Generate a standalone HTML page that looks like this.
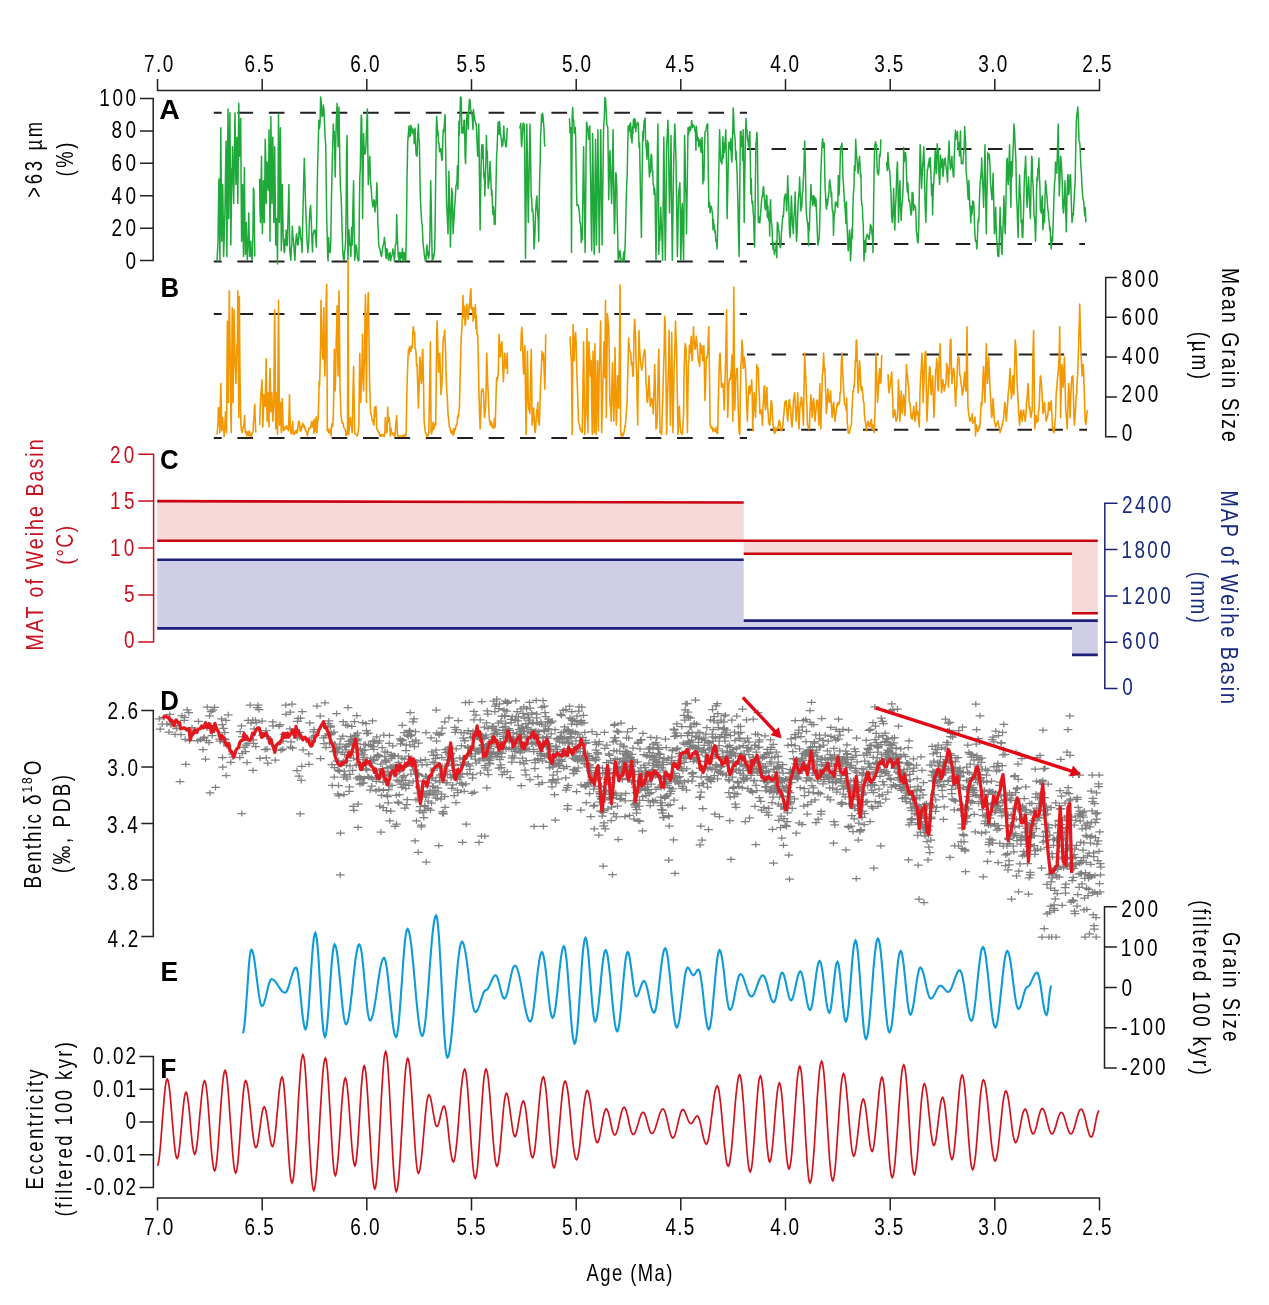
<!DOCTYPE html>
<html><head><meta charset="utf-8"><title>Figure</title>
<style>html,body{margin:0;padding:0;background:#fff;}svg{display:block;}</style>
</head><body>
<svg width="1269" height="1305" viewBox="0 0 1269 1305" style="font-family:'Liberation Sans',Arial,sans-serif"><g stroke="#231f20" stroke-width="1.5" fill="none">
<path d="M157.5 79.1V90.6H1099.5V79.1"/>
<path d="M262.2 79.1V90.6"/>
<path d="M366.8 79.1V90.6"/>
<path d="M471.5 79.1V90.6"/>
<path d="M576.2 79.1V90.6"/>
<path d="M680.8 79.1V90.6"/>
<path d="M785.5 79.1V90.6"/>
<path d="M890.2 79.1V90.6"/>
<path d="M994.8 79.1V90.6"/>
<path d="M157.5 1210.5V1198H1099.5V1210.5"/>
<path d="M262.2 1198V1210.5"/>
<path d="M366.8 1198V1210.5"/>
<path d="M471.5 1198V1210.5"/>
<path d="M576.2 1198V1210.5"/>
<path d="M680.8 1198V1210.5"/>
<path d="M785.5 1198V1210.5"/>
<path d="M890.2 1198V1210.5"/>
<path d="M994.8 1198V1210.5"/>
</g>
<text transform="translate(144 71.8) scale(0.8 1)" font-size="23.7" textLength="36.61" lengthAdjust="spacing">7.0</text>
<text transform="translate(144 1235) scale(0.8 1)" font-size="23.7" textLength="36.61" lengthAdjust="spacing">7.0</text>
<text transform="translate(244.4 71.8) scale(0.8 1)" font-size="23.7" textLength="36.66" lengthAdjust="spacing">6.5</text>
<text transform="translate(244.4 1235) scale(0.8 1)" font-size="23.7" textLength="36.66" lengthAdjust="spacing">6.5</text>
<text transform="translate(350.3 71.8) scale(0.8 1)" font-size="23.7" textLength="36.59" lengthAdjust="spacing">6.0</text>
<text transform="translate(350.3 1235) scale(0.8 1)" font-size="23.7" textLength="36.59" lengthAdjust="spacing">6.0</text>
<text transform="translate(456.4 71.8) scale(0.8 1)" font-size="23.7" textLength="36.42" lengthAdjust="spacing">5.5</text>
<text transform="translate(456.4 1235) scale(0.8 1)" font-size="23.7" textLength="36.42" lengthAdjust="spacing">5.5</text>
<text transform="translate(562 71.8) scale(0.8 1)" font-size="23.7" textLength="36.35" lengthAdjust="spacing">5.0</text>
<text transform="translate(562 1235) scale(0.8 1)" font-size="23.7" textLength="36.35" lengthAdjust="spacing">5.0</text>
<text transform="translate(665.6 71.8) scale(0.8 1)" font-size="23.7" textLength="36.00" lengthAdjust="spacing">4.5</text>
<text transform="translate(665.6 1235) scale(0.8 1)" font-size="23.7" textLength="36.00" lengthAdjust="spacing">4.5</text>
<text transform="translate(770.3 71.8) scale(0.8 1)" font-size="23.7" textLength="35.93" lengthAdjust="spacing">4.0</text>
<text transform="translate(770.3 1235) scale(0.8 1)" font-size="23.7" textLength="35.93" lengthAdjust="spacing">4.0</text>
<text transform="translate(874.3 71.8) scale(0.8 1)" font-size="23.7" textLength="36.38" lengthAdjust="spacing">3.5</text>
<text transform="translate(874.3 1235) scale(0.8 1)" font-size="23.7" textLength="36.38" lengthAdjust="spacing">3.5</text>
<text transform="translate(978.3 71.8) scale(0.8 1)" font-size="23.7" textLength="36.30" lengthAdjust="spacing">3.0</text>
<text transform="translate(978.3 1235) scale(0.8 1)" font-size="23.7" textLength="36.30" lengthAdjust="spacing">3.0</text>
<text transform="translate(1082.3 71.8) scale(0.8 1)" font-size="23.7" textLength="36.66" lengthAdjust="spacing">2.5</text>
<text transform="translate(1082.3 1235) scale(0.8 1)" font-size="23.7" textLength="36.66" lengthAdjust="spacing">2.5</text>
<text transform="translate(586.5 1281.1) scale(0.8 1)" font-size="23" textLength="107.23" lengthAdjust="spacing">Age (Ma)</text>
<path d="M153.2 98.5V260.6M140 98.5H153.9M140 130.9H153.9M140 163.3H153.9M140 195.8H153.9M140 228.2H153.9M140 260.6H153.9" stroke="#231f20" stroke-width="1.5" fill="none"/>
<text transform="translate(99.3 105.6) scale(0.8 1)" font-size="23.7" textLength="45.99" lengthAdjust="spacing">100</text>
<text transform="translate(111.6 138.2) scale(0.8 1)" font-size="23.7" textLength="30.64" lengthAdjust="spacing">80</text>
<text transform="translate(111.6 170.9) scale(0.8 1)" font-size="23.7" textLength="30.61" lengthAdjust="spacing">60</text>
<text transform="translate(111.5 203.5) scale(0.8 1)" font-size="23.7" textLength="30.72" lengthAdjust="spacing">40</text>
<text transform="translate(111.6 236.2) scale(0.8 1)" font-size="23.7" textLength="30.61" lengthAdjust="spacing">20</text>
<text transform="translate(125.6 268.8) scale(0.8 1)" font-size="23.7">0</text>
<path d="M1105.7 277.4V436.8M1105 277.4H1116.8M1105 317.2H1116.8M1105 357.1H1116.8M1105 396.9H1116.8M1105 436.8H1116.8" stroke="#231f20" stroke-width="1.5" fill="none"/>
<text transform="translate(1121.6 286.5) scale(0.8 1)" font-size="23.7" textLength="46.12" lengthAdjust="spacing">800</text>
<text transform="translate(1121.5 325) scale(0.8 1)" font-size="23.7" textLength="46.10" lengthAdjust="spacing">600</text>
<text transform="translate(1122 363.5) scale(0.8 1)" font-size="23.7" textLength="46.21" lengthAdjust="spacing">400</text>
<text transform="translate(1121.5 402) scale(0.8 1)" font-size="23.7" textLength="46.10" lengthAdjust="spacing">200</text>
<text transform="translate(1121.7 440.5) scale(0.8 1)" font-size="23.7">0</text>
<path d="M153.6 454.2V642M138.3 454.2H154.3M138.3 501.1H154.3M138.3 548.1H154.3M138.3 595H154.3M138.3 642H154.3" stroke="#c8101e" stroke-width="1.5" fill="none"/>
<text transform="translate(109.9 462.7) scale(0.8 1)" font-size="23.7" textLength="30.61" lengthAdjust="spacing" fill="#c8101e">20</text>
<text transform="translate(110.1 509.1) scale(0.8 1)" font-size="23.7" textLength="30.49" lengthAdjust="spacing" fill="#c8101e">15</text>
<text transform="translate(110 555.5) scale(0.8 1)" font-size="23.7" textLength="30.50" lengthAdjust="spacing" fill="#c8101e">10</text>
<text transform="translate(123.9 601.9) scale(0.8 1)" font-size="23.7" fill="#c8101e">5</text>
<text transform="translate(123.9 648.3) scale(0.8 1)" font-size="23.7" fill="#c8101e">0</text>
<path d="M1104.8 503.3V688.5M1104.1 503.3H1117.5M1104.1 549.6H1117.5M1104.1 595.9H1117.5M1104.1 642.2H1117.5M1104.1 688.5H1117.5" stroke="#1d1f78" stroke-width="1.5" fill="none"/>
<text transform="translate(1122.1 512.8) scale(0.8 1)" font-size="23.7" textLength="61.58" lengthAdjust="spacing" fill="#172a80">2400</text>
<text transform="translate(1121.6 558.2) scale(0.8 1)" font-size="23.7" textLength="61.47" lengthAdjust="spacing" fill="#172a80">1800</text>
<text transform="translate(1121.6 603.6) scale(0.8 1)" font-size="23.7" textLength="61.47" lengthAdjust="spacing" fill="#172a80">1200</text>
<text transform="translate(1122.1 649.1) scale(0.8 1)" font-size="23.7" textLength="46.10" lengthAdjust="spacing" fill="#172a80">600</text>
<text transform="translate(1122.3 694.5) scale(0.8 1)" font-size="23.7" fill="#172a80">0</text>
<path d="M153.3 710.5V936.5M141.3 710.5H154M141.3 767H154M141.3 823.5H154M141.3 880H154M141.3 936.5H154" stroke="#231f20" stroke-width="1.5" fill="none"/>
<text transform="translate(107.5 719) scale(0.8 1)" font-size="23.7" textLength="38.33" lengthAdjust="spacing">2.6</text>
<text transform="translate(107.3 776) scale(0.8 1)" font-size="23.7" textLength="38.40" lengthAdjust="spacing">3.0</text>
<text transform="translate(107.1 833) scale(0.8 1)" font-size="23.7" textLength="38.43" lengthAdjust="spacing">3.4</text>
<text transform="translate(107.4 890) scale(0.8 1)" font-size="23.7" textLength="38.38" lengthAdjust="spacing">3.8</text>
<text transform="translate(107.5 947) scale(0.8 1)" font-size="23.7" textLength="38.41" lengthAdjust="spacing">4.2</text>
<path d="M1104.5 906.7V1068.1M1103.8 906.7H1116.8M1103.8 947H1116.8M1103.8 987.4H1116.8M1103.8 1027.8H1116.8M1103.8 1068.1H1116.8" stroke="#231f20" stroke-width="1.5" fill="none"/>
<text transform="translate(1121.2 916.7) scale(0.8 1)" font-size="23.7" textLength="46.10" lengthAdjust="spacing">200</text>
<text transform="translate(1120.7 956.2) scale(0.8 1)" font-size="23.7" textLength="45.99" lengthAdjust="spacing">100</text>
<text transform="translate(1121.4 995.6) scale(0.8 1)" font-size="23.7">0</text>
<text transform="translate(1121.3 1035.1) scale(0.8 1)" font-size="23.7" textLength="55.39" lengthAdjust="spacing">-100</text>
<text transform="translate(1121.3 1074.6) scale(0.8 1)" font-size="23.7" textLength="55.39" lengthAdjust="spacing">-200</text>
<path d="M153.4 1056.4V1187.6M139.5 1056.4H154.1M139.5 1089.2H154.1M139.5 1122H154.1M139.5 1154.8H154.1M139.5 1187.6H154.1" stroke="#231f20" stroke-width="1.5" fill="none"/>
<text transform="translate(93.1 1063.8) scale(0.8 1)" font-size="23.7" textLength="53.83" lengthAdjust="spacing">0.02</text>
<text transform="translate(93 1096.5) scale(0.8 1)" font-size="23.7" textLength="53.84" lengthAdjust="spacing">0.01</text>
<text transform="translate(125.4 1129.3) scale(0.8 1)" font-size="23.7">0</text>
<text transform="translate(85.6 1162) scale(0.8 1)" font-size="23.7" textLength="63.09" lengthAdjust="spacing">-0.01</text>
<text transform="translate(85.7 1194.8) scale(0.8 1)" font-size="23.7" textLength="63.08" lengthAdjust="spacing">-0.02</text>
<text transform="translate(42.2 197.8) rotate(-90) scale(0.8 1)" font-size="23" textLength="95.00" lengthAdjust="spacing">&gt;63 µm</text>
<text transform="translate(72.8 176.6) rotate(-90) scale(0.8 1)" font-size="23" textLength="42.61" lengthAdjust="spacing">(%)</text>
<text transform="translate(42.9 650.6) rotate(-90) scale(0.8 1)" font-size="24.5" textLength="264.08" lengthAdjust="spacing" fill="#c8101e">MAT of Weihe Basin</text>
<text transform="translate(73.2 564.8) rotate(-90) scale(0.8 1)" font-size="24" textLength="48.73" lengthAdjust="spacing" fill="#c8101e">(°C)</text>
<text transform="translate(69.8 873.2) rotate(-90) scale(0.8 1)" font-size="23.5" textLength="122.91" lengthAdjust="spacing">(‰, PDB)</text>
<text transform="translate(43 1189.5) rotate(-90) scale(0.8 1)" font-size="23.3" textLength="149.96" lengthAdjust="spacing">Eccentricity</text>
<text transform="translate(71.6 1216.5) rotate(-90) scale(0.8 1)" font-size="23" textLength="218.09" lengthAdjust="spacing">(filtered 100 kyr)</text>
<text transform="translate(1222.3 267.9) rotate(90) scale(0.8 1)" font-size="24.3" textLength="217.43" lengthAdjust="spacing">Mean Grain Size</text>
<text transform="translate(1191.9 331.8) rotate(90) scale(0.8 1)" font-size="23.5" textLength="59.17" lengthAdjust="spacing">(µm)</text>
<text transform="translate(1220.6 490.4) rotate(90) scale(0.8 1)" font-size="24.5" textLength="266.96" lengthAdjust="spacing" fill="#172a80">MAP of Weihe Basin</text>
<text transform="translate(1191.4 571.8) rotate(90) scale(0.8 1)" font-size="23.5" textLength="63.79" lengthAdjust="spacing" fill="#172a80">(mm)</text>
<text transform="translate(1222.9 932.1) rotate(90) scale(0.8 1)" font-size="23.3" textLength="136.83" lengthAdjust="spacing">Grain Size</text>
<text transform="translate(1193.2 900.2) rotate(90) scale(0.8 1)" font-size="23.5" textLength="218.16" lengthAdjust="spacing">(filtered 100 kyr)</text>
<text transform="translate(41.4 888.5) rotate(-90) scale(0.8 1)" font-size="23.5" textLength="159.7" lengthAdjust="spacing">Benthic δ<tspan font-size="15" dy="-9">18</tspan><tspan dy="9">O</tspan></text>
<path d="M157.2 501.1L743.7 502.5V540.8H157.2Z" fill="#f6d8d9"/>
<rect x="743.7" y="540.8" width="328.3" height="13" fill="#f6d8d9"/>
<rect x="1072" y="540.8" width="25.8" height="72.4" fill="#f6d8d9"/>
<rect x="157.2" y="559.7" width="586.5" height="68.7" fill="#d0cde6"/>
<rect x="743.7" y="620.6" width="328.3" height="7.8" fill="#d0cde6"/>
<rect x="1072" y="620.6" width="25.8" height="34.3" fill="#d0cde6"/>
<g stroke-width="2.6" fill="none">
<path stroke="#c8000f" d="M157.2 501.1L743.7 502.5M157.2 540.8H1097.8 M743.7 553.8H1072 M1072 613.2H1097.8"/>
<path stroke="#1d1f78" d="M157.2 559.7H743.7 M743.7 620.6H1097.8 M157.2 628.4H1072 M1072 654.9H1097.8"/>
</g>
<g stroke="#231f20" stroke-width="2" fill="none">
<path d="M213.8 112.7H747" stroke-dasharray="15.7 15.7" stroke-dashoffset="7.8"/>
<path d="M213.8 261.5H747" stroke-dasharray="15.7 15.7" stroke-dashoffset="7.8"/>
<path d="M213.8 314H747" stroke-dasharray="15.7 15.7" stroke-dashoffset="7.8"/>
<path d="M213.8 437.9H747" stroke-dasharray="15.7 15.7" stroke-dashoffset="7.8"/>
<path d="M746.9 149H1085" stroke-dasharray="14.5 16.4" stroke-dashoffset="6.2"/>
<path d="M746.9 244H1085" stroke-dasharray="14.5 16.4" stroke-dashoffset="7.5"/>
<path d="M746.9 354.5H1087" stroke-dasharray="14.5 16.4" stroke-dashoffset="6.2"/>
<path d="M746.9 429.7H1087" stroke-dasharray="14.5 16.4" stroke-dashoffset="7.5"/>
</g>
<path d="M217 261.2L217.5 251.4L218 241.3L218.4 212L218.9 178.9L219.4 216.5L219.9 260.2L220.3 197.4L220.8 127.8L221.3 191.6L221.7 241.3L222.2 216L222.7 184.6L223.2 218.8L223.6 256.4L224.3 235.6L225 207.3L225.5 173.5L226.1 141.1L226.5 194.8L226.9 256.4L227.4 184.4L228 108.9L228.4 155.1L228.7 218.6L229.3 163.5L229.9 112.7L230.4 182.9L230.8 245.1L231.3 210.8L231.8 169.4L232.2 167.8L232.5 146.7L233.1 179.8L233.7 203.5L234.3 157.4L235 112.7L235.5 153.6L235.9 184.6L236.4 157.9L236.9 137.3L237.4 168.9L237.8 203.5L238.3 150L238.8 103.2L239.2 138.2L239.7 156.2L240.2 141.6L240.7 118.4L241.1 182.6L241.6 241.3L242.1 202L242.6 184.6L243 224L243.5 256.4L244 211.9L244.4 167.5L244.9 222.9L245.4 254.5L245.9 231.7L246.3 222.4L246.8 244.1L247.3 260.2L247.8 247.3L248.3 236.8L248.8 212.9L249.2 238.7L249.6 256.4L250.1 248.4L250.7 241.3L251.3 256.4L252 260.2L252.5 248.6L253 231.8L253.4 188.1L253.9 190.2L254.4 224.4L254.8 256.4M259.6 178.9L260 209.7L260.5 222.4L261 186.7L261.5 156.2L261.9 202.1L262.4 233.7L262.9 203.7L263.4 180.8L263.8 200.7L264.3 222.4L264.8 182.5L265.2 139.2L265.7 155.5L266.2 203.5L266.7 180.5L267.1 161.9L267.6 174.2L268.1 188.3L268.6 190.3L269 129.7L269.5 168.4L270 241.3L270.4 184.8L270.9 116.5L271.4 163.4L271.9 203.5L272.3 166.6L272.8 137.3L273.3 178.3L273.8 222.4L274.2 200.5L274.7 146.7L275.2 194L275.7 245.1L276.1 231.8L276.6 218.6L277.1 238.6L277.5 264L278 201.5L278.5 114.6L279 164.7L279.4 222.4L279.9 171.8L280.4 127.8L280.9 184.2L281.3 250.8L281.8 217.2L282.3 184.6L282.7 209.5L283.2 237.5L283.7 244.8L284.2 252.6L284.6 251.9L285.1 238.4L285.6 244.7L286.1 230L286.7 245.8L287.4 245.1L287.9 221.2L288.4 206.8L288.9 184.6L289.4 220.1L289.8 250.8L290.3 256.3L290.8 260.2L291.3 248.1L291.8 245.5L292.3 226.2L293 237.4L293.6 241.3L294.3 252.2L294.9 260.2L295.4 249.4L295.9 240.3L296.5 233.7L297 237.2L297.5 243.9L298 245.1L298.6 239.6L299.3 226.2L300 228.5L300.6 237.5L301.1 240L301.6 245L302.1 252.6L302.6 226.1L303.1 207.6L303.6 184.6L304.3 158.3L305 182.7L305.6 204.7L306.3 222.4L306.8 237.9L307.3 244.7L307.8 252.6L308.3 246.8L308.8 241.6L309.3 222.4L310 209.6L310.6 205.4L311.3 221.1L312 241.3L312.5 252L313 233.9L313.5 233.7L314 230.4L314.5 231.6L315 230L315.7 239.3L316.3 247L317 203.2L317.6 165.7L318.2 146L318.8 120.3L319.4 128.7L320.1 122.2L320.6 97L321 99.5L321.5 108.6L322 116.5L322.6 115.7L323.3 105.1L323.9 108.8L324.4 120.3L325.1 136.6L325.8 146.7L326.2 181.7L326.7 218.6L327.2 235.9L327.7 256.4L328.1 261L328.6 237.5L329.1 246.8L329.6 252.3L330.1 252.6L330.8 241L331.4 203.5L331.9 177L332.4 156.2L332.9 139L333.3 124L333.8 134.8L334.3 131.6L334.8 156.6L335.2 177L335.7 145.1L336.2 124L336.6 115.2L337.1 103.2L337.6 127.7L338.1 146.7L338.5 118.3L339 107L339.5 140.4L340 171.3L340.5 189.7L341 194.3L341.5 207.3L342.1 230.6L342.8 252.6L343.5 258.9L344.1 260.2L344.6 250.7L345.1 249.1L345.6 241.3L346.1 210.9L346.6 148.8L347.1 135.4L347.5 203.8L347.9 260.2L348.4 245.5L348.9 229.7L349.4 237.5L349.9 245.6L350.4 244.4L350.9 256.4L351.6 227.6L352.2 245.1L352.9 207.3L353.6 180.8L354.1 227.9L354.7 260.2L355.4 253.4L356 245.1L356.7 248.3L357.4 258.3L357.9 258.8L358.4 261L358.9 260.2L359.3 215.2L359.8 177L360.3 169L360.8 137.3L361.2 115.3L361.7 118.4L362.2 164.5L362.6 218.6L363.1 175.3L363.6 133.5L364.1 147.1L364.5 152.4L365 154.2L365.5 151.9L366.1 143L366.7 124.4L367.4 108.9L367.8 147.6L368.3 184.6L368.8 171.5L369.3 162.8L369.8 156.2L370.5 181.5L371.2 188.3L371.8 198.5L372.5 203.5L373 206.9L373.5 202.6L374 199.7L374.5 201.2L375 212L375.5 207.3L376.2 201.4L376.8 182.7L377.3 192.6L377.8 222.4L378.3 232.3L378.7 245.1L379.4 248L380 248.9L380.6 253.4L381.1 255.5L381.6 256.4L382.1 252.1L382.6 248.8L383.1 245.1L383.7 243.6L384.4 237.5L385.1 243.1L385.7 256.4L386.2 258.4L386.7 248.8L387.2 248.9L387.7 253.2L388.2 259.2L388.7 260.2L389.4 253.8L390.1 252.6L390.7 261L391.4 256.4L391.9 255.9L392.4 253.3L392.9 248.9L393.4 252.4L393.9 254.2L394.3 261L394.8 256.4L395.3 245.1L395.7 244.5L396.2 242.5L396.7 214.8L397.2 233.1L397.7 245.3L398.2 256.4L398.7 255.5L399.1 261L399.6 252.6L400.1 260.2L400.6 252.9L401 252.9L401.5 257.9L402 256.4L402.4 248.2L402.9 261L403.3 256.4L403.8 252.6L404.3 252.6L404.8 261L405.3 254.3L405.8 260.2L406.1 245.7L406.5 222.4L407.1 175L407.7 143L408.3 135.1L409 125.9L409.6 136.7L410.3 135.4L410.8 125.2L411.3 129L411.8 127.8L412.3 133.6L412.8 131.3L413.2 129.2L413.7 129.7L414.2 143.8L414.7 137L415.1 128.3L415.6 143L416.1 154.7L416.6 154.9L417.1 156.2L417.8 133.2L418.4 124L418.9 138.8L419.4 143L419.9 173L420.3 195.9L421 209.6L421.7 222.4L422.2 224.4L422.7 235.6L423.2 245.1L423.7 248.4L424.2 254.1L424.7 256.4L425.3 261L426 260.2L426.5 250L427 245.1L427.5 254.9L428 252.1L428.5 258.3L429.1 255L429.8 241.3L430.3 209.6L430.7 180.8L431.2 202.6L431.7 233.6L432.2 260.2L432.7 254.6L433.2 259.2L433.7 256.7L434.2 253.3L434.7 248.9L435.2 219.3L435.7 175.4L436.1 146.1L436.6 116.5L437.1 122.7L437.6 135.4L438 130.7L438.5 143L439 142.8L439.5 151.8L439.9 148.5L440.4 150.5L440.9 148.6L441.3 155.4L441.8 160.2L442.3 160L442.8 140.5L443.2 129.7L443.7 132L444.2 127.1L444.7 118.6L445.1 114.6L445.6 149.1L446.1 175.4L446.6 203.5L447.3 217L448 233.7L448.4 208.3L448.9 171.3L449.4 197.2L449.9 214.6L450.4 247L451.1 218.4L451.7 188.3L452.4 194L453.1 233.7L453.6 224.1L454.1 217.1L454.6 207.3L455.1 200.9L455.5 194.1L456 185.8L456.5 184.6L457 181.6L457.4 166L457.9 189.2L458.4 165.7L458.9 121.2L459.4 135L459.9 116.5L460.5 97L461.2 97.6L461.9 133L462.5 127.8L463 133.2L463.5 130.2L464 120.3L464.5 120.2L465.1 156.5L465.6 163.8L466.2 135.6L466.9 114.6L467.4 112.9L467.8 113.7L468.3 129.3L468.8 110.8L469.4 99.3L470.1 100.4L470.6 110.2L471.1 110.5L471.6 114.6L472.1 114.1L472.6 122.6L473 129.5L473.5 109.5L474 115.2L474.4 116.5L474.9 120.5L475.4 121.3L475.9 124.3L476.3 124L477 141.5L477.7 156.2L478.2 150.3L478.8 124L479.5 178.4L480.1 230L480.8 181.8L481.4 152.4L481.9 144.5L482.5 158.3L483 144.8L483.4 163L483.9 177.7L484.4 172.7L484.8 195.9L485.4 176.6L485.9 160.6L486.4 135.4L486.8 150.3L487.3 151.6L487.7 168.7L488.2 188.3L488.6 184.6L489.1 181.7L489.6 173.9L490 161.4L490.5 171.3L491 182.4L491.5 195.1L491.9 190.3L492.4 203.5L492.9 214.4L493.4 206.4L493.8 210.8L494.3 224.4L494.8 221.5L495.2 224.3L495.9 190L496.6 156.2L497.1 148.8L497.6 134L498.1 122.2L498.6 125.5L499 134.2L499.5 121.5L500 127.8L500.4 132.4L500.9 136.7L501.4 139.5L501.9 146.7L502.3 139.9L502.8 145.5L503.3 137.8L503.8 125.9L504.2 135.9L504.7 139.4L505.2 141.9L505.7 146.7L506.2 146.7L506.7 140.6L507.2 127.8M519.8 125.9L520.3 128.6L520.8 123.3L521.3 141.9L521.7 146.7L522.4 134.6L523 124L523.6 123.2L524.1 123.9L524.6 141.1L525 196.4L525.5 258.3L526.2 192.9L526.8 124L527.3 152.6L527.8 194L528.3 222.4L528.8 190.7L529.4 155.7L529.9 124L530.5 152.6L531.2 197.8L531.7 198L532.1 211.4L532.6 209.3L533.1 212.9L533.5 223.9L534 248.9L534.5 242.9L535 232.3L535.5 214.8L536.2 202.1L536.9 195.9L537.3 207.3L537.8 215.3L538.3 221.6L538.7 241.3L539.2 203.4L539.7 175.1L540.2 161.4L540.6 135.9L541.1 126L541.6 114.6L542.1 122.1L542.5 113.2L543 115.8L543.5 122.2L544 128.6L544.5 144L545 146.7M569 118.4L569.5 119L570 132.9L570.4 129.7L570.9 127.8L571.2 193.2L571.5 252.6L571.8 185.8L572.2 116.5L572.7 107.6L573.2 121.6L573.7 120.3L574.2 133.3L574.7 127.3L575.2 127.5L575.6 135.4L576.1 167.9L576.6 195.9L577 205.6L577.5 204.6L578 205.1L578.5 205.4L578.9 210L579.4 212.7L579.9 222.5L580.4 222.4L580.8 228.9L581.3 242.5L581.8 239.8L582.2 239.4L582.9 193.3L583.6 146.7L584.1 186.7L584.6 218.8L585.1 252.6L585.6 209.6L586.1 150.1L586.6 122.2L587.1 125.8L587.5 126.1L588 130.8L588.5 139.2L589.1 132.7L589.8 125.9L590.3 163.7L590.8 188.8L591.2 224.7L591.7 250.8L592.2 194.5L592.6 133.5L593.2 175L593.7 223.8L594.2 254.5L594.8 205.5L595.5 139.2L596 194.2L596.4 245.1L596.9 211.1L597.4 168.3L597.9 129.7L598.6 192.3L599.3 252.6L599.8 207.4L600.3 177L600.8 129.7L601.4 188.8L602.1 245.1L602.6 201.8L603.1 165.1L603.6 127.8L604.3 118.3L604.9 97.6L605.6 99.2L606.3 112.7L606.8 124.8L607.3 125.6L607.8 127.8L608.3 161.7L608.7 199.7L609.4 169L610 150.5L610.6 167.7L611.1 187.5L611.6 203.5L612.1 184.9L612.6 158.4L613.1 129.7L613.7 183.5L614.4 233.7L614.9 219.3L615.3 194.7L615.8 172.7L616.3 175.1L616.8 186.9L617.2 216.8L617.7 235.4L618.2 260.2L618.7 261L619.1 251.3L619.6 252.3L620.1 250.8L620.5 257.2L621 258.6L621.5 261L622 260.2L622.4 261L622.9 261L623.4 254.7L623.9 251.8L624.3 261L624.8 252.6L625.3 239.7L625.7 222.8L626.2 200.9L626.7 184.6L627.2 175.1L627.7 147.8L628.2 125.9L628.7 132.6L629.1 130.5L629.6 124.6L630.1 129.7L630.6 122.8L631 137.5L631.5 139.1L632 143L632.5 126.4L632.9 133.9L633.4 119.7L633.9 120.3L634.3 118.6L634.8 127.9L635.3 119.7L635.8 131.6L636.2 126.5L636.7 124.2L637.2 123.8L637.7 122.2L638.1 123.4L638.6 132.9L639.1 148L639.6 143L640 167.2L640.5 195.5L641 213.9L641.4 237.5L642.1 176.1L642.8 131.6L643.2 140.1L643.7 127.6L644.2 120.2L644.7 124L645.1 118.1L645.6 141.2L646.1 147.3L646.5 150.5L647 159.4L647.5 140.6L648 151.3L648.4 143L648.9 164.7L649.4 177L649.9 166L650.3 172.7L650.8 158L651.3 154.3L651.7 156.6L652.2 172.1L652.7 170.8L653.2 184.6L653.6 184.9L654.1 194.7L654.6 188.5L655.1 194L655.5 226.6L656 260.2L656.5 228.3L657 195.1L657.4 153.7L657.9 124L658.4 181.2L658.8 254.5L659.3 235.6L659.8 240.6L660.3 222.5L660.7 207.3L661.2 221.8L661.7 229.2L662.2 245.4L662.6 260.2L663.2 200L663.8 137.3L664.3 175.1L664.8 222.5L665.3 260.2L666 212.3L666.6 146.7L667.3 134.5L667.9 120.3L668.4 135.7L669 182.1L669.5 212.9L670 186L670.5 168.8L671 135.4L671.6 202L672.3 260.2L673 211.3L673.6 165.7L674.2 143.3L674.8 124L675.4 137.4L676.1 165.7L676.7 209.1L677.4 256.4L678 227L678.5 195.9L679.2 188.5L679.9 182.7L680.3 214.2L680.8 260.2L681.3 241.9L681.8 210.3L682.3 203.5L683 238.3L683.6 260.2L684.1 199.6L684.6 135.4L685.1 155.3L685.5 186.4L686 195.1L686.5 233.7L687 200L687.5 166.3L688 127.8L688.5 134.7L688.9 133L689.4 126.7L689.9 129.7L690.5 130.5L691.2 125.9L691.7 120.4L692.2 126.5L692.6 127.7L693.1 125L693.6 125.4L694 126.1L694.5 126.7L695 131.6L695.5 133L695.9 150.3L696.4 126.2L696.9 133.5L697.4 137.5L697.8 141L698.3 138.1L698.8 146.7L699.2 143.7L699.7 145L700.2 139.2L700.7 150.5L701.3 152.6L702 137.3L702.5 150.2L702.9 183.9L703.4 168.3L703.9 180.8L704.4 153.3L705 131.6L705.7 131.4L706.3 127.8L707 124.4L707.7 124L708.2 164.4L708.8 207.3L709.5 202.2L710.1 212.9L710.6 205.9L711.1 209.1L711.5 206.8L712 211L712.5 213.8L713 229.7L713.4 219.4L713.9 226.2L714.4 225.1L714.8 232.6L715.3 230.7L715.8 241.3L716.5 239.6L717.1 248.9L717.7 227.8L718.3 203.5L718.9 168.5L719.6 129.7L720.2 149.7L720.9 161.9L721.4 161.5L721.9 163.9L722.4 156.2L722.9 136.8L723.4 158.1L723.8 143.2L724.3 152.4L724.8 147.2L725.3 137.6L725.8 129.7L726.5 164.9L727.1 218.6L727.8 187.9L728.5 150.5L729 142L729.5 146.6L730 143L730.4 150L730.9 138.5L731.4 159.9L731.9 161.9L732.5 143.8L733.2 108L733.7 116.9L734.2 132.7L734.7 135.4L735.2 140.7L735.7 159.6L736.1 151.2L736.6 163.8L737.1 173.9L737.5 188.3L738 207.3L738.6 238.4L739.1 256.4L739.7 197.1L740.4 131.6L741 131.3L741.7 146.7L742.2 137L742.7 160.5L743.2 129.7L743.7 175.5L744.2 222.4L744.8 176.1L745.5 133.5L746 118.5L746.5 130.3L747 129.7L747.5 140.3L748 140.9L748.5 146.7L749.2 136.8L749.8 131.6L750.3 157.3L750.8 194L751.3 178.8L751.7 198.9L752.2 204.1L752.7 201.6L753.1 211.6L753.6 216.1L754.1 236.4L754.6 247L755.2 199.7L755.9 143L756.4 141.6L756.9 132.3L757.4 141.1L757.9 190.7L758.3 222.4L758.8 221.8L759.3 217L759.8 223L760.2 218.6L760.7 212.4L761.2 205.9L761.7 199.2L762.1 195.9L762.6 196.2L763.1 188L763.6 186.5L764.3 198L765 207.3L765.4 209.8L765.9 205L766.4 195.1L766.9 195.9L767.3 217.3L767.8 205.7L768.3 215.6L768.7 220.5L769.2 212.3L769.7 236L770.2 204.9L770.6 199.7L771.1 220.1L771.6 223.3L772.1 228.5L772.5 241.3L773 249.3L773.5 242.4L773.9 249.5L774.4 254.5L774.9 250.3L775.4 250.9L775.8 250.3L776.3 241.3L776.8 257.7L777.3 222.2L777.7 222.8L778.2 226.2L778.7 231.3L779.1 232.9L779.6 243L780.1 247L780.6 247.7L781 243.2L781.5 231.9L782 226.2L782.5 219.3L782.9 215.4L783.4 216.6L783.9 207.3L784.4 197.4L784.9 196.3L785.4 194L786.1 200.4L786.7 211L787.2 194.6L787.7 175.7L788.2 192.1L788.7 201.8L789.2 221.4L789.6 232.4L790.1 237.5L790.8 214.8L791.4 195.9L791.9 209.2L792.4 225.4L792.9 227.8L793.3 233.7L793.8 218.6L794.3 211.7L794.8 205.1L795.2 192.1L795.9 222.9L796.5 241.3L797.1 232.2L797.6 217.2L798.1 203.5L798.6 195.6L799.1 192.2L799.6 177L800.2 194L800.9 211L801.4 204L801.8 207L802.3 192.8L802.8 192.1L803.3 180.4L803.7 172.7L804.2 159.2L804.7 141.1L805.3 162.4L806 203.5L806.5 215.1L807 218.8L807.5 222.4L808 227.8L808.5 245.4L808.9 222.9L809.4 230L809.9 211L810.4 201.3L810.9 184.6L811.6 199.7L812.2 195.9L812.7 205.5L813.2 200.7L813.7 195.7L814.1 203.5L814.6 197.3L815.1 206.3L815.6 198.5L816 199.7L816.5 211.7L817 224.3L817.4 235.3L817.9 245.1L818.6 241.5L819.2 237.5L819.7 224.6L820.3 199.5L820.8 175.1L821.3 161.7L821.8 148.7L822.3 141.1L822.7 138.8L823.2 147.5L823.7 147.6L824.2 143L824.6 164.6L825.1 187L825.6 195.7L826.1 207.3L826.5 209.2L827 199.6L827.5 205.3L827.9 199.7L828.4 195.8L828.9 192.8L829.3 184.1L829.8 179.7L830.2 184.6L830.7 187.2L831.2 196.9L831.6 192L832.1 207.3L832.6 212.3L833 210.7L833.5 235.3L834 218.6L834.5 212.9L834.9 212.8L835.4 201.9L835.9 203.5L836.4 205.5L836.8 205.3L837.3 202.1L837.8 207.3L838.3 175.5L838.8 195.4L839.3 192.1L840 168.1L840.6 146.7L841.3 146.9L841.9 143L842.4 154.8L842.9 177.3L843.5 184.6L844 194.1L844.5 202.2L845 207.3L845.4 212.9L845.9 223.4L846.4 201.8L846.9 222.4L847.5 235.2L848.2 250.8L848.8 245.2L849.5 230L850 234.9L850.5 261L851 252.6L851.5 241.6L852 228.2L852.4 238.3L852.9 207.3L853.4 192.9L853.9 189.6L854.4 165.7L855.1 170.7L855.7 139.2L856.2 151.1L856.7 156.8L857.2 161.4L857.6 169.4L858.1 173.4L858.6 164.4L859.1 160.9L859.5 156.2L860 164.3L860.5 177.1L860.9 174L861.4 199.7L861.9 204.4L862.4 207.2L862.8 219.3L863.3 226.2L864 261L864.6 248.9L865.1 240.4L865.6 252.2L866.1 237.5L866.6 236.8L867.1 234.1L867.6 236.6L868 235.6L868.5 238.3L869 239.5L869.5 234.5L869.9 233.7L870.4 224.2L870.9 227.8L871.4 226.2L871.9 232.6L872.5 237.8L873 252.6L873.5 213.5L874.1 169.9L874.7 146.7L875.1 145L875.6 141.7L876.1 146.5L876.5 144.8L877 166.6L877.5 173.2L878 172.4L878.5 175L879 169.4L879.5 154.3L880 156.8L880.4 152.2L880.9 139.2M886.6 161.9L887.3 170.6L887.9 152.4L888.4 159.2L889 169.3L889.5 169.4L890 175.2L890.5 185.7L891 192.1L891.6 216.6L892.3 222.4L893 210.9L893.6 188.3L894.2 211.5L894.8 230L895.4 209.2L896.1 195.9L896.7 174.5L897.4 161.9L898 187.5L898.5 222.4L899.2 199.8L899.9 180.8L900.5 205.2L901.2 220.5L901.7 206.6L902.2 203L902.7 195.9L903.2 185.5L903.7 147.4L904.2 161.9L904.9 157.9L905.5 152.4L906 157.7L906.5 173.5L907 187.3L907.4 192.1L907.9 183.1L908.4 194.8L908.8 201.2L909.3 199.7L910 204.2L910.6 211L911.1 215L911.6 213.1L912.1 192.2L912.5 199.7L913 193.1L913.5 210.3L914 207.3L914.5 204.9L915 207.3L915.5 207.1L915.9 214.8L916.4 232.1L916.9 233.4L917.4 241.3L918.1 242.9L918.8 226.2L919.4 185.7L920.1 144.8L920.6 152.3L921.1 174.3L921.6 188.3L922.1 175.8L922.6 166.3L923.1 160L923.8 146.9L924.4 169.4L925.1 202.9L925.8 222.4L926.3 208.3L926.8 185.1L927.3 169.4L927.8 169.3L928.3 164.6L928.8 161.9L929.3 158.6L929.7 166.9L930.2 157.5L930.7 167.5L931.2 182.9L931.6 195.8L932.1 184.2L932.6 214.8L933.2 190.7L933.9 180.8L934.6 166.8L935.2 150.5L935.7 156.4L936.2 173.4L936.7 169.4L937.2 143.8L937.7 158.1L938.3 148.6L938.9 173.4L939.6 184.6L940 178.2L940.5 155.2L941 166.6L941.5 161.9L941.9 167.4L942.4 158.7L942.9 176.5L943.4 173.2L943.8 165.8L944.3 159.4L944.8 164.8L945.2 158.1L945.7 164.4L946.2 167.4L946.7 171.3L947.1 177L947.6 181.9L948.1 160.6L948.6 152.2L949 141.1L949.7 158.7L950.4 169.4L950.9 166.9L951.4 161.5L951.9 156.2L952.3 167.1L952.8 169.4L953.3 176.5L953.8 177L954.2 158.1L954.7 146.7L955.4 130.3L956 139.2L956.5 133.6L957 136.2L957.5 131.6L958 149L958.6 142.5L959.1 148.6L959.5 156L960 143.6L960.5 130.9L960.9 154.3L961.4 163.6L961.9 163.2L962.4 162.2L962.8 163.8L963.3 158.5L963.7 152.1L964.2 145.8L964.7 126.6L965.1 135.4L965.6 141.8L966.1 170.8L966.6 177L967.3 183.9L967.9 195.9L968.4 199.4L968.9 180.5L969.4 195.2L969.8 207.3L970.3 210.2L970.8 222.8L971.3 206.2L971.7 214.8L972.2 212.3L972.7 201.1L973.1 203.1L973.6 201.6L974.1 210.9L974.6 226.4L975 235L975.5 241.3L976.2 240.7L976.8 248.9L977.3 241.3L977.8 226.8L978.3 218.6L978.8 221.9L979.4 200.5L979.9 188.3L980.3 181.1L980.8 177.6L981.3 170.5L981.7 158.1L982.2 173.2L982.7 183.4L983.2 193.4L983.6 207.3L984.3 175.3L985 144.8L985.6 190.4L986.3 233.7L986.8 199.4L987.3 180.7L987.8 152.4L988.3 158.4L988.8 155.2L989.3 154.3L990 166L990.6 184.6L991.3 192.2L992 199.7L992.5 189.8L993.1 173.2L993.8 204.3L994.4 233.7L995.1 222.2L995.7 207.3L996.2 230.1L996.8 240.7L997.3 247L997.8 255.2L998.3 256.5L998.8 256.4L999.4 236.3L1000.1 207.3L1000.6 228.1L1001 226.2L1001.5 250.7L1002 254.5L1002.5 234.4L1002.9 231L1003.4 216.1L1003.9 195.9L1004.5 216.3L1005.2 233.7L1005.7 214.7L1006.2 187.6L1006.7 161.9L1007.2 158.2L1007.7 177.8L1008.2 184.6L1008.9 164.7L1009.6 144.8L1010.2 181.3L1010.9 207.3L1011.4 161.5L1011.9 177.3L1012.4 169.4L1012.9 154.5L1013.4 142.3L1013.9 124L1014.6 131.7L1015.2 146.7L1015.9 160L1016.5 195.9L1017.1 206.9L1017.6 224.7L1018.1 237.5L1018.6 213.2L1019.1 191.5L1019.6 175.1L1020.1 193.6L1020.6 198.4L1021.1 222.4L1021.7 220.1L1022.2 237L1022.8 237.5L1023.5 213.1L1024.1 188.3L1024.6 171.4L1025.1 167.4L1025.6 156.2L1026.1 172.2L1026.6 195.5L1027.1 207.3L1027.8 191.3L1028.5 177L1028.9 184.4L1029.4 200.1L1029.9 209.5L1030.4 218.6L1031 186.9L1031.7 156.2L1032.2 160.1L1032.6 180L1033.1 184.5L1033.6 199.7L1034 215.8L1034.5 217.3L1035 224.1L1035.5 241.3L1036 223.3L1036.5 194.4L1037 177L1037.4 181L1037.9 168.2L1038.4 169.7L1038.9 158.1L1039.4 176.8L1039.9 186.1L1040.4 211L1040.9 209.6L1041.3 213.2L1041.8 200.7L1042.3 195.9L1042.9 229.8L1043.6 222.4L1044.1 209L1044.5 222.1L1045 199.1L1045.5 180.8L1046 185.2L1046.4 190.1L1046.9 195.7L1047.4 203.5L1047.8 209L1048.3 212L1048.8 219.4L1049.3 222.4L1049.7 230L1050.2 227.4L1050.7 243.2L1051.2 248.9L1051.8 237.3L1052.5 241.3L1053 228.4L1053.5 212.6L1054 195.9L1054.5 183.6L1055 179.8L1055.5 161.9L1056.2 167.4L1056.8 173.2L1057.5 150L1058.2 124L1058.7 161.8L1059.3 195.9L1060 177.7L1060.6 156.2L1061.3 162.4L1061.9 173.2L1062.4 188.5L1062.9 207.6L1063.5 212.9L1064 203.6L1064.5 196.7L1065 180.8L1065.6 208.5L1066.3 231.8L1067 196.6L1067.6 177L1068.1 174.6L1068.6 194.8L1069.1 192.1L1069.6 182.8L1070.1 174.7L1070.6 175.1L1071.3 201.1L1072 222.4L1072.4 219.8L1072.9 213.7L1073.4 215L1073.9 203.5L1074.5 193.1L1075.2 180.8L1075.7 149L1076.3 122.2L1076.8 115L1077.3 112.2L1077.8 107L1078.4 119.3L1079 141.1L1079.5 141.5L1080.1 146.7L1080.8 165.2L1081.4 173.2L1082.1 188.7L1082.7 195.9L1083.2 199.8L1083.8 201.7L1084.3 211L1084.8 215.7L1085.3 207.7L1085.8 222.4" stroke="#1fa93a" stroke-width="1.5" fill="none" stroke-linejoin="round"/>
<path d="M217 434.5L217.5 429.6L218 423.2L218.4 407.6L218.9 408.1L219.4 421.9L219.9 432.6L220.3 406.2L220.8 383.5L221.3 406.2L221.7 430.8L222.2 424.9L222.7 417.5L223.2 426.8L223.7 430L224.2 436.4L224.9 425.1L225.5 411.8L226 425L226.5 432.6L227 373.4L227.4 321.1L227.9 360.4L228.4 402.4L228.8 343.1L229.3 290.8L229.8 328.5L230.3 364.6L230.7 400.7L231.2 432.6L231.7 379.3L232.2 307.8L232.6 351.5L233.1 402.4L233.6 348.9L234 309.7L234.5 337.8L235 360.8L235.5 371.8L235.9 383.5L236.4 361.6L236.9 345.7L237.4 341.2L237.8 290.8L238.3 360.2L238.8 417.5L239.1 352.8L239.3 296.5L239.7 342.7L240.1 383.5L240.5 406.2L240.9 425.1L241.4 430L242 432.6L242.5 430.7L243 427.1L243.5 427L244.1 424.3L244.6 415.6L245 426.4L245.4 432.6L245.9 433.4L246.3 431.5L246.8 435.9L247.3 434.5L247.8 432L248.2 432.5L248.7 435.4L249.2 430.8L249.6 431.7L250.1 436L250.6 434.4L251.1 436.4L251.5 436L252 433.7L252.5 432.6L253 432.6L253.4 423L253.9 420.1L254.4 408L254.8 404.3L255.3 422.6L255.8 432.6M259.6 425.1L260.2 407.5L260.9 392.9L261.5 388.1L262 379.7L262.4 397.9L262.8 427L263.4 410.4L263.9 394.8L264.6 396.2L265.2 406.2L265.7 380.5L266.2 358.9L266.7 395.1L267.1 421.3L267.6 408.2L268.1 392.9L268.6 412.9L269 427L269.5 388.4L270 368.3L270.4 383.8L270.9 411.8L271.4 399.4L271.9 392.9L272.3 407.6L272.8 421.3L273.3 411.1L273.8 406.2L274.2 353.2L274.7 309.7L275.2 372.5L275.7 428.9L276.1 408.3L276.6 392.9L277.1 417.7L277.5 434.5L278 368.5L278.5 300.3L279 357.5L279.4 425.1L279.9 412.2L280.4 402.4L280.9 417.7L281.3 432.6L281.8 412.9L282.3 398.6L282.7 413L283.2 430.8L283.7 429.9L284.2 430.2L284.6 427L285.1 428.9L285.6 428.8L286.1 427.5L286.5 425.9L287 427L287.5 428.9L288 428.7L288.5 430.8L289 414.3L289.5 394.8L289.9 414.2L290.4 428.9L291.1 433.9L291.7 432.6L292.2 426.2L292.7 421.3L293.1 432.4L293.6 434.5L294.1 434.5L294.6 432.4L295 432.7L295.5 430.8L296 433.3L296.5 430.1L296.9 431.9L297.4 432.6L298.1 425.9L298.7 421.3L299.2 421.2L299.7 424.8L300.2 430.8L300.7 431.3L301.2 429.7L301.7 426L302.1 427L302.6 423.1L303.1 424.9L303.5 425.9L304 425.1L304.5 428.1L305 427.1L305.5 430.8L306.2 431.1L306.9 432.6L307.3 436L307.8 432.1L308.3 432L308.7 428.9L309.2 428L309.7 428.4L310.2 428.2L310.6 427L311.1 426.3L311.6 421.5L312.1 427L312.5 425.1L313 423.4L313.5 421L313.9 433.3L314.4 419.4L315.1 431.3L315.7 425.1L316.3 416.7L316.9 432.6L317.5 423.5L318.2 417.5L318.7 400L319.1 381.6L319.6 385.7L320.1 364.6L320.6 343.6L321 300.3L321.5 317.6L322 341.9L322.5 353.7L322.9 358.9L323.4 339L323.9 307.8L324.3 358.3L324.8 375.9L325.3 356.2L325.8 336.2L326.2 299.4L326.7 284.2L327 346.6L327.3 430.8L327.9 428.5L328.6 432.6L329.1 432.2L329.6 432.9L330 429.8L330.5 428.9L331 436L331.4 428.3L331.9 423.8L332.4 427L332.9 422.9L333.3 417.5L333.8 389L334.3 349.4L334.8 363.5L335.2 391L335.7 370L336.2 341.9L336.6 329.6L337.1 305.9L337.6 344.6L338.1 375.9L338.5 335.4L339 290.8L339.5 329.8L340 387.3L340.4 397.2L340.9 413.7L341.4 418.2L341.8 421.3L342.3 423.1L342.8 422.6L343.3 424.8L343.7 427L344.2 428.3L344.7 428.5L345.2 429.9L345.6 430.8L346.1 435.5L346.6 433.1L347 432.2L347.5 434.5L347.8 344.9L348.1 260.5L348.4 351.4L348.7 434.5L349.2 428.7L349.8 423.7L350.4 417.5L350.8 421.7L351.3 424.1L351.8 428.3L352.2 432.6L352.9 396.7L353.6 366.5L354.1 401.1L354.7 432.6L355.4 434.3L356 434.5L356.5 435L357 436L357.4 435L357.9 434.5L358.4 429.1L358.9 425.1L359.3 384.4L359.8 353.2L360.3 379.2L360.8 402.4L361.2 386.8L361.7 375.9L362.2 353.4L362.6 334.3L363.1 376.8L363.6 391L364.1 367L364.5 360.8L365 317.4L365.5 294.6L366 343.1L366.4 402.4L366.9 344.4L367.4 317.3L367.8 307.2L368.3 292.7L368.8 326.3L369.3 364.6L369.7 386.4L370.2 402.4L370.7 413.4L371.2 413.7L371.8 418.1L372.5 421.3L373 420.2L373.5 424.4L374 425.1L374.5 407.2L374.9 416.9L375.4 411.4L375.9 406.2L376.4 415.6L376.8 428.9L377.3 429.9L377.8 430.4L378.3 431.8L378.7 432.6L379.2 432.3L379.7 435.7L380.1 434.2L380.6 436.4L381.1 436L381.6 434.8L382 436L382.5 434.5L383 435L383.5 436L383.9 436L384.4 436.4L384.9 431.7L385.3 417.5L385.8 426L386.3 432.6L386.8 432.8L387.2 428.9L387.7 407.1L388.2 420.6L388.7 422.3L389.1 417.5L389.6 421.8L390.1 432.6L390.5 436L391 428.1L391.5 432.5L392 432.6L392.4 433.9L392.9 434.3L393.4 435L393.9 433.3L394.3 436L394.8 436.4L395.3 431.4L395.7 425.1L396.2 420.7L396.7 415.6L397.2 429.3L397.6 436.4L398.1 436L398.6 436L399.1 436L399.5 436L400 436L400.5 436.4L400.9 436L401.4 436L401.9 436L402.4 436L402.8 435.6L403.3 436.4L403.8 435.2L404.3 436L404.7 434.9L405.2 436L405.7 436L406.1 434.5L406.6 405.7L407.1 383.5L407.6 369L408 357L408.5 349.5L409 354.7L409.5 346.7L409.9 349.4L410.4 348.7L410.9 351.8L411.4 345.7L411.9 347.9L412.4 347.5L412.9 330.7L413.3 326.7L414 334.1L414.7 332.4L415.1 348.3L415.6 349.4L416.1 354L416.6 366L417.1 364.6L417.8 387.5L418.4 408.1L419.1 386.2L419.8 357L420.3 362L420.8 375.1L421.3 383.5L421.8 379.8L422.3 353.9L422.8 349.4L423.5 382.9L424.1 421.3L424.8 427.2L425.4 432.6L425.9 433.4L426.4 434.4L427 436.4L427.4 436L427.9 434.7L428.4 435.1L428.8 432.6L429.3 404.9L429.9 373.1L430.4 341.9L430.7 384.3L431.1 432.6L431.6 433.7L432.1 430.9L432.6 428.9L433.1 422.3L433.6 429.4L434.1 428.4L434.7 425L435.2 422.9L435.7 425.1L436.2 381.3L436.7 334.1L437.2 321.1L437.8 345.5L438.5 372.1L439.2 355L439.8 353.2L440.4 374.9L441 394.8L441.6 388L442.3 375.9L443 342.9L443.6 336.2L444.1 338.1L444.6 330L445.1 341.9L445.6 351.2L446.1 371.7L446.6 387.3L447.3 397.9L448 413.7L448.6 418.8L449.3 427L449.8 427.1L450.3 428.7L450.8 432.6L451.3 431L451.7 432.6L452.2 433.7L452.7 430.8L453.2 435.3L453.6 428.5L454.1 433.6L454.6 428.9L455.1 428L455.5 429.6L456 425.3L456.5 425.1L457 425.1L457.4 418.8L457.9 415.6L458.4 417.5L458.9 411.2L459.4 407.5L459.9 387.3L460.5 362.8L461.2 338.1L461.9 328.1L462.5 313.5L463 295.5L463.5 317.3L464 305.9L464.5 311.6L465.1 325.3L465.6 323L466.2 307.3L466.9 304L467.5 313.2L468.2 319.2L468.7 312.9L469.2 304.2L469.7 307.8L470.3 293.1L470.9 288.9L471.4 309.3L472 307.8L472.6 307.3L473.1 321.1L473.8 308.3L474.4 309.7L474.9 318.3L475.4 304.9L475.9 328.7L476.3 315.4L477 334.4L477.7 334.3L478.2 353.9L478.8 387.3L479.5 410.4L480.1 428.9L480.8 414.8L481.4 391L481.9 391L482.5 388.8L483 389.1L483.5 392.1L484 406.8L484.5 417.5L485.1 412.5L485.8 402.4L486.3 378.4L486.7 353.2L487.2 366L487.7 383.5L488.3 395.4L489 413.7L489.5 421L490 421.4L490.4 425.4L490.9 421.3L491.4 422.7L491.8 422.8L492.3 427.8L492.8 427L493.3 427.6L493.8 428.1L494.3 418.8L494.8 426.2L495.2 427L495.9 400.8L496.6 377.8L497.1 380.7L497.6 378L498.1 375.9L498.6 362L499 334.3L499.7 346.5L500.4 357L500.9 344.4L501.4 348L501.9 341.9L502.4 354.1L502.9 369.7L503.4 381.6L504 367.6L504.7 353.2L505.4 363.3L506 368.3L506.6 365.1L507.2 353.2L507.4 360.2L507.5 374M520.8 351.3L521.3 332.9L521.8 327.2L522.3 336.2L523 359.4L523.6 374L524.3 356.4L524.9 345.7L525.5 392.9L526.1 434.5L526.7 394.1L527.4 351.3L527.9 377.5L528.3 402.4L528.8 409.7L529.4 409.1L529.9 413.7L530.5 380.4L531.2 349.4L531.7 381.4L532.1 425.1L532.6 419.6L533.1 414.8L533.6 408.1L534.3 421.2L535 432.6L535.6 428.9L536.3 417.5L536.8 409.7L537.3 409.3L537.8 402.4L538.3 421.3L538.8 422.5L539.3 425.1L540 403.4L540.6 383.5L541.3 370.6L542 351.3L542.5 354.5L543 360L543.5 353.2L544.1 369.3L544.8 389.1L545.3 368.1L545.7 334.3M570 336.2L570.5 345.9L571 355.7L571.5 364.6L571.8 398.5L572.2 434.5L572.6 380.6L573 324.8L573.5 335.5L574.1 360.8L574.6 348L575.1 337L575.6 332.4L576.1 342.7L576.6 363.3L577.1 379.7L577.8 398.7L578.5 421.3L578.9 422.9L579.4 424.3L579.9 428.4L580.4 428.9L580.8 430.9L581.3 431L581.8 429.1L582.2 432.6L582.9 389.9L583.6 341.9L584.1 382.7L584.7 434.5L585.4 420.5L586 413.7L586.5 369.5L587 328.6L587.4 379.9L587.9 432.6L588.4 385.4L588.9 341.9L589.4 353.5L589.9 359.4L590.4 375.9L590.8 364.7L591.1 360.8L591.7 402.3L592.3 434.5L592.6 398.4L593 351.3L593.6 390.8L594.2 432.6L594.5 388.9L594.9 343.8L595.5 389.3L596.1 434.5L596.7 396.7L597.4 360.8L597.8 395.5L598.3 430.8L598.8 397.6L599.3 364.6L599.9 354.8L600.6 321.1L601.2 381.4L601.7 432.6L602.4 403.4L603 379.7L603.5 362.6L604 341.9L604.5 373.2L604.9 377.8L605.2 336.7L605.5 300.3L605.9 356.8L606.3 417.5L606.8 380.5L607.4 313.5L608.1 321.6L608.7 326.7L609.2 351.2L609.7 394.8L610.2 405.9L610.7 407.8L611.2 421.3L611.8 388.3L612.5 362.7L613.2 397.5L613.8 421.3L614.4 398.2L615 347.5L615.6 385.4L616.3 425.1L617 405.4L617.6 375.9L618.2 396.9L618.7 408.1L619.4 352.9L620.1 285.1L620.4 349L620.6 430.8L621.3 436L622 434.5L622.4 433.4L622.9 436L623.4 434.5L623.9 432.6L624.3 431.5L624.8 426.1L625.3 426.7L625.7 421.3L626.4 412L627.1 402.4L627.6 378.9L628.1 363L628.6 338.1L629.1 344.7L629.6 351.5L630.1 351.3L630.8 352.8L631.4 364.6L631.9 362.6L632.4 366.6L632.8 376.1L633.3 375.9L634 334.1L634.6 319.2L635.1 327.4L635.6 338.9L636.1 362.7L636.7 373.8L637.2 402.9L637.7 425.1L638.3 377L639 330.5L639.6 348.2L640.3 358.9L640.8 364.4L641.3 367.6L641.8 370.2L642.3 365.8L642.8 363.3L643.3 357L644 352.8L644.7 349.4L645.3 355.6L646 383.5L646.5 388.4L647 400.9L647.5 402.4L648 397.2L648.5 386.3L649 375.9L649.7 392.8L650.3 406.2L651 402.6L651.7 398.6L652.2 400.9L652.7 404.1L653.2 413.7L653.7 398.4L654.2 385.1L654.7 364.6L655.3 386.1L656 428.9L656.7 427.2L657.3 417.5L657.8 390.7L658.3 364.5L658.8 349.4L659.4 390.1L660 432.6L660.5 431.5L661.1 433.3L661.7 434.5L662.2 413L662.7 401.1L663.2 382L663.7 364.7L664.2 349.4L664.7 316.4L665.3 324.8L666 377.2L666.6 434.5L667.3 406.1L667.9 383.5L668.5 369.2L669.1 330.5L669.7 374.9L670.4 425.1L671.1 379.9L671.7 332.4L672.3 381.8L672.9 432.6L673.5 400.6L674.2 364.6L674.8 353.3L675.5 321.1L676.1 339.5L676.6 349.4L677.3 395.3L678 434.5L678.6 425L679.3 406.2L679.8 418.4L680.3 425.9L680.8 432.6L681.3 433L681.8 432.6L682.3 434.5L683 425.7L683.6 411.8L684.1 370.6L684.6 357L685.1 343.5L685.6 345.4L686.1 349.4L686.8 392.9L687.4 432.6L687.9 392.9L688.4 364.6L688.9 360.6L689.4 345.3L689.9 353.2L690.5 348.4L691.2 336.2L691.7 357.7L692.2 360.8L692.8 346.4L693.5 326.7L694 339.3L694.5 342.3L695 349.4L695.7 346.3L696.3 336.2L696.8 342.4L697.3 347.4L697.8 353.2L698.3 358.3L698.8 362.7L699.2 362.5L699.7 366.5L700.2 343.4L700.7 353.7L701.2 345.7L701.9 346.2L702.6 360.8L703.2 360.5L703.9 345.7L704.4 369.1L705 400.5L705.7 380.2L706.3 357L707 358.4L707.7 353.2L708.2 340L708.8 326.7L709.5 373.7L710.1 425.1L710.6 426L711.1 428L711.5 427.1L712 428.9L712.5 427.2L713 431.7L713.4 429.3L713.9 428.9L714.4 430L714.8 429.5L715.3 431.5L715.8 430.8L716.3 427.2L716.7 432.2L717.2 433.6L717.7 432.6L718.3 401.3L719 375.9L719.6 355.5L720.1 353.2L720.8 369.9L721.5 387.3L722.1 383.7L722.8 383.5L723.3 385.4L723.8 401.6L724.3 410L724.8 384.3L725.2 375.9L725.9 347.6L726.6 309.7L727.1 363.5L727.7 417.5L728.4 398L729 381.6L729.7 378.2L730.4 379.7L730.9 372.6L731.4 368.4L731.9 355.1L732.3 392.6L732.8 421.3L733.3 353.2L733.8 287L734.2 343.7L734.7 410L735.2 396.1L735.7 375.9L736.2 376.6L736.7 368.5L737.2 368.3L737.8 391.7L738.5 417.5L739.1 432L739.8 434.5L740.4 391.8L740.9 364.6L741.4 359.3L741.9 340L742.6 347.9L743.2 368.3L743.7 367.2L744.2 357.2L744.7 360.8L745.4 367.6L746.1 383.5L746.7 406.8L747.4 421.3L747.9 403.9L748.4 394.9L748.9 387.3L749.4 385.9L749.9 393.9L750.4 391L751.1 386.7L751.7 379.7L752.2 393.6L752.7 430.8L753.2 415.5L753.7 405.1L754.2 392.9L754.8 403.1L755.5 417.5L756.2 399.1L756.8 364.6L757.3 374.8L757.8 367.2L758.3 368.3L758.8 385.6L759.4 396.7L759.9 413.7L760.5 411.1L761.2 410L761.8 415.8L762.5 425.1L763 408.6L763.5 399L764 387.3L764.5 385.9L765 403.8L765.5 410L766.2 396.4L766.9 387.3L767.5 406.1L768.2 413.7L768.7 422.2L769.2 424.1L769.7 425.1L770.2 419.7L770.7 409.4L771.2 400.5L771.9 403.5L772.5 417.5L773.2 426.4L773.9 430.8L774.4 433.5L774.9 427.4L775.4 432.6L775.8 430.8L776.3 430L776.8 428.2L777.3 428.9L777.7 428.2L778.2 425L778.6 425.1L779.1 420.3L779.5 421.3L780 422.2L780.5 429.2L781 430.8L781.5 428.6L782 429.3L782.5 427.6L782.9 425.1L783.4 416.6L783.9 414.3L784.3 408.1L784.8 402.4L785.3 401.5L785.8 405.6L786.3 400.5L787 411.8L787.7 421.3L788.3 413.1L789 400.5L789.5 399.5L790 407.8L790.5 406.2L791 414.7L791.5 423.7L792 427L792.7 417.6L793.3 402.4L794 396.1L794.7 392.9L795.2 402.6L795.7 412.9L796.2 421.3L796.7 408.2L797.2 406.3L797.7 392.9L798.3 410.7L799 428.9L799.7 411.5L800.3 402.4L800.8 404.7L801.3 397.1L801.8 398.6L802.3 407L802.9 415.3L803.4 425.1L804 390.2L804.7 353.2L805.3 368.2L806 383.5L806.5 398.8L807 407.2L807.5 425.1L808 425.6L808.5 428.8L808.9 428.8L809.4 428.9L809.9 413.4L810.4 404.3L810.9 394.8L811.6 405.1L812.2 417.5L812.9 402.9L813.6 398.6L814.1 404.8L814.6 416.9L815.1 421.3L815.6 412.4L816.1 409.3L816.6 400.5L817.3 400.1L817.9 406.2L818.4 415.5L818.9 425.1L819.3 400.6L819.8 383.5L820.3 399.7L820.8 428.9L821.3 410.5L821.8 395.6L822.3 375.9L822.9 370.7L823.6 353.2L824.3 370.9L824.9 368.3L825.4 383.1L825.9 399.1L826.4 413.7L826.9 408.6L827.4 400.1L827.9 389.1L828.6 400.5L829.3 402.4L829.9 396.4L830.6 391L831.1 401.1L831.6 408L832.1 417.5L832.6 413.7L833.1 405.3L833.6 402.4L834.3 410.7L834.9 421.3L835.4 416.8L835.9 412.6L836.4 411.8L836.8 406.2L837.3 403.6L837.8 405.9L838.3 402.3L838.7 402.4L839.2 403.9L839.7 400.9L840.1 392.6L840.6 392.9L841.3 363.7L841.9 353.2L842.5 366.8L843.1 379.7L843.7 391L844.4 402.4L845.1 405.1L845.7 406.2L846.2 410.4L846.7 398.1L847.2 421.3L847.7 426.3L848.2 433L848.7 432.6L849.4 433.5L850.1 428.9L850.7 426.3L851.4 425.1L851.9 410.8L852.4 402.1L852.9 391L853.4 391.9L853.9 385.3L854.3 386.6L854.8 375.9L855.3 360.4L855.7 361.6L856.2 340.5L856.7 340L857.2 358.8L857.7 380.3L858.2 392.9L858.9 377.3L859.5 360.8L860.2 370.3L860.9 387.3L861.4 390.4L861.9 386.5L862.4 391L862.9 395L863.4 402.3L863.9 402.4L864.5 415.5L865.2 421.3L865.9 424.3L866.5 430.8L867 425L867.5 424.1L868 421.3L868.5 422.2L869 426.1L869.5 423.7L869.9 427L870.4 424.9L870.9 420.5L871.4 419.4L872.1 429.3L872.8 425.1L873.4 427.2L874.1 432.6L874.7 420.1L875.2 406.2L875.6 374L876 353.2L876.5 372.7L877 382.1L877.5 402.4L878 395.2L878.5 386.2L879 375.9L879.7 368.6L880.3 383.5L881 382L881.7 355.1M887.6 375.9L888.1 374.8L888.6 388.7L889.1 392.9L889.7 387.7L890.4 383.5L891.1 376.9L891.7 372.1L892.2 388.4L892.7 398.6L893.2 417.5L893.7 415.1L894.2 415.1L894.8 410L895.4 415.7L896.1 421.3L896.7 419.7L897.4 417.5L898 401L898.5 379.7L899.2 397.9L899.9 421.3L900.5 408.9L901.2 391L901.7 403.7L902.3 413.7L903 405.7L903.6 394.8L904.3 403.2L905 415.6L905.5 402L906 377.8L906.5 364.6L907 373.9L907.5 375L908 383.5L908.7 386.6L909.3 402.4L910 403.1L910.6 410L911.1 417.8L911.6 414.5L912.2 419.4L912.7 415.9L913.2 411.8L913.7 406.2L914.3 413.4L915 421.3L915.7 417.6L916.3 402.4L916.8 414.6L917.3 411L917.8 411.8L918.3 416.8L918.8 423.3L919.3 427L920 392.3L920.7 375.9L921.3 368.5L922 353.2L922.6 368.8L923.1 402.4L923.8 384.8L924.4 368.3L925.1 353.3L925.8 351.3L926.3 385.5L926.9 421.3L927.6 406.8L928.2 392.9L928.9 379.1L929.6 366.5L930.1 367.5L930.6 385.9L931.1 394.8L931.6 389.1L932.1 382.9L932.6 375.9L933.2 393.4L933.9 417.5L934.6 400.3L935.2 383.5L935.7 369.5L936.2 368.3L936.7 358.9L937.2 364L937.7 386.5L938.3 391L938.7 385.8L939.2 355.9L939.7 361.9L940.1 343.8L940.8 371.2L941.5 392.9L942.1 388.1L942.8 379.7L943.3 384.6L943.8 384.2L944.3 391L944.8 387.7L945.2 385.4L945.7 384.6L946.2 377.8L946.7 363.4L947.1 366.5L947.8 367.8L948.5 387.3L948.9 373.5L949.4 374.2L949.9 351.9L950.4 340L950.9 339.2L951.4 365.6L951.9 383.5L952.4 374.9L952.9 376.1L953.4 368.3L954 369.7L954.7 383.5L955.2 397.7L955.7 406.2L956.2 389L956.7 389L957.2 368.3L957.6 361.3L958.1 357.1L958.6 356.9L959.1 358.9L959.7 375.3L960.4 375.9L961 383.7L961.7 387.3L962.2 395.1L962.7 393.1L963.2 391L963.7 385.6L964.2 377L964.7 372.1L965.4 387.1L966.1 391L966.5 359.6L967 326.7L967.5 370.8L967.9 406.2L968.6 413L969.3 417.5L969.8 421.4L970.3 419.6L970.8 419.4L971.3 417.2L971.7 420.5L972.2 413.7L972.7 423.2L973.1 421.1L973.6 422L974.1 422.5L974.6 419.4L975 417L975.5 436L976 425L976.5 425.1L977 428.2L977.5 431.7L978 430.8L978.4 428.8L978.9 429.2L979.4 425.2L979.9 427L980.5 415.2L981.2 402.4L981.8 405.8L982.5 391L983.1 375.3L983.6 366.5L984.3 389.4L985 402.4L985.6 371.8L986.3 343.8L986.9 368.4L987.4 383.5L988.1 368.9L988.7 357L989.4 374.2L990.1 391L990.6 397.8L991.1 407.6L991.6 417.5L992.1 416.1L992.6 406.6L993.1 398.6L993.8 410.6L994.4 421.3L995.1 424.2L995.7 427L996.2 425.4L996.8 423.1L997.3 423.2L997.8 420.8L998.3 423.4L998.8 425.1L999.4 428.3L1000.1 432.6L1000.8 429.9L1001.4 428.9L1001.9 425.1L1002.4 425.3L1002.9 421.3L1003.4 420L1003.9 413.3L1004.3 409.4L1004.8 402.4L1005.3 405.6L1005.8 415.1L1006.3 421.3L1007 412L1007.7 402.4L1008.3 392.5L1009 387.3L1009.6 376.1L1010.1 368.3L1010.8 387.6L1011.4 398.6L1012.1 391.4L1012.8 375.9L1013.3 388.4L1013.9 394.8L1014.6 368.6L1015.2 340L1015.9 347L1016.5 364.6L1017.1 383.3L1017.6 392.1L1018.1 402.4L1018.6 410.8L1019.1 419L1019.6 425.1L1020.2 417.6L1020.9 410L1021.6 414.3L1022.2 421.3L1022.7 415.2L1023.2 412L1023.7 410L1024.2 415.7L1024.7 416.3L1025.2 421.3L1025.9 414.4L1026.6 402.4L1027.2 397.6L1027.9 383.5L1028.4 388.6L1028.9 402.3L1029.4 410L1029.9 406.7L1030.4 414.6L1030.9 417.5L1031.6 412.8L1032.2 410L1032.9 357.1L1033.6 330.5L1034.1 373.1L1034.7 428.9L1035.4 422.3L1036 415.6L1036.7 422.4L1037.4 421.3L1037.9 421.4L1038.4 411.6L1038.9 410L1039.4 401.4L1039.9 386.3L1040.4 375.9L1041 378.9L1041.7 387.3L1042.4 401L1043 413.7L1043.5 410L1044 407.7L1044.5 402.4L1045 411L1045.5 412.3L1046.1 421.3L1046.7 418.7L1047.4 417.5L1048 413.6L1048.7 402.4L1049.3 403.1L1049.8 410L1050.5 410.1L1051.2 400.5L1051.8 412.2L1052.5 428.9L1053 427.4L1053.5 431.9L1054 432.6L1054.5 428.9L1055 421.2L1055.5 417.5L1056.2 393.5L1056.8 387.3L1057.5 378L1058.2 372.1L1058.7 364.9L1059.2 354.3L1059.7 326.7L1060.1 365.4L1060.6 417.5L1061.3 385.7L1061.9 364.6L1062.5 370.9L1063.1 387.3L1063.7 376L1064.4 357L1065.1 383.2L1065.7 410L1066.2 416L1066.7 420.4L1067.2 428.9L1067.7 413.8L1068.2 396.8L1068.7 383.5L1069.4 395.7L1070.1 417.5L1070.7 397.4L1071.4 383.5L1071.9 377L1072.4 378.5L1072.9 375.9L1073.4 393.9L1073.9 414.6L1074.4 425.1L1075.1 416.4L1075.7 406.2L1076.2 395.2L1076.7 394.5L1077.2 378.2L1077.6 375.9L1078.3 356.3L1079 330.5L1079.3 324.1L1079.7 304L1080.3 328.6L1080.9 349.4L1081.4 359.5L1082 375.9L1082.6 368.6L1083.3 364.6L1083.8 378.1L1084.3 391L1084.7 407.8L1085.2 421.3L1085.9 424.4L1086.5 417.5L1087.1 411.7L1087.7 410" stroke="#f39800" stroke-width="1.6" fill="none" stroke-linejoin="round"/>
<path d="M154.8 718.8h8.8M159.2 715.8v6M155.8 729.2h8.8M160.2 726.2v6M157.8 724h8.8M162.2 721v6M159.6 717.4h8.8M164 714.4v6M162.3 724.1h8.8M166.8 721.1v6M164.6 732h8.8M169 729v6M165.3 714.4h8.8M169.8 711.4v6M166.3 724.9h8.8M170.8 721.9v6M167.1 723.3h8.8M171.5 720.3v6M170.6 734.4h8.8M175 731.4v6M171.3 725.7h8.8M175.8 722.7v6M172.3 728.7h8.8M176.8 725.7v6M175.6 781.5h8.8M180 778.5v6M176.6 734.7h8.8M181 731.7v6M177.6 715.7h8.8M182 712.7v6M179.8 720.4h8.8M184.2 717.4v6M180.1 717.3h8.8M184.5 714.3v6M180.8 739.3h8.8M185.2 736.3v6M181.3 764.3h8.8M185.8 761.3v6M182.8 709.8h8.8M187.2 706.8v6M184.3 712.7h8.8M188.8 709.7v6M185.1 740.7h8.8M189.5 737.7v6M187.1 731.6h8.8M191.5 728.6v6M187.6 727.7h8.8M192 724.7v6M193.3 740.8h8.8M197.8 737.8v6M194.1 721.3h8.8M198.5 718.3v6M196.1 739.7h8.8M200.5 736.7v6M198.6 749.6h8.8M203 746.6v6M199.1 738.2h8.8M203.5 735.2v6M199.8 737.2h8.8M204.2 734.2v6M201.1 759.1h8.8M205.5 756.1v6M202.1 740.6h8.8M206.5 737.6v6M202.6 728.1h8.8M207 725.1v6M202.8 707.2h8.8M207.2 704.2v6M204.6 742.6h8.8M209 739.6v6M205.1 715.8h8.8M209.5 712.8v6M205.6 792.9h8.8M210 789.9v6M206.6 725.6h8.8M211 722.6v6M206.8 711.6h8.8M211.2 708.6v6M207.8 735.7h8.8M212.2 732.7v6M208.3 710.1h8.8M212.8 707.1v6M210.1 707.3h8.8M214.5 704.3v6M211.1 787.4h8.8M215.5 784.4v6M215.3 739h8.8M219.8 736v6M215.8 741.2h8.8M220.2 738.2v6M217.1 718.9h8.8M221.5 715.9v6M217.8 724.5h8.8M222.2 721.5v6M218.1 757.6h8.8M222.5 754.6v6M218.3 767.2h8.8M222.8 764.2v6M219.1 728.4h8.8M223.5 725.4v6M219.3 742h8.8M223.8 739v6M219.8 738.8h8.8M224.2 735.8v6M220.3 732.6h8.8M224.8 729.6v6M220.8 739.5h8.8M225.2 736.5v6M221.6 720.4h8.8M226 717.4v6M221.8 775.5h8.8M226.2 772.5v6M222.8 745.9h8.8M227.2 742.9v6M223.8 714.8h8.8M228.2 711.8v6M226.3 762.3h8.8M230.8 759.3v6M228.1 754.2h8.8M232.5 751.2v6M228.6 757.1h8.8M233 754.1v6M235.3 757.6h8.8M239.8 754.6v6M235.8 731.5h8.8M240.2 728.5v6M237.1 725.9h8.8M241.5 722.9v6M237.3 813.5h8.8M241.8 810.5v6M237.8 753.3h8.8M242.2 750.3v6M238.1 736.7h8.8M242.5 733.7v6M239.6 747.3h8.8M244 744.3v6M241.1 751.6h8.8M245.5 748.6v6M241.8 745h8.8M246.2 742v6M242.6 762.6h8.8M247 759.6v6M243.6 743.4h8.8M248 740.4v6M243.8 720.3h8.8M248.2 717.3v6M245.8 705h8.8M250.2 702v6M246.6 723.2h8.8M251 720.2v6M248.3 720.1h8.8M252.8 717.1v6M248.6 770.4h8.8M253 767.4v6M248.8 739.9h8.8M253.2 736.9v6M249.1 743.3h8.8M253.5 740.3v6M249.8 728.9h8.8M254.2 725.9v6M251.1 720.2h8.8M255.5 717.2v6M251.3 746.6h8.8M255.8 743.6v6M251.8 722.7h8.8M256.2 719.7v6M252.8 707.7h8.8M257.2 704.7v6M253.6 705.2h8.8M258 702.2v6M254.6 709.7h8.8M259 706.7v6M255.6 758.3h8.8M260 755.3v6M257.6 721.1h8.8M262 718.1v6M258.1 735h8.8M262.5 732v6M260.9 749.6h8.8M265.2 746.6v6M261.6 730.5h8.8M266 727.5v6M261.9 757.9h8.8M266.2 754.9v6M262.4 736.7h8.8M266.8 733.7v6M262.6 749.1h8.8M267 746.1v6M263.4 763.2h8.8M267.8 760.2v6M268.4 721.9h8.8M272.8 718.9v6M268.6 725.9h8.8M273 722.9v6M270.9 760.2h8.8M275.2 757.2v6M274.6 726.4h8.8M279 723.4v6M275.6 724.5h8.8M280 721.5v6M276.6 750.3h8.8M281 747.3v6M278.4 749.2h8.8M282.8 746.2v6M278.6 741.1h8.8M283 738.1v6M279.6 734.4h8.8M284 731.4v6M281.4 705h8.8M285.8 702v6M281.6 714.3h8.8M286 711.3v6M285.6 728.8h8.8M290 725.8v6M285.9 712.2h8.8M290.2 709.2v6M286.1 747h8.8M290.5 744v6M286.6 741.9h8.8M291 738.9v6M287.6 704.1h8.8M292 701.1v6M288.1 748.2h8.8M292.5 745.2v6M292.1 735.1h8.8M296.5 732.1v6M292.6 770.5h8.8M297 767.5v6M292.9 738.1h8.8M297.2 735.1v6M293.1 721.3h8.8M297.5 718.3v6M293.9 718.3h8.8M298.2 715.3v6M294.6 776h8.8M299 773v6M294.9 732.3h8.8M299.2 729.3v6M295.4 737.2h8.8M299.8 734.2v6M295.9 813.9h8.8M300.2 810.9v6M296.1 718.1h8.8M300.5 715.1v6M296.9 780.4h8.8M301.2 777.4v6M297.4 766.3h8.8M301.8 763.3v6M297.9 711.6h8.8M302.2 708.6v6M298.6 749.8h8.8M303 746.8v6M304.4 753.9h8.8M308.8 750.9v6M304.6 764.3h8.8M309 761.3v6M305.4 722.9h8.8M309.8 719.9v6M307.1 740.4h8.8M311.5 737.4v6M308.9 737.1h8.8M313.2 734.1v6M309.1 731.8h8.8M313.5 728.8v6M309.6 729.6h8.8M314 726.6v6M310.9 735.5h8.8M315.2 732.5v6M312.6 706.1h8.8M317 703.1v6M315.9 716h8.8M320.2 713v6M316.1 758.5h8.8M320.5 755.5v6M319.1 737.9h8.8M323.5 734.9v6M319.6 743.6h8.8M324 740.6v6M320.6 702.8h8.8M325 699.8v6M320.9 735.9h8.8M325.2 732.9v6M321.6 747.5h8.8M326 744.5v6M323.9 723.5h8.8M328.2 720.5v6M324.4 720.9h8.8M328.8 717.9v6M324.6 733.8h8.8M329 730.8v6M325.1 742.9h8.8M329.5 739.9v6M325.6 734.9h8.8M330 731.9v6M325.9 727.2h8.8M330.2 724.2v6M326.1 725.8h8.8M330.5 722.8v6M326.9 733.8h8.8M331.2 730.8v6M327.1 732.9h8.8M331.5 729.9v6M327.4 742.9h8.8M331.8 739.9v6M327.6 764.7h8.8M332 761.7v6M327.9 785.4h8.8M332.2 782.4v6M328.6 747.2h8.8M333 744.2v6M329.1 751.7h8.8M333.5 748.7v6M329.6 732h8.8M334 729v6M329.9 777h8.8M334.2 774v6M330.1 767.6h8.8M334.5 764.6v6M330.6 744.1h8.8M335 741.1v6M331.1 750.1h8.8M335.5 747.1v6M332.1 713.5h8.8M336.5 710.5v6M332.4 747.6h8.8M336.8 744.6v6M332.6 761.2h8.8M337 758.2v6M332.9 751.9h8.8M337.2 748.9v6M333.1 752.8h8.8M337.5 749.8v6M333.4 793.8h8.8M337.8 790.8v6M333.6 770.2h8.8M338 767.2v6M333.9 748.8h8.8M338.2 745.8v6M334.1 785.6h8.8M338.5 782.6v6M334.4 760.8h8.8M338.8 757.8v6M334.6 795.7h8.8M339 792.7v6M335.1 771.3h8.8M339.5 768.3v6M335.4 744h8.8M339.8 741v6M335.9 874.9h8.8M340.2 871.9v6M336.1 833h8.8M340.5 830v6M336.4 738.8h8.8M340.8 735.8v6M338.1 752.2h8.8M342.5 749.2v6M338.4 736.2h8.8M342.8 733.2v6M338.6 761.9h8.8M343 758.9v6M338.9 721.7h8.8M343.2 718.7v6M339.1 761.6h8.8M343.5 758.6v6M339.4 777.1h8.8M343.8 774.1v6M339.6 794.5h8.8M344 791.5v6M339.9 771h8.8M344.2 768v6M340.1 754.7h8.8M344.5 751.7v6M340.4 747.2h8.8M344.8 744.2v6M340.6 774.9h8.8M345 771.9v6M341.4 725.2h8.8M345.8 722.2v6M341.6 746h8.8M346 743v6M341.9 749.9h8.8M346.2 746.9v6M342.1 765.3h8.8M346.5 762.3v6M342.4 777h8.8M346.8 774v6M342.6 779.1h8.8M347 776.1v6M343.1 760.8h8.8M347.5 757.8v6M343.4 725.5h8.8M347.8 722.5v6M343.6 707.5h8.8M348 704.5v6M343.9 755.2h8.8M348.2 752.2v6M344.4 741.4h8.8M348.8 738.4v6M344.6 744.6h8.8M349 741.6v6M344.9 791.3h8.8M349.2 788.3v6M345.1 786.9h8.8M349.5 783.9v6M345.4 774.3h8.8M349.8 771.3v6M345.6 765.9h8.8M350 762.9v6M345.9 741.2h8.8M350.2 738.2v6M346.1 736.5h8.8M350.5 733.5v6M346.6 743.6h8.8M351 740.6v6M347.4 726.3h8.8M351.8 723.3v6M347.6 739.1h8.8M352 736.1v6M347.9 739.7h8.8M352.2 736.7v6M348.1 770.3h8.8M352.5 767.3v6M348.4 752.2h8.8M352.8 749.2v6M348.9 806.3h8.8M353.2 803.3v6M349.1 758.1h8.8M353.5 755.1v6M349.4 810.3h8.8M353.8 807.3v6M349.9 743.5h8.8M354.2 740.5v6M350.1 721.7h8.8M354.5 718.7v6M350.4 736.2h8.8M354.8 733.2v6M350.6 738.3h8.8M355 735.3v6M350.9 739.6h8.8M355.2 736.6v6M351.4 735.1h8.8M355.8 732.1v6M351.6 748.1h8.8M356 745.1v6M351.9 765.3h8.8M356.2 762.3v6M352.1 743.3h8.8M356.5 740.3v6M352.4 715.5h8.8M356.8 712.5v6M352.6 740.8h8.8M357 737.8v6M352.9 778.2h8.8M357.2 775.2v6M353.1 733.1h8.8M357.5 730.1v6M353.4 739h8.8M357.8 736v6M353.6 827.4h8.8M358 824.4v6M353.9 804h8.8M358.2 801v6M354.1 759.7h8.8M358.5 756.7v6M354.4 764.2h8.8M358.8 761.2v6M354.9 776.6h8.8M359.2 773.6v6M355.1 764.9h8.8M359.5 761.9v6M355.4 779.5h8.8M359.8 776.5v6M355.6 784.1h8.8M360 781.1v6M356.1 749.1h8.8M360.5 746.1v6M356.4 777.7h8.8M360.8 774.7v6M357.1 753h8.8M361.5 750v6M357.6 783.4h8.8M362 780.4v6M358.1 750.5h8.8M362.5 747.5v6M358.4 722.7h8.8M362.8 719.7v6M358.6 759.5h8.8M363 756.5v6M358.9 754.8h8.8M363.2 751.8v6M359.1 782.8h8.8M363.5 779.8v6M359.4 744.5h8.8M363.8 741.5v6M359.6 757.4h8.8M364 754.4v6M359.9 762.9h8.8M364.2 759.9v6M360.1 778.4h8.8M364.5 775.4v6M360.4 749.8h8.8M364.8 746.8v6M361.1 744.4h8.8M365.5 741.4v6M361.4 768.8h8.8M365.8 765.8v6M361.6 723.7h8.8M366 720.7v6M362.1 730.6h8.8M366.5 727.6v6M362.4 770.1h8.8M366.8 767.1v6M362.6 733.7h8.8M367 730.7v6M362.9 762.7h8.8M367.2 759.7v6M363.4 776.5h8.8M367.8 773.5v6M363.9 733h8.8M368.2 730v6M364.1 744.4h8.8M368.5 741.4v6M364.4 763.2h8.8M368.8 760.2v6M364.6 777.2h8.8M369 774.2v6M365.4 761h8.8M369.8 758v6M365.9 790h8.8M370.2 787v6M366.1 745.5h8.8M370.5 742.5v6M366.4 758.2h8.8M370.8 755.2v6M366.9 777.6h8.8M371.2 774.6v6M367.4 786.1h8.8M371.8 783.1v6M367.6 763h8.8M372 760v6M367.9 746.7h8.8M372.2 743.7v6M368.1 720.9h8.8M372.5 717.9v6M368.4 779.1h8.8M372.8 776.1v6M368.6 740.9h8.8M373 737.9v6M368.9 741.7h8.8M373.2 738.7v6M369.1 746.5h8.8M373.5 743.5v6M369.4 749.4h8.8M373.8 746.4v6M369.6 760.5h8.8M374 757.5v6M369.9 759.6h8.8M374.2 756.6v6M370.4 741.2h8.8M374.8 738.2v6M371.1 770.1h8.8M375.5 767.1v6M371.6 790.8h8.8M376 787.8v6M371.9 781.3h8.8M376.2 778.3v6M372.1 756.8h8.8M376.5 753.8v6M372.4 736.8h8.8M376.8 733.8v6M373.1 754.8h8.8M377.5 751.8v6M373.6 743h8.8M378 740v6M373.9 775.9h8.8M378.2 772.9v6M374.1 755.7h8.8M378.5 752.7v6M374.6 789.3h8.8M379 786.3v6M374.9 756.3h8.8M379.2 753.3v6M375.1 740.9h8.8M379.5 737.9v6M375.4 806.1h8.8M379.8 803.1v6M375.6 770.7h8.8M380 767.7v6M376.4 764h8.8M380.8 761v6M376.6 832h8.8M381 829v6M377.1 795.4h8.8M381.5 792.4v6M377.4 775.2h8.8M381.8 772.2v6M377.9 747.7h8.8M382.2 744.7v6M378.1 768.5h8.8M382.5 765.5v6M378.4 771.1h8.8M382.8 768.1v6M378.6 782.3h8.8M383 779.3v6M378.9 807.6h8.8M383.2 804.6v6M379.1 790.3h8.8M383.5 787.3v6M379.4 735h8.8M383.8 732v6M379.6 775.7h8.8M384 772.7v6M380.4 756.5h8.8M384.8 753.5v6M380.6 751.9h8.8M385 748.9v6M380.9 760h8.8M385.2 757v6M381.1 782.1h8.8M385.5 779.1v6M381.4 776h8.8M385.8 773v6M381.6 762.4h8.8M386 759.4v6M381.9 760.8h8.8M386.2 757.8v6M382.1 810.7h8.8M386.5 807.7v6M382.6 795.1h8.8M387 792.1v6M382.9 752.3h8.8M387.2 749.3v6M383.1 796.6h8.8M387.5 793.6v6M383.4 767.7h8.8M387.8 764.7v6M383.6 772.1h8.8M388 769.1v6M383.9 802.8h8.8M388.2 799.8v6M384.1 789.6h8.8M388.5 786.6v6M384.4 774.5h8.8M388.8 771.5v6M384.9 743.3h8.8M389.2 740.3v6M385.1 735.4h8.8M389.5 732.4v6M385.4 820.8h8.8M389.8 817.8v6M385.6 785.5h8.8M390 782.5v6M385.9 766.8h8.8M390.2 763.8v6M386.4 811.1h8.8M390.8 808.1v6M386.6 756.6h8.8M391 753.6v6M386.9 766.9h8.8M391.2 763.9v6M387.1 754.4h8.8M391.5 751.4v6M387.4 758.5h8.8M391.8 755.5v6M387.6 785.4h8.8M392 782.4v6M388.1 767.8h8.8M392.5 764.8v6M388.4 745.8h8.8M392.8 742.8v6M388.6 755.7h8.8M393 752.7v6M388.9 766.3h8.8M393.2 763.3v6M389.1 756.3h8.8M393.5 753.3v6M389.4 773.2h8.8M393.8 770.2v6M389.6 774.8h8.8M394 771.8v6M389.9 773.6h8.8M394.2 770.6v6M390.1 755.5h8.8M394.5 752.5v6M390.4 766.9h8.8M394.8 763.9v6M390.6 826.4h8.8M395 823.4v6M391.1 767.6h8.8M395.5 764.6v6M391.9 795.3h8.8M396.2 792.3v6M392.1 824h8.8M396.5 821v6M392.6 780h8.8M397 777v6M393.6 802.1h8.8M398 799.1v6M393.9 756h8.8M398.2 753v6M394.1 762.4h8.8M398.5 759.4v6M394.4 803h8.8M398.8 800v6M394.6 781.6h8.8M399 778.6v6M394.9 794.6h8.8M399.2 791.6v6M395.1 771.4h8.8M399.5 768.4v6M395.4 765.5h8.8M399.8 762.5v6M395.9 738.8h8.8M400.2 735.8v6M396.1 743.9h8.8M400.5 740.9v6M396.4 769.9h8.8M400.8 766.9v6M396.6 784.2h8.8M401 781.2v6M396.9 740.9h8.8M401.2 737.9v6M397.1 780.1h8.8M401.5 777.1v6M397.4 787.4h8.8M401.8 784.4v6M397.6 758h8.8M402 755v6M397.9 725.3h8.8M402.2 722.3v6M398.1 740.2h8.8M402.5 737.2v6M398.4 777.2h8.8M402.8 774.2v6M399.1 784.4h8.8M403.5 781.4v6M399.6 775.6h8.8M404 772.6v6M399.9 732.6h8.8M404.2 729.6v6M400.1 759h8.8M404.5 756v6M400.4 808.1h8.8M404.8 805.1v6M401.1 780.4h8.8M405.5 777.4v6M401.4 788.6h8.8M405.8 785.6v6M401.6 750.7h8.8M406 747.7v6M401.9 745.2h8.8M406.2 742.2v6M402.4 804.6h8.8M406.8 801.6v6M402.6 735h8.8M407 732v6M402.9 799.6h8.8M407.2 796.6v6M403.9 736.4h8.8M408.2 733.4v6M404.1 756.1h8.8M408.5 753.1v6M404.4 785.3h8.8M408.8 782.3v6M404.6 782.9h8.8M409 779.9v6M404.9 731.2h8.8M409.2 728.2v6M405.1 730.4h8.8M409.5 727.4v6M405.4 744.8h8.8M409.8 741.8v6M405.6 731.3h8.8M410 728.3v6M405.9 712.5h8.8M410.2 709.5v6M406.4 735.9h8.8M410.8 732.9v6M406.6 774h8.8M411 771v6M407.1 734.9h8.8M411.5 731.9v6M407.4 760.1h8.8M411.8 757.1v6M407.9 766.2h8.8M412.2 763.2v6M408.4 741.7h8.8M412.8 738.7v6M408.6 721.9h8.8M413 718.9v6M408.9 781.2h8.8M413.2 778.2v6M409.1 770.2h8.8M413.5 767.2v6M409.6 718.8h8.8M414 715.8v6M409.9 766.1h8.8M414.2 763.1v6M410.1 746.5h8.8M414.5 743.5v6M410.4 769.8h8.8M414.8 766.8v6M410.6 840.9h8.8M415 837.9v6M411.1 731.6h8.8M415.5 728.6v6M411.4 740h8.8M415.8 737v6M411.6 799.8h8.8M416 796.8v6M412.1 820.8h8.8M416.5 817.8v6M412.6 762.1h8.8M417 759.1v6M412.9 781h8.8M417.2 778v6M413.1 793.2h8.8M417.5 790.2v6M413.4 773.6h8.8M417.8 770.6v6M413.6 799.3h8.8M418 796.3v6M413.9 852.3h8.8M418.2 849.3v6M414.1 743.2h8.8M418.5 740.2v6M414.4 774.6h8.8M418.8 771.6v6M414.6 775h8.8M419 772v6M414.9 787h8.8M419.2 784v6M415.4 810.9h8.8M419.8 807.9v6M415.9 806.7h8.8M420.2 803.7v6M416.1 760.3h8.8M420.5 757.3v6M416.6 791.2h8.8M421 788.2v6M416.9 826.9h8.8M421.2 823.9v6M417.1 825h8.8M421.5 822v6M417.9 764.8h8.8M422.2 761.8v6M418.1 791.6h8.8M422.5 788.6v6M418.4 812.5h8.8M422.8 809.5v6M419.4 817.6h8.8M423.8 814.6v6M419.9 794.8h8.8M424.2 791.8v6M420.1 806.7h8.8M424.5 803.7v6M420.4 805.5h8.8M424.8 802.5v6M420.6 810.3h8.8M425 807.3v6M420.9 759.7h8.8M425.2 756.7v6M421.1 776.1h8.8M425.5 773.1v6M421.4 797h8.8M425.8 794v6M421.6 732.6h8.8M426 729.6v6M421.9 862h8.8M426.2 859v6M422.1 776.6h8.8M426.5 773.6v6M422.4 794.4h8.8M426.8 791.4v6M422.6 764.5h8.8M427 761.5v6M422.9 778.6h8.8M427.2 775.6v6M423.1 786.5h8.8M427.5 783.5v6M423.4 782.8h8.8M427.8 779.8v6M423.6 808.4h8.8M428 805.4v6M423.9 801.2h8.8M428.2 798.2v6M424.4 793h8.8M428.8 790v6M425.6 793.1h8.8M430 790.1v6M425.9 790.9h8.8M430.2 787.9v6M426.1 810.1h8.8M430.5 807.1v6M426.6 737.8h8.8M431 734.8v6M427.1 803.2h8.8M431.5 800.2v6M427.4 751.9h8.8M431.8 748.9v6M427.6 778.2h8.8M432 775.2v6M427.9 793.2h8.8M432.2 790.2v6M428.1 786.5h8.8M432.5 783.5v6M428.4 778.1h8.8M432.8 775.1v6M428.6 762h8.8M433 759v6M428.9 786.1h8.8M433.2 783.1v6M429.1 755.4h8.8M433.5 752.4v6M429.4 770h8.8M433.8 767v6M429.6 794.5h8.8M434 791.5v6M429.9 768h8.8M434.2 765v6M430.4 762.9h8.8M434.8 759.9v6M430.6 790.3h8.8M435 787.3v6M430.9 780.5h8.8M435.2 777.5v6M431.1 758.5h8.8M435.5 755.5v6M431.4 798.1h8.8M435.8 795.1v6M431.6 750.2h8.8M436 747.2v6M431.9 710.1h8.8M436.2 707.1v6M432.1 741h8.8M436.5 738v6M432.4 732.8h8.8M436.8 729.8v6M432.6 754.9h8.8M437 751.9v6M433.1 798h8.8M437.5 795v6M433.4 787.8h8.8M437.8 784.8v6M433.6 791.8h8.8M438 788.8v6M433.9 766h8.8M438.2 763v6M434.4 845.5h8.8M438.8 842.5v6M434.6 734.3h8.8M439 731.3v6M434.9 735h8.8M439.2 732v6M435.1 777h8.8M439.5 774v6M435.4 782.2h8.8M439.8 779.2v6M435.9 775.2h8.8M440.2 772.2v6M436.6 799h8.8M441 796v6M436.9 733.3h8.8M441.2 730.3v6M437.1 794.1h8.8M441.5 791.1v6M437.4 757.5h8.8M441.8 754.5v6M437.6 766.2h8.8M442 763.2v6M437.9 728.1h8.8M442.2 725.1v6M438.1 773.9h8.8M442.5 770.9v6M438.4 813.4h8.8M442.8 810.4v6M438.6 811.7h8.8M443 808.7v6M438.9 780h8.8M443.2 777v6M439.1 813.8h8.8M443.5 810.8v6M439.9 769.2h8.8M444.2 766.2v6M440.1 796.6h8.8M444.5 793.6v6M440.4 721.8h8.8M444.8 718.8v6M440.6 807.3h8.8M445 804.3v6M440.9 749.6h8.8M445.2 746.6v6M441.1 771.1h8.8M445.5 768.1v6M441.4 752.5h8.8M445.8 749.5v6M441.9 782.9h8.8M446.2 779.9v6M442.6 782.5h8.8M447 779.5v6M442.9 774.3h8.8M447.2 771.3v6M443.1 759.9h8.8M447.5 756.9v6M443.4 748.8h8.8M447.8 745.8v6M443.6 751.8h8.8M448 748.8v6M443.9 764h8.8M448.2 761v6M444.6 717.8h8.8M449 714.8v6M445.1 747h8.8M449.5 744v6M445.4 760.2h8.8M449.8 757.2v6M445.6 755.8h8.8M450 752.8v6M445.9 774.5h8.8M450.2 771.5v6M446.1 753.3h8.8M450.5 750.3v6M446.4 753.8h8.8M450.8 750.8v6M446.9 777.9h8.8M451.2 774.9v6M447.4 788.4h8.8M451.8 785.4v6M447.6 765.6h8.8M452 762.6v6M447.9 758.6h8.8M452.2 755.6v6M448.4 784.9h8.8M452.8 781.9v6M448.6 764.2h8.8M453 761.2v6M449.1 770.4h8.8M453.5 767.4v6M449.4 761.2h8.8M453.8 758.2v6M449.6 776.6h8.8M454 773.6v6M449.9 795.5h8.8M454.2 792.5v6M450.4 727.4h8.8M454.8 724.4v6M450.9 732.3h8.8M455.2 729.3v6M451.6 802.5h8.8M456 799.5v6M451.9 748.8h8.8M456.2 745.8v6M452.1 729.5h8.8M456.5 726.5v6M452.4 775.8h8.8M456.8 772.8v6M452.9 779.3h8.8M457.2 776.3v6M453.1 790.2h8.8M457.5 787.2v6M453.4 792.7h8.8M457.8 789.7v6M453.6 774.4h8.8M458 771.4v6M453.9 720.5h8.8M458.2 717.5v6M454.1 769.7h8.8M458.5 766.7v6M454.4 776.3h8.8M458.8 773.3v6M455.4 757.8h8.8M459.8 754.8v6M455.6 783.1h8.8M460 780.1v6M455.9 777.1h8.8M460.2 774.1v6M456.4 764.7h8.8M460.8 761.7v6M456.6 765.4h8.8M461 762.4v6M456.9 732.7h8.8M461.2 729.7v6M457.1 745.7h8.8M461.5 742.7v6M457.4 783.4h8.8M461.8 780.4v6M457.9 774.1h8.8M462.2 771.1v6M458.1 842.3h8.8M462.5 839.3v6M458.4 785h8.8M462.8 782v6M458.6 759.2h8.8M463 756.2v6M458.9 738h8.8M463.2 735v6M459.1 758.7h8.8M463.5 755.7v6M459.4 762.1h8.8M463.8 759.1v6M459.6 732.8h8.8M464 729.8v6M459.9 791.3h8.8M464.2 788.3v6M460.1 740.9h8.8M464.5 737.9v6M460.4 740.6h8.8M464.8 737.6v6M461.1 702.7h8.8M465.5 699.7v6M461.4 783.9h8.8M465.8 780.9v6M461.9 824.2h8.8M466.2 821.2v6M462.4 764.4h8.8M466.8 761.4v6M462.6 755.6h8.8M467 752.6v6M462.9 773.7h8.8M467.2 770.7v6M463.4 746.9h8.8M467.8 743.9v6M463.9 730.6h8.8M468.2 727.6v6M464.1 763.9h8.8M468.5 760.9v6M464.4 748h8.8M468.8 745v6M464.9 702.3h8.8M469.2 699.3v6M465.1 765.9h8.8M469.5 762.9v6M465.4 769.4h8.8M469.8 766.4v6M465.6 769.4h8.8M470 766.4v6M466.1 733.8h8.8M470.5 730.8v6M466.4 737.5h8.8M470.8 734.5v6M466.6 756.5h8.8M471 753.5v6M466.9 750.3h8.8M471.2 747.3v6M467.1 756h8.8M471.5 753v6M467.6 793.3h8.8M472 790.3v6M468.1 778.1h8.8M472.5 775.1v6M468.4 774.7h8.8M472.8 771.7v6M468.6 731.4h8.8M473 728.4v6M468.9 736.5h8.8M473.2 733.5v6M469.4 711.4h8.8M473.8 708.4v6M469.6 719.8h8.8M474 716.8v6M469.9 792.2h8.8M474.2 789.2v6M470.1 738h8.8M474.5 735v6M470.4 748.9h8.8M474.8 745.9v6M470.9 759h8.8M475.2 756v6M471.1 753.9h8.8M475.5 750.9v6M471.6 715.2h8.8M476 712.2v6M471.9 763h8.8M476.2 760v6M472.1 731h8.8M476.5 728v6M472.6 750h8.8M477 747v6M473.6 751.7h8.8M478 748.7v6M474.1 733h8.8M478.5 730v6M474.6 842.4h8.8M479 839.4v6M474.9 760.9h8.8M479.2 757.9v6M475.1 738.9h8.8M479.5 735.9v6M475.4 737.6h8.8M479.8 734.6v6M475.6 734.5h8.8M480 731.5v6M475.9 719.9h8.8M480.2 716.9v6M476.1 773h8.8M480.5 770v6M476.4 739.5h8.8M480.8 736.5v6M476.6 748.2h8.8M481 745.2v6M476.9 739.3h8.8M481.2 736.3v6M477.1 836.1h8.8M481.5 833.1v6M477.4 701.5h8.8M481.8 698.5v6M477.6 749.4h8.8M482 746.4v6M477.9 745.5h8.8M482.2 742.5v6M478.1 758.2h8.8M482.5 755.2v6M478.4 736h8.8M482.8 733v6M478.6 752.9h8.8M483 749.9v6M478.9 744.7h8.8M483.2 741.7v6M479.1 747.4h8.8M483.5 744.4v6M479.4 737.3h8.8M483.8 734.3v6M479.6 759.1h8.8M484 756.1v6M479.9 738.5h8.8M484.2 735.5v6M480.1 727.2h8.8M484.5 724.2v6M480.4 836.2h8.8M484.8 833.2v6M480.6 765.5h8.8M485 762.5v6M480.9 767.9h8.8M485.2 764.9v6M481.1 751.5h8.8M485.5 748.5v6M481.6 734.8h8.8M486 731.8v6M481.9 746.1h8.8M486.2 743.1v6M482.1 722.9h8.8M486.5 719.9v6M482.4 787.8h8.8M486.8 784.8v6M482.6 747.3h8.8M487 744.3v6M482.9 710.8h8.8M487.2 707.8v6M483.1 770h8.8M487.5 767v6M483.4 714.1h8.8M487.8 711.1v6M483.6 728.5h8.8M488 725.5v6M483.9 774.5h8.8M488.2 771.5v6M484.1 760.6h8.8M488.5 757.6v6M484.4 754.4h8.8M488.8 751.4v6M484.6 756.5h8.8M489 753.5v6M484.9 743.3h8.8M489.2 740.3v6M485.1 763.1h8.8M489.5 760.1v6M485.4 763.9h8.8M489.8 760.9v6M485.6 760.1h8.8M490 757.1v6M485.9 748.5h8.8M490.2 745.5v6M486.1 754.4h8.8M490.5 751.4v6M486.4 758h8.8M490.8 755v6M486.6 741.8h8.8M491 738.8v6M486.9 746.1h8.8M491.2 743.1v6M487.1 743.8h8.8M491.5 740.8v6M487.4 753h8.8M491.8 750v6M487.6 737.1h8.8M492 734.1v6M487.9 726h8.8M492.2 723v6M488.1 727.9h8.8M492.5 724.9v6M488.4 739.6h8.8M492.8 736.6v6M488.6 741.3h8.8M493 738.3v6M488.9 726.3h8.8M493.2 723.3v6M489.1 752.2h8.8M493.5 749.2v6M489.4 701.2h8.8M493.8 698.2v6M489.6 740.4h8.8M494 737.4v6M489.9 733.5h8.8M494.2 730.5v6M490.1 733.5h8.8M494.5 730.5v6M490.4 711.7h8.8M494.8 708.7v6M490.6 730.9h8.8M495 727.9v6M490.9 706h8.8M495.2 703v6M491.1 754.7h8.8M495.5 751.7v6M491.6 729.4h8.8M496 726.4v6M491.9 732.8h8.8M496.2 729.8v6M492.1 704h8.8M496.5 701v6M492.4 699.1h8.8M496.8 696.1v6M492.6 756.4h8.8M497 753.4v6M492.9 734.3h8.8M497.2 731.3v6M493.1 744.2h8.8M497.5 741.2v6M493.4 753.8h8.8M497.8 750.8v6M493.6 746.2h8.8M498 743.2v6M493.9 752.8h8.8M498.2 749.8v6M494.1 723h8.8M498.5 720v6M494.4 708.7h8.8M498.8 705.7v6M494.6 768h8.8M499 765v6M494.9 747.7h8.8M499.2 744.7v6M495.1 703.8h8.8M499.5 700.8v6M495.4 759.7h8.8M499.8 756.7v6M495.6 751.9h8.8M500 748.9v6M495.9 742.3h8.8M500.2 739.3v6M496.1 741.4h8.8M500.5 738.4v6M496.4 764.9h8.8M500.8 761.9v6M496.6 721.1h8.8M501 718.1v6M496.9 767.6h8.8M501.2 764.6v6M497.1 757.2h8.8M501.5 754.2v6M497.4 753.3h8.8M501.8 750.3v6M497.6 716.1h8.8M502 713.1v6M497.9 774.7h8.8M502.2 771.7v6M498.1 746h8.8M502.5 743v6M498.4 727.3h8.8M502.8 724.3v6M498.6 730.4h8.8M503 727.4v6M498.9 736.3h8.8M503.2 733.3v6M499.1 738.7h8.8M503.5 735.7v6M499.4 747.5h8.8M503.8 744.5v6M499.6 709.9h8.8M504 706.9v6M499.9 771.8h8.8M504.2 768.8v6M500.1 716.4h8.8M504.5 713.4v6M500.4 732.6h8.8M504.8 729.6v6M500.6 726.7h8.8M505 723.7v6M500.9 715.6h8.8M505.2 712.6v6M501.1 700.9h8.8M505.5 697.9v6M501.4 723.3h8.8M505.8 720.3v6M501.6 749.2h8.8M506 746.2v6M501.9 729.7h8.8M506.2 726.7v6M502.4 711.1h8.8M506.8 708.1v6M502.6 703.3h8.8M507 700.3v6M502.9 771.7h8.8M507.2 768.7v6M503.1 702h8.8M507.5 699v6M503.4 702.3h8.8M507.8 699.3v6M503.6 737.1h8.8M508 734.1v6M503.9 736.5h8.8M508.2 733.5v6M504.4 728.7h8.8M508.8 725.7v6M504.6 748.4h8.8M509 745.4v6M504.9 741.5h8.8M509.2 738.5v6M505.1 730.3h8.8M509.5 727.3v6M505.4 736.5h8.8M509.8 733.5v6M505.6 738.2h8.8M510 735.2v6M505.9 777.7h8.8M510.2 774.7v6M506.1 737.1h8.8M510.5 734.1v6M506.4 740h8.8M510.8 737v6M506.6 719.3h8.8M511 716.3v6M506.9 722.5h8.8M511.2 719.5v6M507.1 749.3h8.8M511.5 746.3v6M507.4 762.1h8.8M511.8 759.1v6M507.6 758.2h8.8M512 755.2v6M507.9 716.4h8.8M512.2 713.4v6M508.1 755.8h8.8M512.5 752.8v6M508.4 738.8h8.8M512.8 735.8v6M508.6 740.3h8.8M513 737.3v6M508.9 732.8h8.8M513.2 729.8v6M509.1 748.3h8.8M513.5 745.3v6M509.4 747.8h8.8M513.8 744.8v6M509.6 757.8h8.8M514 754.8v6M510.4 740.4h8.8M514.8 737.4v6M510.6 751.7h8.8M515 748.7v6M510.9 720.3h8.8M515.2 717.3v6M511.1 743.6h8.8M515.5 740.6v6M511.4 700.8h8.8M515.8 697.8v6M511.6 748.3h8.8M516 745.3v6M511.9 716.5h8.8M516.2 713.5v6M512.1 739.8h8.8M516.5 736.8v6M512.4 733.8h8.8M516.8 730.8v6M512.6 741.2h8.8M517 738.2v6M512.9 711.6h8.8M517.2 708.6v6M513.1 741.6h8.8M517.5 738.6v6M513.4 720.8h8.8M517.8 717.8v6M513.6 739.2h8.8M518 736.2v6M513.9 725.1h8.8M518.2 722.1v6M514.1 716.7h8.8M518.5 713.7v6M514.4 746.1h8.8M518.8 743.1v6M514.6 743.3h8.8M519 740.3v6M514.9 729.5h8.8M519.2 726.5v6M515.1 733.9h8.8M519.5 730.9v6M515.4 736.8h8.8M519.8 733.8v6M515.6 762.4h8.8M520 759.4v6M515.9 752.8h8.8M520.2 749.8v6M516.1 731.5h8.8M520.5 728.5v6M516.4 749.9h8.8M520.8 746.9v6M516.6 708.9h8.8M521 705.9v6M516.9 785.7h8.8M521.2 782.7v6M517.1 734.6h8.8M521.5 731.6v6M517.4 728.4h8.8M521.8 725.4v6M517.6 746h8.8M522 743v6M517.9 750.8h8.8M522.2 747.8v6M518.1 758.2h8.8M522.5 755.2v6M518.4 726.8h8.8M522.8 723.8v6M518.6 713.3h8.8M523 710.3v6M518.9 731.2h8.8M523.2 728.2v6M519.1 748.5h8.8M523.5 745.5v6M519.4 706.8h8.8M523.8 703.8v6M519.6 763.8h8.8M524 760.8v6M519.9 718h8.8M524.2 715v6M520.1 731.6h8.8M524.5 728.6v6M520.4 749.9h8.8M524.8 746.9v6M520.6 770.1h8.8M525 767.1v6M520.9 737.8h8.8M525.2 734.8v6M521.1 748.6h8.8M525.5 745.6v6M521.4 723.5h8.8M525.8 720.5v6M521.6 774.8h8.8M526 771.8v6M521.9 760.7h8.8M526.2 757.7v6M522.1 708.8h8.8M526.5 705.8v6M522.4 727.7h8.8M526.8 724.7v6M522.6 749.6h8.8M527 746.6v6M522.9 736.4h8.8M527.2 733.4v6M523.1 743.3h8.8M527.5 740.3v6M523.4 743.1h8.8M527.8 740.1v6M523.6 714.7h8.8M528 711.7v6M523.9 723.8h8.8M528.2 720.8v6M524.1 717h8.8M528.5 714v6M524.4 731.6h8.8M528.8 728.6v6M524.6 749.3h8.8M529 746.3v6M525.1 702.4h8.8M529.5 699.4v6M525.4 720.1h8.8M529.8 717.1v6M525.6 779.5h8.8M530 776.5v6M525.9 708h8.8M530.2 705v6M526.1 737.1h8.8M530.5 734.1v6M526.4 733.1h8.8M530.8 730.1v6M526.6 729.4h8.8M531 726.4v6M526.9 738.5h8.8M531.2 735.5v6M527.1 744h8.8M531.5 741v6M527.4 712.9h8.8M531.8 709.9v6M527.6 732.4h8.8M532 729.4v6M527.9 743.6h8.8M532.2 740.6v6M528.4 723.3h8.8M532.8 720.3v6M528.6 722.4h8.8M533 719.4v6M528.9 722.3h8.8M533.2 719.3v6M529.1 749.4h8.8M533.5 746.4v6M529.4 751.7h8.8M533.8 748.7v6M529.6 742.4h8.8M534 739.4v6M529.9 826.4h8.8M534.2 823.4v6M530.1 736.2h8.8M534.5 733.2v6M530.4 768.7h8.8M534.8 765.7v6M530.6 760.2h8.8M535 757.2v6M530.9 762.6h8.8M535.2 759.6v6M531.1 732.8h8.8M535.5 729.8v6M531.4 743.1h8.8M535.8 740.1v6M531.6 730.7h8.8M536 727.7v6M531.9 700.4h8.8M536.2 697.4v6M532.1 717.9h8.8M536.5 714.9v6M532.4 714.1h8.8M536.8 711.1v6M532.6 734.7h8.8M537 731.7v6M532.9 722.7h8.8M537.2 719.7v6M533.1 738.1h8.8M537.5 735.1v6M533.4 758.9h8.8M537.8 755.9v6M533.6 776.7h8.8M538 773.7v6M534.1 731.5h8.8M538.5 728.5v6M534.4 737h8.8M538.8 734v6M534.6 784.3h8.8M539 781.3v6M534.9 745.9h8.8M539.2 742.9v6M535.1 724h8.8M539.5 721v6M535.4 751.4h8.8M539.8 748.4v6M535.6 743h8.8M540 740v6M535.9 753.4h8.8M540.2 750.4v6M536.1 758.7h8.8M540.5 755.7v6M536.4 755.3h8.8M540.8 752.3v6M536.6 722h8.8M541 719v6M536.9 753.5h8.8M541.2 750.5v6M537.1 753.4h8.8M541.5 750.4v6M537.4 724.4h8.8M541.8 721.4v6M537.6 707.4h8.8M542 704.4v6M537.9 782.6h8.8M542.2 779.6v6M538.1 760.9h8.8M542.5 757.9v6M538.4 737.7h8.8M542.8 734.7v6M538.6 700.5h8.8M543 697.5v6M538.9 738.2h8.8M543.2 735.2v6M539.1 826.4h8.8M543.5 823.4v6M539.4 730.2h8.8M543.8 727.2v6M539.6 730.3h8.8M544 727.3v6M539.9 706h8.8M544.2 703v6M540.1 731.5h8.8M544.5 728.5v6M540.4 756.5h8.8M544.8 753.5v6M540.6 712.6h8.8M545 709.6v6M540.9 744.4h8.8M545.2 741.4v6M541.1 726.1h8.8M545.5 723.1v6M541.4 716.5h8.8M545.8 713.5v6M541.6 744.2h8.8M546 741.2v6M541.9 747.2h8.8M546.2 744.2v6M542.1 736.7h8.8M546.5 733.7v6M542.4 754.9h8.8M546.8 751.9v6M542.6 754.4h8.8M547 751.4v6M542.9 755.7h8.8M547.2 752.7v6M543.1 722.2h8.8M547.5 719.2v6M543.4 738.2h8.8M547.8 735.2v6M543.6 721.7h8.8M548 718.7v6M543.9 728.8h8.8M548.2 725.8v6M544.1 719.2h8.8M548.5 716.2v6M544.4 729.6h8.8M548.8 726.6v6M544.6 743.6h8.8M549 740.6v6M544.9 762.3h8.8M549.2 759.3v6M545.1 746.1h8.8M549.5 743.1v6M545.4 767.8h8.8M549.8 764.8v6M545.6 722.5h8.8M550 719.5v6M545.9 762.2h8.8M550.2 759.2v6M546.1 745.8h8.8M550.5 742.8v6M546.4 722.8h8.8M550.8 719.8v6M546.6 749.3h8.8M551 746.3v6M546.9 733.8h8.8M551.2 730.8v6M547.1 782.1h8.8M551.5 779.1v6M547.4 757.8h8.8M551.8 754.8v6M547.6 786.8h8.8M552 783.8v6M547.9 721h8.8M552.2 718v6M548.1 780.3h8.8M552.5 777.3v6M548.4 766.9h8.8M552.8 763.9v6M548.6 779.5h8.8M553 776.5v6M548.9 775h8.8M553.2 772v6M549.1 751.2h8.8M553.5 748.2v6M549.6 760.3h8.8M554 757.3v6M549.9 764.8h8.8M554.2 761.8v6M550.1 794.7h8.8M554.5 791.7v6M550.6 729.7h8.8M555 726.7v6M550.9 820h8.8M555.2 817v6M551.1 762.5h8.8M555.5 759.5v6M551.4 746.1h8.8M555.8 743.1v6M551.6 782.9h8.8M556 779.9v6M551.9 753.4h8.8M556.2 750.4v6M552.1 746.9h8.8M556.5 743.9v6M552.4 756h8.8M556.8 753v6M552.6 738.3h8.8M557 735.3v6M552.9 771.7h8.8M557.2 768.7v6M553.1 749.4h8.8M557.5 746.4v6M553.4 739.8h8.8M557.8 736.8v6M553.6 779.1h8.8M558 776.1v6M553.9 763.5h8.8M558.2 760.5v6M554.1 765.9h8.8M558.5 762.9v6M554.4 755.6h8.8M558.8 752.6v6M554.9 760.2h8.8M559.2 757.2v6M555.1 741.8h8.8M559.5 738.8v6M555.4 765.2h8.8M559.8 762.2v6M555.6 737.3h8.8M560 734.3v6M556.1 714.3h8.8M560.5 711.3v6M556.4 736.3h8.8M560.8 733.3v6M556.6 759.5h8.8M561 756.5v6M556.9 732.7h8.8M561.2 729.7v6M557.1 715.6h8.8M561.5 712.6v6M557.4 737.8h8.8M561.8 734.8v6M557.6 761.3h8.8M562 758.3v6M558.4 742.4h8.8M562.8 739.4v6M558.6 751.7h8.8M563 748.7v6M558.9 710.3h8.8M563.2 707.3v6M559.1 732h8.8M563.5 729v6M559.4 768.3h8.8M563.8 765.3v6M559.6 750h8.8M564 747v6M559.9 753.6h8.8M564.2 750.6v6M560.1 726.9h8.8M564.5 723.9v6M560.4 737.6h8.8M564.8 734.6v6M560.6 743.1h8.8M565 740.1v6M560.9 755.8h8.8M565.2 752.8v6M561.4 777.9h8.8M565.8 774.9v6M561.6 709.7h8.8M566 706.7v6M561.9 790.1h8.8M566.2 787.1v6M562.1 766.7h8.8M566.5 763.7v6M562.4 738.9h8.8M566.8 735.9v6M562.6 729.4h8.8M567 726.4v6M562.9 787.5h8.8M567.2 784.5v6M563.1 809.1h8.8M567.5 806.1v6M563.4 805.7h8.8M567.8 802.7v6M563.6 742.2h8.8M568 739.2v6M563.9 785.4h8.8M568.2 782.4v6M564.1 730.2h8.8M568.5 727.2v6M564.4 731.1h8.8M568.8 728.1v6M564.6 742.8h8.8M569 739.8v6M564.9 748.7h8.8M569.2 745.7v6M565.1 706.2h8.8M569.5 703.2v6M565.4 751h8.8M569.8 748v6M565.6 717.8h8.8M570 714.8v6M565.9 733.9h8.8M570.2 730.9v6M566.1 736.6h8.8M570.5 733.6v6M566.6 738h8.8M571 735v6M566.9 734.1h8.8M571.2 731.1v6M567.1 724.1h8.8M571.5 721.1v6M567.4 711.5h8.8M571.8 708.5v6M567.6 719.2h8.8M572 716.2v6M567.9 744h8.8M572.2 741v6M568.1 720.6h8.8M572.5 717.6v6M568.4 758.1h8.8M572.8 755.1v6M568.6 731.6h8.8M573 728.6v6M568.9 769.8h8.8M573.2 766.8v6M569.1 773.4h8.8M573.5 770.4v6M569.4 773.5h8.8M573.8 770.5v6M569.9 752.9h8.8M574.2 749.9v6M570.1 769.3h8.8M574.5 766.3v6M570.4 721.3h8.8M574.8 718.3v6M570.9 759.4h8.8M575.2 756.4v6M571.1 732.4h8.8M575.5 729.4v6M571.4 756.3h8.8M575.8 753.3v6M571.6 740.9h8.8M576 737.9v6M571.9 771.4h8.8M576.2 768.4v6M572.1 791.6h8.8M576.5 788.6v6M572.4 724.5h8.8M576.8 721.5v6M572.6 716.2h8.8M577 713.2v6M572.9 757.9h8.8M577.2 754.9v6M573.1 761.1h8.8M577.5 758.1v6M573.4 734h8.8M577.8 731v6M573.6 760.4h8.8M578 757.4v6M573.9 767.8h8.8M578.2 764.8v6M574.1 748.6h8.8M578.5 745.6v6M574.4 711.1h8.8M578.8 708.1v6M574.6 706.8h8.8M579 703.8v6M575.1 745.6h8.8M579.5 742.6v6M575.4 759.6h8.8M579.8 756.6v6M575.6 737.4h8.8M580 734.4v6M575.9 751.7h8.8M580.2 748.7v6M576.1 722.2h8.8M580.5 719.2v6M576.4 810.1h8.8M580.8 807.1v6M576.6 784.8h8.8M581 781.8v6M576.9 720.4h8.8M581.2 717.4v6M577.1 758.4h8.8M581.5 755.4v6M577.4 707.1h8.8M581.8 704.1v6M577.6 723.2h8.8M582 720.2v6M577.9 760.4h8.8M582.2 757.4v6M578.1 755.5h8.8M582.5 752.5v6M578.4 737.4h8.8M582.8 734.4v6M578.6 755.5h8.8M583 752.5v6M578.9 758h8.8M583.2 755v6M579.1 715.3h8.8M583.5 712.3v6M579.4 759.2h8.8M583.8 756.2v6M579.6 722.8h8.8M584 719.8v6M579.9 763.5h8.8M584.2 760.5v6M580.4 732.4h8.8M584.8 729.4v6M580.6 786.2h8.8M585 783.2v6M580.9 742.3h8.8M585.2 739.3v6M581.1 740.3h8.8M585.5 737.3v6M581.4 786.8h8.8M585.8 783.8v6M581.6 743.4h8.8M586 740.4v6M581.9 802.7h8.8M586.2 799.7v6M582.1 784.7h8.8M586.5 781.7v6M582.4 760.5h8.8M586.8 757.5v6M582.6 763.9h8.8M587 760.9v6M582.9 759.2h8.8M587.2 756.2v6M583.1 753.6h8.8M587.5 750.6v6M583.4 766.9h8.8M587.8 763.9v6M583.6 782.6h8.8M588 779.6v6M583.9 755.7h8.8M588.2 752.7v6M584.1 756.5h8.8M588.5 753.5v6M584.4 764.7h8.8M588.8 761.7v6M584.6 755.5h8.8M589 752.5v6M584.9 767.1h8.8M589.2 764.1v6M585.1 793.7h8.8M589.5 790.7v6M585.4 765.1h8.8M589.8 762.1v6M585.9 770.7h8.8M590.2 767.7v6M586.1 767.9h8.8M590.5 764.9v6M586.4 816.6h8.8M590.8 813.6v6M586.6 783.6h8.8M591 780.6v6M586.9 772.6h8.8M591.2 769.6v6M587.4 776.8h8.8M591.8 773.8v6M587.6 731.5h8.8M592 728.5v6M587.9 777.4h8.8M592.2 774.4v6M588.1 779.8h8.8M592.5 776.8v6M588.4 758.6h8.8M592.8 755.6v6M588.6 779.5h8.8M593 776.5v6M589.1 806.1h8.8M593.5 803.1v6M589.4 789.2h8.8M593.8 786.2v6M589.6 777h8.8M594 774v6M589.9 828.8h8.8M594.2 825.8v6M590.1 805.3h8.8M594.5 802.3v6M590.4 786.1h8.8M594.8 783.1v6M590.6 742.1h8.8M595 739.1v6M590.9 760.7h8.8M595.2 757.7v6M591.1 775.1h8.8M595.5 772.1v6M591.4 757.4h8.8M595.8 754.4v6M591.6 750.1h8.8M596 747.1v6M591.9 759.4h8.8M596.2 756.4v6M592.1 744.6h8.8M596.5 741.6v6M592.4 734.4h8.8M596.8 731.4v6M592.9 773.3h8.8M597.2 770.3v6M593.1 752.6h8.8M597.5 749.6v6M593.4 779h8.8M597.8 776v6M593.6 754.2h8.8M598 751.2v6M593.9 767.5h8.8M598.2 764.5v6M594.1 744.1h8.8M598.5 741.1v6M594.4 835h8.8M598.8 832v6M594.6 777.5h8.8M599 774.5v6M594.9 741.6h8.8M599.2 738.6v6M595.1 791.8h8.8M599.5 788.8v6M595.4 802.1h8.8M599.8 799.1v6M595.6 793.7h8.8M600 790.7v6M595.9 796.4h8.8M600.2 793.4v6M596.1 811h8.8M600.5 808v6M596.4 786.8h8.8M600.8 783.8v6M596.6 794.2h8.8M601 791.2v6M596.9 799h8.8M601.2 796v6M597.1 786h8.8M601.5 783v6M597.4 796.6h8.8M601.8 793.6v6M597.6 798.1h8.8M602 795.1v6M597.9 816h8.8M602.2 813v6M598.1 768h8.8M602.5 765v6M598.4 773.6h8.8M602.8 770.6v6M598.6 812.4h8.8M603 809.4v6M598.9 866.1h8.8M603.2 863.1v6M599.1 825.8h8.8M603.5 822.8v6M599.4 810.4h8.8M603.8 807.4v6M599.6 822.9h8.8M604 819.9v6M599.9 799.3h8.8M604.2 796.3v6M600.1 732.4h8.8M604.5 729.4v6M600.4 748.3h8.8M604.8 745.3v6M600.6 799.9h8.8M605 796.9v6M600.9 828.9h8.8M605.2 825.9v6M601.1 794.1h8.8M605.5 791.1v6M601.4 790.3h8.8M605.8 787.3v6M601.6 772.6h8.8M606 769.6v6M601.9 791.8h8.8M606.2 788.8v6M602.1 762.5h8.8M606.5 759.5v6M602.4 745h8.8M606.8 742v6M602.6 770.7h8.8M607 767.7v6M602.9 779.1h8.8M607.2 776.1v6M603.1 782.5h8.8M607.5 779.5v6M603.4 768.9h8.8M607.8 765.9v6M603.6 808.8h8.8M608 805.8v6M603.9 773.9h8.8M608.2 770.9v6M604.1 762.7h8.8M608.5 759.7v6M604.4 753.9h8.8M608.8 750.9v6M604.6 777.4h8.8M609 774.4v6M604.9 797.4h8.8M609.2 794.4v6M605.1 755.3h8.8M609.5 752.3v6M605.4 794.4h8.8M609.8 791.4v6M605.6 784.4h8.8M610 781.4v6M606.1 760.7h8.8M610.5 757.7v6M606.4 794.4h8.8M610.8 791.4v6M606.6 797.6h8.8M611 794.6v6M606.9 820.5h8.8M611.2 817.5v6M607.1 807.1h8.8M611.5 804.1v6M607.4 798.1h8.8M611.8 795.1v6M607.6 802.9h8.8M612 799.9v6M607.9 797.8h8.8M612.2 794.8v6M608.1 874.7h8.8M612.5 871.7v6M608.4 792.7h8.8M612.8 789.7v6M608.9 741.9h8.8M613.2 738.9v6M609.1 772.5h8.8M613.5 769.5v6M609.4 813.7h8.8M613.8 810.7v6M609.6 750.5h8.8M614 747.5v6M609.9 725.3h8.8M614.2 722.3v6M610.1 737.8h8.8M614.5 734.8v6M610.4 724.3h8.8M614.8 721.3v6M610.6 758.7h8.8M615 755.7v6M610.9 737.6h8.8M615.2 734.6v6M611.1 763.7h8.8M615.5 760.7v6M611.4 793h8.8M615.8 790v6M611.6 740.9h8.8M616 737.9v6M611.9 816.9h8.8M616.2 813.9v6M612.1 795.5h8.8M616.5 792.5v6M612.4 751.2h8.8M616.8 748.2v6M612.6 731h8.8M617 728v6M612.9 759.3h8.8M617.2 756.3v6M613.1 806h8.8M617.5 803v6M613.4 767.2h8.8M617.8 764.2v6M613.6 731.9h8.8M618 728.9v6M613.9 839.6h8.8M618.2 836.6v6M614.1 732h8.8M618.5 729v6M614.4 772.3h8.8M618.8 769.3v6M614.6 773.6h8.8M619 770.6v6M614.9 775.1h8.8M619.2 772.1v6M615.1 762h8.8M619.5 759v6M615.4 751.1h8.8M619.8 748.1v6M615.6 799.3h8.8M620 796.3v6M615.9 770.9h8.8M620.2 767.9v6M616.1 798.4h8.8M620.5 795.4v6M616.4 744h8.8M620.8 741v6M616.6 723.1h8.8M621 720.1v6M616.9 795h8.8M621.2 792v6M617.1 768.4h8.8M621.5 765.4v6M617.4 766.8h8.8M621.8 763.8v6M617.6 766.4h8.8M622 763.4v6M617.9 778.5h8.8M622.2 775.5v6M618.1 779.5h8.8M622.5 776.5v6M618.4 761.5h8.8M622.8 758.5v6M618.6 753.8h8.8M623 750.8v6M618.9 746h8.8M623.2 743v6M619.1 758h8.8M623.5 755v6M619.4 746.8h8.8M623.8 743.8v6M619.6 767.5h8.8M624 764.5v6M619.9 771.8h8.8M624.2 768.8v6M620.1 772.3h8.8M624.5 769.3v6M620.4 760.7h8.8M624.8 757.7v6M620.6 816.5h8.8M625 813.5v6M620.9 800.8h8.8M625.2 797.8v6M621.1 751.5h8.8M625.5 748.5v6M621.4 793.4h8.8M625.8 790.4v6M621.6 762.6h8.8M626 759.6v6M621.9 755.2h8.8M626.2 752.2v6M622.1 737.8h8.8M626.5 734.8v6M622.4 770.6h8.8M626.8 767.6v6M622.6 751.4h8.8M627 748.4v6M622.9 761.8h8.8M627.2 758.8v6M623.1 731.8h8.8M627.5 728.8v6M623.4 758.1h8.8M627.8 755.1v6M623.6 769.6h8.8M628 766.6v6M623.9 756.5h8.8M628.2 753.5v6M624.1 752.9h8.8M628.5 749.9v6M624.4 738.2h8.8M628.8 735.2v6M624.6 775h8.8M629 772v6M624.9 777.1h8.8M629.2 774.1v6M625.1 815.4h8.8M629.5 812.4v6M625.4 758.5h8.8M629.8 755.5v6M625.6 767h8.8M630 764v6M625.9 758.4h8.8M630.2 755.4v6M626.1 757.1h8.8M630.5 754.1v6M626.9 764.8h8.8M631.2 761.8v6M627.1 782.1h8.8M631.5 779.1v6M627.4 766.3h8.8M631.8 763.3v6M627.6 754.4h8.8M632 751.4v6M627.9 761.9h8.8M632.2 758.9v6M628.1 728.5h8.8M632.5 725.5v6M628.4 771.4h8.8M632.8 768.4v6M628.6 748h8.8M633 745v6M628.9 780.7h8.8M633.2 777.7v6M629.1 800.7h8.8M633.5 797.7v6M629.4 759.9h8.8M633.8 756.9v6M629.6 819.1h8.8M634 816.1v6M629.9 804.8h8.8M634.2 801.8v6M630.1 771.6h8.8M634.5 768.6v6M630.4 762.6h8.8M634.8 759.6v6M630.6 774.7h8.8M635 771.7v6M630.9 787.2h8.8M635.2 784.2v6M631.1 807h8.8M635.5 804v6M631.4 803.7h8.8M635.8 800.7v6M631.6 792.9h8.8M636 789.9v6M631.9 802.8h8.8M636.2 799.8v6M632.1 813.2h8.8M636.5 810.2v6M632.4 809.6h8.8M636.8 806.6v6M632.9 791.8h8.8M637.2 788.8v6M633.1 761.8h8.8M637.5 758.8v6M633.6 743.4h8.8M638 740.4v6M633.9 820.7h8.8M638.2 817.7v6M634.1 742.2h8.8M638.5 739.2v6M634.4 771.1h8.8M638.8 768.1v6M634.6 771.3h8.8M639 768.3v6M634.9 806.1h8.8M639.2 803.1v6M635.1 800.4h8.8M639.5 797.4v6M635.4 821.3h8.8M639.8 818.3v6M635.6 748.9h8.8M640 745.9v6M635.9 789.6h8.8M640.2 786.6v6M636.1 740h8.8M640.5 737v6M636.4 782.1h8.8M640.8 779.1v6M636.6 767.9h8.8M641 764.9v6M636.9 739.6h8.8M641.2 736.6v6M637.1 786.1h8.8M641.5 783.1v6M637.4 774.1h8.8M641.8 771.1v6M637.9 776h8.8M642.2 773v6M638.1 830.8h8.8M642.5 827.8v6M638.4 796.7h8.8M642.8 793.7v6M638.6 733.4h8.8M643 730.4v6M638.9 781.8h8.8M643.2 778.8v6M639.4 765.2h8.8M643.8 762.2v6M639.6 754.5h8.8M644 751.5v6M639.9 780.9h8.8M644.2 777.9v6M640.1 780.6h8.8M644.5 777.6v6M640.4 788.3h8.8M644.8 785.3v6M640.6 767.7h8.8M645 764.7v6M640.9 790.3h8.8M645.2 787.3v6M641.1 772.5h8.8M645.5 769.5v6M641.4 795.7h8.8M645.8 792.7v6M641.6 770.8h8.8M646 767.8v6M641.9 774.5h8.8M646.2 771.5v6M642.1 772.6h8.8M646.5 769.6v6M642.4 755.9h8.8M646.8 752.9v6M642.6 776.2h8.8M647 773.2v6M642.9 784.3h8.8M647.2 781.3v6M643.1 789.5h8.8M647.5 786.5v6M643.4 786.8h8.8M647.8 783.8v6M643.6 781.9h8.8M648 778.9v6M643.9 800.7h8.8M648.2 797.7v6M644.1 748.8h8.8M648.5 745.8v6M644.4 749h8.8M648.8 746v6M644.6 763.1h8.8M649 760.1v6M644.9 793.9h8.8M649.2 790.9v6M645.1 757.1h8.8M649.5 754.1v6M645.4 752.5h8.8M649.8 749.5v6M645.6 747.1h8.8M650 744.1v6M645.9 805.5h8.8M650.2 802.5v6M646.1 774.7h8.8M650.5 771.7v6M646.4 737.4h8.8M650.8 734.4v6M646.6 792.6h8.8M651 789.6v6M646.9 784h8.8M651.2 781v6M647.1 771.8h8.8M651.5 768.8v6M647.4 770.3h8.8M651.8 767.3v6M647.6 756.4h8.8M652 753.4v6M647.9 755.5h8.8M652.2 752.5v6M648.1 800.4h8.8M652.5 797.4v6M648.4 769.8h8.8M652.8 766.8v6M648.6 748.5h8.8M653 745.5v6M648.9 744.2h8.8M653.2 741.2v6M649.1 801.8h8.8M653.5 798.8v6M649.4 765.5h8.8M653.8 762.5v6M649.6 756.1h8.8M654 753.1v6M649.9 759.9h8.8M654.2 756.9v6M650.1 757.6h8.8M654.5 754.6v6M650.4 760h8.8M654.8 757v6M650.6 759.5h8.8M655 756.5v6M650.9 800.4h8.8M655.2 797.4v6M651.1 775.8h8.8M655.5 772.8v6M651.4 742.5h8.8M655.8 739.5v6M651.6 789.3h8.8M656 786.3v6M651.9 764.4h8.8M656.2 761.4v6M652.1 761.6h8.8M656.5 758.6v6M652.4 737.9h8.8M656.8 734.9v6M652.6 765.3h8.8M657 762.3v6M652.9 772h8.8M657.2 769v6M653.1 745.1h8.8M657.5 742.1v6M653.4 747.6h8.8M657.8 744.6v6M653.6 753.4h8.8M658 750.4v6M653.9 787h8.8M658.2 784v6M654.1 777.3h8.8M658.5 774.3v6M654.4 767.1h8.8M658.8 764.1v6M654.6 749.4h8.8M659 746.4v6M654.9 762.5h8.8M659.2 759.5v6M655.1 757.6h8.8M659.5 754.6v6M655.4 776.2h8.8M659.8 773.2v6M655.6 754.3h8.8M660 751.3v6M655.9 754h8.8M660.2 751v6M656.1 802.9h8.8M660.5 799.9v6M656.4 797.1h8.8M660.8 794.1v6M656.6 805.6h8.8M661 802.6v6M656.9 787.4h8.8M661.2 784.4v6M657.1 809.5h8.8M661.5 806.5v6M657.4 767.8h8.8M661.8 764.8v6M657.6 802.8h8.8M662 799.8v6M657.9 762.4h8.8M662.2 759.4v6M658.1 813h8.8M662.5 810v6M658.4 810.1h8.8M662.8 807.1v6M658.6 770h8.8M663 767v6M658.9 817.4h8.8M663.2 814.4v6M659.1 764.6h8.8M663.5 761.6v6M659.4 817.7h8.8M663.8 814.7v6M659.6 758.5h8.8M664 755.5v6M659.9 787.5h8.8M664.2 784.5v6M660.1 797h8.8M664.5 794v6M660.4 798.3h8.8M664.8 795.3v6M660.6 776.6h8.8M665 773.6v6M660.9 778.5h8.8M665.2 775.5v6M661.1 739h8.8M665.5 736v6M661.4 796.5h8.8M665.8 793.5v6M661.6 778.2h8.8M666 775.2v6M661.9 747.5h8.8M666.2 744.5v6M662.1 781.8h8.8M666.5 778.8v6M662.4 760.1h8.8M666.8 757.1v6M662.6 795.5h8.8M667 792.5v6M662.9 785.4h8.8M667.2 782.4v6M663.1 783.4h8.8M667.5 780.4v6M663.6 805.3h8.8M668 802.3v6M663.9 758h8.8M668.2 755v6M664.1 815.5h8.8M668.5 812.5v6M664.4 860.1h8.8M668.8 857.1v6M664.6 816.7h8.8M669 813.7v6M664.9 826.1h8.8M669.2 823.1v6M665.1 787.5h8.8M669.5 784.5v6M665.6 793.5h8.8M670 790.5v6M665.9 804.5h8.8M670.2 801.5v6M666.1 776.9h8.8M670.5 773.9v6M666.4 779.4h8.8M670.8 776.4v6M666.6 762.6h8.8M671 759.6v6M666.9 791.4h8.8M671.2 788.4v6M667.1 760.4h8.8M671.5 757.4v6M667.4 757.1h8.8M671.8 754.1v6M667.6 764.2h8.8M672 761.2v6M667.9 750.7h8.8M672.2 747.7v6M668.1 788.9h8.8M672.5 785.9v6M668.4 749.9h8.8M672.8 746.9v6M668.6 775.5h8.8M673 772.5v6M668.9 778h8.8M673.2 775v6M669.1 839.9h8.8M673.5 836.9v6M669.4 729h8.8M673.8 726v6M669.6 800.1h8.8M674 797.1v6M669.9 729.9h8.8M674.2 726.9v6M670.1 736.4h8.8M674.5 733.4v6M670.4 773.4h8.8M674.8 770.4v6M670.6 873.4h8.8M675 870.4v6M670.9 736.3h8.8M675.2 733.3v6M671.1 781.9h8.8M675.5 778.9v6M671.4 777.5h8.8M675.8 774.5v6M671.6 732.8h8.8M676 729.8v6M671.9 749.4h8.8M676.2 746.4v6M672.1 765.5h8.8M676.5 762.5v6M672.4 723.9h8.8M676.8 720.9v6M672.6 735.5h8.8M677 732.5v6M672.9 780.5h8.8M677.2 777.5v6M673.1 748.2h8.8M677.5 745.2v6M673.4 777.9h8.8M677.8 774.9v6M673.6 763.5h8.8M678 760.5v6M673.9 760.7h8.8M678.2 757.7v6M674.1 783.5h8.8M678.5 780.5v6M674.4 783.8h8.8M678.8 780.8v6M674.6 763.9h8.8M679 760.9v6M674.9 753.5h8.8M679.2 750.5v6M675.1 776.6h8.8M679.5 773.6v6M675.6 762.5h8.8M680 759.5v6M675.9 780.6h8.8M680.2 777.6v6M676.1 766.8h8.8M680.5 763.8v6M676.4 762.7h8.8M680.8 759.7v6M676.6 756.1h8.8M681 753.1v6M676.9 735.7h8.8M681.2 732.7v6M677.1 768.7h8.8M681.5 765.7v6M677.4 726.6h8.8M681.8 723.6v6M677.6 753.2h8.8M682 750.2v6M677.9 788.3h8.8M682.2 785.3v6M678.1 808.1h8.8M682.5 805.1v6M678.4 786.3h8.8M682.8 783.3v6M678.6 770.7h8.8M683 767.7v6M678.9 742.9h8.8M683.2 739.9v6M679.4 757.8h8.8M683.8 754.8v6M679.6 715.4h8.8M684 712.4v6M679.9 762.4h8.8M684.2 759.4v6M680.1 782.1h8.8M684.5 779.1v6M680.4 720.1h8.8M684.8 717.1v6M680.6 744.3h8.8M685 741.3v6M680.9 709.8h8.8M685.2 706.8v6M681.1 753h8.8M685.5 750v6M681.4 703.8h8.8M685.8 700.8v6M681.6 758.7h8.8M686 755.7v6M681.9 752.5h8.8M686.2 749.5v6M682.1 790h8.8M686.5 787v6M682.4 768.9h8.8M686.8 765.9v6M682.6 743.9h8.8M687 740.9v6M682.9 703.6h8.8M687.2 700.6v6M683.1 735.5h8.8M687.5 732.5v6M683.4 712h8.8M687.8 709v6M683.6 733.4h8.8M688 730.4v6M683.9 780.7h8.8M688.2 777.7v6M684.1 716.8h8.8M688.5 713.8v6M684.4 741.2h8.8M688.8 738.2v6M684.6 732.5h8.8M689 729.5v6M684.9 742.5h8.8M689.2 739.5v6M685.1 741.9h8.8M689.5 738.9v6M685.4 748.5h8.8M689.8 745.5v6M685.6 726.7h8.8M690 723.7v6M685.9 718.1h8.8M690.2 715.1v6M686.1 757.6h8.8M690.5 754.6v6M686.4 746.5h8.8M690.8 743.5v6M686.6 757.2h8.8M691 754.2v6M686.9 726.9h8.8M691.2 723.9v6M687.1 740.2h8.8M691.5 737.2v6M687.4 773.8h8.8M691.8 770.8v6M687.6 781.1h8.8M692 778.1v6M687.9 732.9h8.8M692.2 729.9v6M688.1 747.2h8.8M692.5 744.2v6M688.4 772.5h8.8M692.8 769.5v6M688.6 745.4h8.8M693 742.4v6M688.9 776.7h8.8M693.2 773.7v6M689.1 761.5h8.8M693.5 758.5v6M689.9 723h8.8M694.2 720v6M690.1 759.6h8.8M694.5 756.6v6M690.4 748.1h8.8M694.8 745.1v6M690.9 747.2h8.8M695.2 744.2v6M691.1 700.1h8.8M695.5 697.1v6M691.4 737h8.8M695.8 734v6M691.6 757.8h8.8M696 754.8v6M691.9 736.2h8.8M696.2 733.2v6M692.1 724.3h8.8M696.5 721.3v6M692.4 748.5h8.8M696.8 745.5v6M692.6 760.9h8.8M697 757.9v6M692.9 748h8.8M697.2 745v6M693.1 751.5h8.8M697.5 748.5v6M693.6 732.3h8.8M698 729.3v6M693.9 754.8h8.8M698.2 751.8v6M694.1 742.4h8.8M698.5 739.4v6M694.4 747.8h8.8M698.8 744.8v6M694.6 738.5h8.8M699 735.5v6M694.9 785.6h8.8M699.2 782.6v6M695.1 797.3h8.8M699.5 794.3v6M695.4 732.7h8.8M699.8 729.7v6M695.6 844.9h8.8M700 841.9v6M695.9 768h8.8M700.2 765v6M696.1 797h8.8M700.5 794v6M696.4 826h8.8M700.8 823v6M696.6 792.1h8.8M701 789.1v6M696.9 777h8.8M701.2 774v6M697.1 751.8h8.8M701.5 748.8v6M697.4 739.3h8.8M701.8 736.3v6M697.6 840h8.8M702 837v6M697.9 783.7h8.8M702.2 780.7v6M698.4 808.5h8.8M702.8 805.5v6M698.6 750h8.8M703 747v6M698.9 768.9h8.8M703.2 765.9v6M699.1 783.3h8.8M703.5 780.3v6M699.4 737.9h8.8M703.8 734.9v6M699.6 750.1h8.8M704 747.1v6M699.9 745.3h8.8M704.2 742.3v6M700.1 768.8h8.8M704.5 765.8v6M700.4 767.1h8.8M704.8 764.1v6M700.6 761.3h8.8M705 758.3v6M700.9 740.6h8.8M705.2 737.6v6M701.1 752.8h8.8M705.5 749.8v6M701.4 734.1h8.8M705.8 731.1v6M701.6 767.2h8.8M706 764.2v6M702.1 756h8.8M706.5 753v6M702.4 727.7h8.8M706.8 724.7v6M702.6 776.7h8.8M707 773.7v6M702.9 761.5h8.8M707.2 758.5v6M703.1 787.1h8.8M707.5 784.1v6M703.4 768.7h8.8M707.8 765.7v6M703.6 757h8.8M708 754v6M703.9 742h8.8M708.2 739v6M704.1 829.5h8.8M708.5 826.5v6M704.4 779h8.8M708.8 776v6M704.6 757.2h8.8M709 754.2v6M704.9 749.2h8.8M709.2 746.2v6M705.1 743.1h8.8M709.5 740.1v6M705.4 758.5h8.8M709.8 755.5v6M705.6 780h8.8M710 777v6M705.9 767.9h8.8M710.2 764.9v6M706.1 719.8h8.8M710.5 716.8v6M706.4 777.7h8.8M710.8 774.7v6M706.6 781.6h8.8M711 778.6v6M706.9 747.8h8.8M711.2 744.8v6M707.1 747h8.8M711.5 744v6M707.6 769.4h8.8M712 766.4v6M707.9 734h8.8M712.2 731v6M708.1 709.5h8.8M712.5 706.5v6M708.4 736.8h8.8M712.8 733.8v6M708.6 741.1h8.8M713 738.1v6M708.9 729.6h8.8M713.2 726.6v6M709.1 720.8h8.8M713.5 717.8v6M709.4 751.2h8.8M713.8 748.2v6M709.9 716.6h8.8M714.2 713.6v6M710.1 775.7h8.8M714.5 772.7v6M710.4 814.2h8.8M714.8 811.2v6M710.6 756.1h8.8M715 753.1v6M710.9 769.6h8.8M715.2 766.6v6M711.1 738h8.8M715.5 735v6M711.4 764.5h8.8M715.8 761.5v6M711.6 705.9h8.8M716 702.9v6M711.9 754.3h8.8M716.2 751.3v6M712.1 765.7h8.8M716.5 762.7v6M712.4 748.9h8.8M716.8 745.9v6M712.6 765.8h8.8M717 762.8v6M712.9 703.7h8.8M717.2 700.7v6M713.1 778.9h8.8M717.5 775.9v6M713.4 713.7h8.8M717.8 710.7v6M713.6 722.9h8.8M718 719.9v6M713.9 772h8.8M718.2 769v6M714.1 727.6h8.8M718.5 724.6v6M714.6 745.7h8.8M719 742.7v6M714.9 741.2h8.8M719.2 738.2v6M715.1 816.6h8.8M719.5 813.6v6M715.4 736.7h8.8M719.8 733.7v6M715.6 771.2h8.8M720 768.2v6M715.9 767.2h8.8M720.2 764.2v6M716.1 773h8.8M720.5 770v6M716.4 766.5h8.8M720.8 763.5v6M716.6 720.1h8.8M721 717.1v6M717.1 734.6h8.8M721.5 731.6v6M717.4 766.4h8.8M721.8 763.4v6M717.6 758.4h8.8M722 755.4v6M717.9 750.9h8.8M722.2 747.9v6M718.1 774.1h8.8M722.5 771.1v6M718.4 757.5h8.8M722.8 754.5v6M718.6 756.5h8.8M723 753.5v6M718.9 729.2h8.8M723.2 726.2v6M719.1 728.6h8.8M723.5 725.6v6M719.4 721.8h8.8M723.8 718.8v6M719.6 715.9h8.8M724 712.9v6M719.9 728h8.8M724.2 725v6M720.1 737.6h8.8M724.5 734.6v6M720.4 759h8.8M724.8 756v6M720.6 741h8.8M725 738v6M720.9 732.9h8.8M725.2 729.9v6M721.1 715h8.8M725.5 712v6M721.4 775.1h8.8M725.8 772.1v6M721.6 734.5h8.8M726 731.5v6M721.9 763h8.8M726.2 760v6M722.1 774.8h8.8M726.5 771.8v6M722.4 730h8.8M726.8 727v6M722.6 751.2h8.8M727 748.2v6M722.9 752.5h8.8M727.2 749.5v6M723.1 746.6h8.8M727.5 743.6v6M723.4 758.4h8.8M727.8 755.4v6M723.6 757.7h8.8M728 754.7v6M723.9 760.7h8.8M728.2 757.7v6M724.1 779.4h8.8M728.5 776.4v6M724.4 792.6h8.8M728.8 789.6v6M724.6 755h8.8M729 752v6M724.9 780.8h8.8M729.2 777.8v6M725.1 745.3h8.8M729.5 742.3v6M725.4 820.7h8.8M729.8 817.7v6M725.6 747.3h8.8M730 744.3v6M725.9 797.2h8.8M730.2 794.2v6M726.1 735.7h8.8M730.5 732.7v6M726.4 756.2h8.8M730.8 753.2v6M726.6 859.4h8.8M731 856.4v6M726.9 771.3h8.8M731.2 768.3v6M727.4 720.2h8.8M731.8 717.2v6M727.6 752.3h8.8M732 749.3v6M727.9 762.4h8.8M732.2 759.4v6M728.1 777.1h8.8M732.5 774.1v6M728.4 772h8.8M732.8 769v6M728.6 788.3h8.8M733 785.3v6M728.9 749.7h8.8M733.2 746.7v6M729.1 761.5h8.8M733.5 758.5v6M729.4 787h8.8M733.8 784v6M729.6 753.9h8.8M734 750.9v6M729.9 796.6h8.8M734.2 793.6v6M730.1 732.1h8.8M734.5 729.1v6M730.4 793.4h8.8M734.8 790.4v6M730.6 740.5h8.8M735 737.5v6M730.9 804h8.8M735.2 801v6M731.1 756h8.8M735.5 753v6M731.6 807.3h8.8M736 804.3v6M731.9 769.2h8.8M736.2 766.2v6M732.1 748.4h8.8M736.5 745.4v6M732.4 716h8.8M736.8 713v6M732.9 794.1h8.8M737.2 791.1v6M733.1 781.6h8.8M737.5 778.6v6M733.4 782.9h8.8M737.8 779.9v6M733.6 782.2h8.8M738 779.2v6M733.9 726.6h8.8M738.2 723.6v6M734.1 733.8h8.8M738.5 730.8v6M734.4 770.2h8.8M738.8 767.2v6M734.6 786.6h8.8M739 783.6v6M734.9 746.9h8.8M739.2 743.9v6M735.1 738h8.8M739.5 735v6M735.4 738.9h8.8M739.8 735.9v6M735.6 764.4h8.8M740 761.4v6M735.9 773.4h8.8M740.2 770.4v6M736.1 726.3h8.8M740.5 723.3v6M736.4 732.3h8.8M740.8 729.3v6M736.6 753.4h8.8M741 750.4v6M736.9 759.2h8.8M741.2 756.2v6M737.1 764.2h8.8M741.5 761.2v6M737.4 755.5h8.8M741.8 752.5v6M737.9 787.8h8.8M742.2 784.8v6M738.1 709.1h8.8M742.5 706.1v6M738.4 777.8h8.8M742.8 774.8v6M738.6 770.5h8.8M743 767.5v6M738.9 745.6h8.8M743.2 742.6v6M739.1 775h8.8M743.5 772v6M739.4 781.1h8.8M743.8 778.1v6M739.6 766.1h8.8M744 763.1v6M739.9 754.6h8.8M744.2 751.6v6M740.1 779.4h8.8M744.5 776.4v6M740.6 741h8.8M745 738v6M740.9 821.7h8.8M745.2 818.7v6M741.4 766.1h8.8M745.8 763.1v6M741.6 778.1h8.8M746 775.1v6M741.9 765.6h8.8M746.2 762.6v6M742.1 719.9h8.8M746.5 716.9v6M742.4 747.8h8.8M746.8 744.8v6M742.6 750.8h8.8M747 747.8v6M742.9 778.7h8.8M747.2 775.7v6M743.1 738.1h8.8M747.5 735.1v6M743.4 788.5h8.8M747.8 785.5v6M743.6 765.4h8.8M748 762.4v6M743.9 747.6h8.8M748.2 744.6v6M744.1 767h8.8M748.5 764v6M744.4 754.5h8.8M748.8 751.5v6M744.6 742h8.8M749 739v6M744.9 770.5h8.8M749.2 767.5v6M745.1 817.8h8.8M749.5 814.8v6M745.4 769.8h8.8M749.8 766.8v6M745.6 761.2h8.8M750 758.2v6M745.9 761.8h8.8M750.2 758.8v6M746.1 791h8.8M750.5 788v6M746.4 749.1h8.8M750.8 746.1v6M746.6 775.4h8.8M751 772.4v6M746.9 769h8.8M751.2 766v6M747.1 790.8h8.8M751.5 787.8v6M747.4 773.1h8.8M751.8 770.1v6M747.6 771.9h8.8M752 768.9v6M747.9 772.1h8.8M752.2 769.1v6M748.1 768.1h8.8M752.5 765.1v6M748.4 792.4h8.8M752.8 789.4v6M748.6 757h8.8M753 754v6M748.9 719.1h8.8M753.2 716.1v6M749.1 757.6h8.8M753.5 754.6v6M749.4 780.9h8.8M753.8 777.9v6M749.6 768.7h8.8M754 765.7v6M749.9 780.4h8.8M754.2 777.4v6M750.1 762.8h8.8M754.5 759.8v6M750.4 745.6h8.8M754.8 742.6v6M750.6 806.3h8.8M755 803.3v6M750.9 745.1h8.8M755.2 742.1v6M751.1 734.1h8.8M755.5 731.1v6M751.4 844.6h8.8M755.8 841.6v6M751.6 785.3h8.8M756 782.3v6M751.9 752.2h8.8M756.2 749.2v6M752.1 769.4h8.8M756.5 766.4v6M752.4 790.5h8.8M756.8 787.5v6M752.6 758.9h8.8M757 755.9v6M752.9 772.8h8.8M757.2 769.8v6M753.1 761.8h8.8M757.5 758.8v6M753.4 734.5h8.8M757.8 731.5v6M753.6 712.7h8.8M758 709.7v6M753.9 747.5h8.8M758.2 744.5v6M754.1 766.1h8.8M758.5 763.1v6M754.4 741.9h8.8M758.8 738.9v6M754.6 747h8.8M759 744v6M754.9 797.7h8.8M759.2 794.7v6M755.1 739.9h8.8M759.5 736.9v6M755.4 770.3h8.8M759.8 767.3v6M755.6 763.9h8.8M760 760.9v6M755.9 763.5h8.8M760.2 760.5v6M756.4 801.3h8.8M760.8 798.3v6M756.6 775.3h8.8M761 772.3v6M756.9 773.4h8.8M761.2 770.4v6M757.1 810h8.8M761.5 807v6M757.4 768h8.8M761.8 765v6M757.6 771.4h8.8M762 768.4v6M757.9 768.1h8.8M762.2 765.1v6M758.1 758.3h8.8M762.5 755.3v6M758.4 756.7h8.8M762.8 753.7v6M758.9 767.2h8.8M763.2 764.2v6M759.1 780.3h8.8M763.5 777.3v6M759.4 807.4h8.8M763.8 804.4v6M759.6 781h8.8M764 778v6M759.9 757.1h8.8M764.2 754.1v6M760.1 754.8h8.8M764.5 751.8v6M760.6 735.8h8.8M765 732.8v6M760.9 787h8.8M765.2 784v6M761.1 766.1h8.8M765.5 763.1v6M761.4 790.8h8.8M765.8 787.8v6M761.6 772.4h8.8M766 769.4v6M761.9 770.9h8.8M766.2 767.9v6M762.1 786.7h8.8M766.5 783.7v6M762.4 812.4h8.8M766.8 809.4v6M762.6 781.1h8.8M767 778.1v6M762.9 749.3h8.8M767.2 746.3v6M763.1 752.7h8.8M767.5 749.7v6M763.6 782.6h8.8M768 779.6v6M763.9 771h8.8M768.2 768v6M764.1 815.2h8.8M768.5 812.2v6M764.4 808.3h8.8M768.8 805.3v6M764.6 776.3h8.8M769 773.3v6M764.9 753.7h8.8M769.2 750.7v6M765.1 791.8h8.8M769.5 788.8v6M765.4 789.1h8.8M769.8 786.1v6M765.6 761.8h8.8M770 758.8v6M765.9 790.7h8.8M770.2 787.7v6M766.1 739.8h8.8M770.5 736.8v6M766.4 749.4h8.8M770.8 746.4v6M766.6 763.9h8.8M771 760.9v6M766.9 747.3h8.8M771.2 744.3v6M767.1 791h8.8M771.5 788v6M767.4 757.7h8.8M771.8 754.7v6M767.6 802.7h8.8M772 799.7v6M767.9 777.4h8.8M772.2 774.4v6M768.1 829.3h8.8M772.5 826.3v6M768.4 776.9h8.8M772.8 773.9v6M768.6 797h8.8M773 794v6M768.9 744.4h8.8M773.2 741.4v6M769.1 863h8.8M773.5 860v6M769.4 769.3h8.8M773.8 766.3v6M769.6 791.6h8.8M774 788.6v6M769.9 769.2h8.8M774.2 766.2v6M770.1 787.5h8.8M774.5 784.5v6M770.4 757.2h8.8M774.8 754.2v6M770.6 786h8.8M775 783v6M770.9 777.6h8.8M775.2 774.6v6M771.1 785.3h8.8M775.5 782.3v6M771.4 781.1h8.8M775.8 778.1v6M771.6 789.2h8.8M776 786.2v6M771.9 752.1h8.8M776.2 749.1v6M772.1 792.4h8.8M776.5 789.4v6M772.4 772.4h8.8M776.8 769.4v6M772.6 766h8.8M777 763v6M772.9 782.6h8.8M777.2 779.6v6M773.1 766.8h8.8M777.5 763.8v6M773.4 792h8.8M777.8 789v6M773.6 756.3h8.8M778 753.3v6M773.9 762.2h8.8M778.2 759.2v6M774.1 804.2h8.8M778.5 801.2v6M774.4 820.3h8.8M778.8 817.3v6M774.6 768.2h8.8M779 765.2v6M774.9 777.5h8.8M779.2 774.5v6M775.1 797.2h8.8M779.5 794.2v6M775.4 778.8h8.8M779.8 775.8v6M775.9 781.3h8.8M780.2 778.3v6M776.1 827.6h8.8M780.5 824.6v6M776.4 782.3h8.8M780.8 779.3v6M776.6 806h8.8M781 803v6M776.9 816h8.8M781.2 813v6M777.1 790.6h8.8M781.5 787.6v6M777.4 838.1h8.8M781.8 835.1v6M777.6 768.7h8.8M782 765.7v6M777.9 781h8.8M782.2 778v6M778.1 786.4h8.8M782.5 783.4v6M778.4 764.7h8.8M782.8 761.7v6M778.6 773h8.8M783 770v6M778.9 796h8.8M783.2 793v6M779.1 845.3h8.8M783.5 842.3v6M779.4 788h8.8M783.8 785v6M779.6 818.6h8.8M784 815.6v6M779.9 809h8.8M784.2 806v6M780.1 780.7h8.8M784.5 777.7v6M780.4 788.9h8.8M784.8 785.9v6M780.6 788.4h8.8M785 785.4v6M780.9 825.3h8.8M785.2 822.3v6M781.1 778.9h8.8M785.5 775.9v6M781.4 808.2h8.8M785.8 805.2v6M781.6 807.6h8.8M786 804.6v6M781.9 786.3h8.8M786.2 783.3v6M782.1 826.4h8.8M786.5 823.4v6M782.4 779.3h8.8M786.8 776.3v6M782.6 821.5h8.8M787 818.5v6M782.9 787.3h8.8M787.2 784.3v6M783.1 812.8h8.8M787.5 809.8v6M783.4 791.5h8.8M787.8 788.5v6M783.6 745.4h8.8M788 742.4v6M783.9 790.7h8.8M788.2 787.7v6M784.1 796.9h8.8M788.5 793.9v6M784.4 855.1h8.8M788.8 852.1v6M784.6 801.7h8.8M789 798.7v6M784.9 772.8h8.8M789.2 769.8v6M785.1 879.2h8.8M789.5 876.2v6M785.4 792.5h8.8M789.8 789.5v6M785.6 803.8h8.8M790 800.8v6M785.9 796.5h8.8M790.2 793.5v6M786.1 769.4h8.8M790.5 766.4v6M786.4 802.2h8.8M790.8 799.2v6M786.6 738.8h8.8M791 735.8v6M786.9 773.4h8.8M791.2 770.4v6M787.1 744.5h8.8M791.5 741.5v6M787.4 782.5h8.8M791.8 779.5v6M787.6 777.1h8.8M792 774.1v6M787.9 808.4h8.8M792.2 805.4v6M788.1 776.9h8.8M792.5 773.9v6M788.4 751.6h8.8M792.8 748.6v6M788.6 769.3h8.8M793 766.3v6M789.1 758.5h8.8M793.5 755.5v6M789.4 758.9h8.8M793.8 755.9v6M789.6 775.7h8.8M794 772.7v6M789.9 770.6h8.8M794.2 767.6v6M790.1 798.8h8.8M794.5 795.8v6M790.4 734.7h8.8M794.8 731.7v6M790.6 745.5h8.8M795 742.5v6M790.9 720.5h8.8M795.2 717.5v6M791.1 737.6h8.8M795.5 734.6v6M791.4 763.9h8.8M795.8 760.9v6M791.6 776.8h8.8M796 773.8v6M791.9 833.2h8.8M796.2 830.2v6M792.1 759h8.8M796.5 756v6M792.4 759.8h8.8M796.8 756.8v6M792.6 778.6h8.8M797 775.6v6M792.9 777h8.8M797.2 774v6M793.1 768h8.8M797.5 765v6M793.4 779.2h8.8M797.8 776.2v6M793.6 764.2h8.8M798 761.2v6M793.9 772.2h8.8M798.2 769.2v6M794.1 732.8h8.8M798.5 729.8v6M794.4 730.1h8.8M798.8 727.1v6M794.6 773.4h8.8M799 770.4v6M794.9 822.8h8.8M799.2 819.8v6M795.1 748.9h8.8M799.5 745.9v6M795.4 761.1h8.8M799.8 758.1v6M795.6 764h8.8M800 761v6M795.9 787.7h8.8M800.2 784.7v6M796.1 761.6h8.8M800.5 758.6v6M796.4 770.8h8.8M800.8 767.8v6M796.6 736.5h8.8M801 733.5v6M797.1 758.1h8.8M801.5 755.1v6M797.4 770.1h8.8M801.8 767.1v6M797.6 824.5h8.8M802 821.5v6M797.9 726.9h8.8M802.2 723.9v6M798.1 758.5h8.8M802.5 755.5v6M798.4 765.1h8.8M802.8 762.1v6M798.6 760.3h8.8M803 757.3v6M798.9 753.6h8.8M803.2 750.6v6M799.1 720.5h8.8M803.5 717.5v6M799.4 806.1h8.8M803.8 803.1v6M799.6 766.5h8.8M804 763.5v6M799.9 788.7h8.8M804.2 785.7v6M800.1 795.5h8.8M804.5 792.5v6M800.4 764.2h8.8M804.8 761.2v6M800.6 752.2h8.8M805 749.2v6M800.9 754.6h8.8M805.2 751.6v6M801.1 756.2h8.8M805.5 753.2v6M801.4 719.4h8.8M805.8 716.4v6M801.6 741.6h8.8M806 738.6v6M801.9 780.8h8.8M806.2 777.8v6M802.1 731.4h8.8M806.5 728.4v6M802.4 754h8.8M806.8 751v6M802.6 777.8h8.8M807 774.8v6M802.9 814h8.8M807.2 811v6M803.1 769.5h8.8M807.5 766.5v6M803.4 804.6h8.8M807.8 801.6v6M803.6 767.4h8.8M808 764.4v6M803.9 750.5h8.8M808.2 747.5v6M804.1 765.1h8.8M808.5 762.1v6M804.4 792.2h8.8M808.8 789.2v6M804.6 778h8.8M809 775v6M804.9 753.2h8.8M809.2 750.2v6M805.1 768.5h8.8M809.5 765.5v6M805.4 749.5h8.8M809.8 746.5v6M805.6 710.5h8.8M810 707.5v6M805.9 722.1h8.8M810.2 719.1v6M806.1 747.3h8.8M810.5 744.3v6M806.4 756.7h8.8M810.8 753.7v6M806.6 779.8h8.8M811 776.8v6M806.9 801.8h8.8M811.2 798.8v6M807.1 702.3h8.8M811.5 699.3v6M807.4 724.6h8.8M811.8 721.6v6M807.6 785.5h8.8M812 782.5v6M808.1 746.5h8.8M812.5 743.5v6M808.4 772.9h8.8M812.8 769.9v6M808.6 752.3h8.8M813 749.3v6M808.9 792.5h8.8M813.2 789.5v6M809.1 787.9h8.8M813.5 784.9v6M809.4 724.5h8.8M813.8 721.5v6M809.6 754.9h8.8M814 751.9v6M809.9 741.7h8.8M814.2 738.7v6M810.1 743.2h8.8M814.5 740.2v6M810.4 761.4h8.8M814.8 758.4v6M810.6 799.9h8.8M815 796.9v6M810.9 752.4h8.8M815.2 749.4v6M811.1 775.4h8.8M815.5 772.4v6M811.4 734.9h8.8M815.8 731.9v6M811.6 822.7h8.8M816 819.7v6M811.9 765.9h8.8M816.2 762.9v6M812.1 750h8.8M816.5 747v6M812.4 756.4h8.8M816.8 753.4v6M812.6 761.6h8.8M817 758.6v6M812.9 756.3h8.8M817.2 753.3v6M813.1 770h8.8M817.5 767v6M813.4 781.1h8.8M817.8 778.1v6M813.6 793.6h8.8M818 790.6v6M813.9 819.2h8.8M818.2 816.2v6M814.1 792.6h8.8M818.5 789.6v6M814.4 775h8.8M818.8 772v6M814.9 747h8.8M819.2 744v6M815.1 735h8.8M819.5 732v6M815.4 738.6h8.8M819.8 735.6v6M815.6 770.5h8.8M820 767.5v6M815.9 746.7h8.8M820.2 743.7v6M816.1 793.8h8.8M820.5 790.8v6M816.4 759.7h8.8M820.8 756.7v6M816.6 814h8.8M821 811v6M816.9 811.4h8.8M821.2 808.4v6M817.1 764.4h8.8M821.5 761.4v6M817.4 718.6h8.8M821.8 715.6v6M817.6 758h8.8M822 755v6M817.9 771.1h8.8M822.2 768.1v6M818.1 775.1h8.8M822.5 772.1v6M818.4 740.3h8.8M822.8 737.3v6M818.6 783.9h8.8M823 780.9v6M818.9 775h8.8M823.2 772v6M819.1 745h8.8M823.5 742v6M819.4 779.7h8.8M823.8 776.7v6M819.6 769.8h8.8M824 766.8v6M819.9 779.7h8.8M824.2 776.7v6M820.1 769.9h8.8M824.5 766.9v6M820.4 774.3h8.8M824.8 771.3v6M820.6 757.9h8.8M825 754.9v6M820.9 735h8.8M825.2 732v6M821.1 766.1h8.8M825.5 763.1v6M821.4 762.5h8.8M825.8 759.5v6M821.6 777h8.8M826 774v6M821.9 766.4h8.8M826.2 763.4v6M822.1 765.2h8.8M826.5 762.2v6M822.4 770.2h8.8M826.8 767.2v6M822.6 776.6h8.8M827 773.6v6M822.9 766.7h8.8M827.2 763.7v6M823.1 750.8h8.8M827.5 747.8v6M823.4 797.2h8.8M827.8 794.2v6M823.6 759.8h8.8M828 756.8v6M823.9 741.2h8.8M828.2 738.2v6M824.1 776.6h8.8M828.5 773.6v6M824.4 781.5h8.8M828.8 778.5v6M824.9 777.2h8.8M829.2 774.2v6M825.1 779.1h8.8M829.5 776.1v6M825.4 787.9h8.8M829.8 784.9v6M825.6 754.7h8.8M830 751.7v6M825.9 799.9h8.8M830.2 796.9v6M826.1 758.6h8.8M830.5 755.6v6M826.4 727.4h8.8M830.8 724.4v6M826.6 736.3h8.8M831 733.3v6M826.9 776.1h8.8M831.2 773.1v6M827.1 763.4h8.8M831.5 760.4v6M827.4 757.3h8.8M831.8 754.3v6M827.6 777.9h8.8M832 774.9v6M827.9 770.5h8.8M832.2 767.5v6M828.1 788.1h8.8M832.5 785.1v6M828.4 782.6h8.8M832.8 779.6v6M828.6 758.7h8.8M833 755.7v6M828.9 773.8h8.8M833.2 770.8v6M829.1 843.2h8.8M833.5 840.2v6M829.4 748.4h8.8M833.8 745.4v6M829.6 821.5h8.8M834 818.5v6M829.9 737.6h8.8M834.2 734.6v6M830.1 754.8h8.8M834.5 751.8v6M830.4 824.9h8.8M834.8 821.9v6M830.6 766.2h8.8M835 763.2v6M830.9 759.9h8.8M835.2 756.9v6M831.1 782.8h8.8M835.5 779.8v6M831.4 740.2h8.8M835.8 737.2v6M831.6 779.7h8.8M836 776.7v6M831.9 729.3h8.8M836.2 726.3v6M832.1 781.6h8.8M836.5 778.6v6M832.4 792.1h8.8M836.8 789.1v6M832.6 789.5h8.8M837 786.5v6M832.9 764.5h8.8M837.2 761.5v6M833.1 758.2h8.8M837.5 755.2v6M833.4 739.1h8.8M837.8 736.1v6M833.6 759.9h8.8M838 756.9v6M833.9 739h8.8M838.2 736v6M834.1 719.2h8.8M838.5 716.2v6M834.4 764h8.8M838.8 761v6M834.6 756.7h8.8M839 753.7v6M834.9 731.3h8.8M839.2 728.3v6M835.1 771.4h8.8M839.5 768.4v6M835.4 750.8h8.8M839.8 747.8v6M835.6 735.1h8.8M840 732.1v6M835.9 768.8h8.8M840.2 765.8v6M836.1 781.2h8.8M840.5 778.2v6M836.4 775.5h8.8M840.8 772.5v6M836.6 803.9h8.8M841 800.9v6M836.9 763h8.8M841.2 760v6M837.1 778.6h8.8M841.5 775.6v6M837.4 802.3h8.8M841.8 799.3v6M837.6 785.9h8.8M842 782.9v6M837.9 804.3h8.8M842.2 801.3v6M838.1 763.9h8.8M842.5 760.9v6M838.4 766h8.8M842.8 763v6M838.6 729.4h8.8M843 726.4v6M838.9 794.2h8.8M843.2 791.2v6M839.1 788.9h8.8M843.5 785.9v6M839.4 783.2h8.8M843.8 780.2v6M839.6 758.3h8.8M844 755.3v6M839.9 761h8.8M844.2 758v6M840.4 781.3h8.8M844.8 778.3v6M840.9 796.9h8.8M845.2 793.9v6M841.1 759.6h8.8M845.5 756.6v6M841.4 751h8.8M845.8 748v6M841.6 849.8h8.8M846 846.8v6M841.9 757.1h8.8M846.2 754.1v6M842.1 764h8.8M846.5 761v6M842.4 773.7h8.8M846.8 770.7v6M842.6 744.8h8.8M847 741.8v6M842.9 753.5h8.8M847.2 750.5v6M843.1 754.3h8.8M847.5 751.3v6M843.4 787.8h8.8M847.8 784.8v6M843.6 762.7h8.8M848 759.7v6M843.9 826.4h8.8M848.2 823.4v6M844.1 730.1h8.8M848.5 727.1v6M844.4 786.3h8.8M848.8 783.3v6M844.6 827.4h8.8M849 824.4v6M844.9 803.7h8.8M849.2 800.7v6M845.1 784.9h8.8M849.5 781.9v6M845.4 767.2h8.8M849.8 764.2v6M845.6 787.8h8.8M850 784.8v6M845.9 767.7h8.8M850.2 764.7v6M846.1 791.6h8.8M850.5 788.6v6M846.4 780.8h8.8M850.8 777.8v6M846.6 826.2h8.8M851 823.2v6M846.9 759.3h8.8M851.2 756.3v6M847.1 765.4h8.8M851.5 762.4v6M847.4 815.6h8.8M851.8 812.6v6M847.6 790.8h8.8M852 787.8v6M847.9 795.3h8.8M852.2 792.3v6M848.1 804.7h8.8M852.5 801.7v6M848.4 757.4h8.8M852.8 754.4v6M848.6 831.6h8.8M853 828.6v6M848.9 788.7h8.8M853.2 785.7v6M849.1 780.3h8.8M853.5 777.3v6M849.4 806.2h8.8M853.8 803.2v6M849.6 793.2h8.8M854 790.2v6M849.9 818.8h8.8M854.2 815.8v6M850.1 748.9h8.8M854.5 745.9v6M850.4 796.9h8.8M854.8 793.9v6M850.6 808.5h8.8M855 805.5v6M850.9 770.9h8.8M855.2 767.9v6M851.1 751.7h8.8M855.5 748.7v6M851.4 768.3h8.8M855.8 765.3v6M851.6 755.3h8.8M856 752.3v6M851.9 878.6h8.8M856.2 875.6v6M852.1 738h8.8M856.5 735v6M852.4 772.6h8.8M856.8 769.6v6M852.6 790.7h8.8M857 787.7v6M852.9 761.9h8.8M857.2 758.9v6M853.1 782.3h8.8M857.5 779.3v6M853.4 782.1h8.8M857.8 779.1v6M853.6 810.4h8.8M858 807.4v6M853.9 840h8.8M858.2 837v6M854.1 796.5h8.8M858.5 793.5v6M854.4 823.1h8.8M858.8 820.1v6M854.6 789.2h8.8M859 786.2v6M854.9 787h8.8M859.2 784v6M855.1 799.6h8.8M859.5 796.6v6M855.6 831.9h8.8M860 828.9v6M855.9 830.4h8.8M860.2 827.4v6M856.1 789h8.8M860.5 786v6M856.4 813.8h8.8M860.8 810.8v6M856.6 829.7h8.8M861 826.7v6M857.1 784.6h8.8M861.5 781.6v6M857.4 768.6h8.8M861.8 765.6v6M857.6 817.4h8.8M862 814.4v6M857.9 775h8.8M862.2 772v6M858.1 794.5h8.8M862.5 791.5v6M858.4 811.2h8.8M862.8 808.2v6M858.6 804.9h8.8M863 801.9v6M858.9 773.7h8.8M863.2 770.7v6M859.1 773.1h8.8M863.5 770.1v6M859.4 769.1h8.8M863.8 766.1v6M859.6 755.1h8.8M864 752.1v6M859.9 824.5h8.8M864.2 821.5v6M860.1 813.7h8.8M864.5 810.7v6M860.4 761h8.8M864.8 758v6M860.6 792.9h8.8M865 789.9v6M860.9 779.1h8.8M865.2 776.1v6M861.1 780.9h8.8M865.5 777.9v6M861.4 802.3h8.8M865.8 799.3v6M861.6 780.6h8.8M866 777.6v6M861.9 740.4h8.8M866.2 737.4v6M862.1 753h8.8M866.5 750v6M862.4 773h8.8M866.8 770v6M862.6 755.1h8.8M867 752.1v6M862.9 801.4h8.8M867.2 798.4v6M863.1 785.6h8.8M867.5 782.6v6M863.4 748.4h8.8M867.8 745.4v6M863.6 778.2h8.8M868 775.2v6M863.9 763.5h8.8M868.2 760.5v6M864.1 749.7h8.8M868.5 746.7v6M864.6 730.3h8.8M869 727.3v6M864.9 763.5h8.8M869.2 760.5v6M865.1 767h8.8M869.5 764v6M865.4 745.4h8.8M869.8 742.4v6M865.6 821.5h8.8M870 818.5v6M865.9 752.4h8.8M870.2 749.4v6M866.1 729.4h8.8M870.5 726.4v6M866.4 785.6h8.8M870.8 782.6v6M866.6 767.3h8.8M871 764.3v6M866.9 745.2h8.8M871.2 742.2v6M867.1 806.4h8.8M871.5 803.4v6M867.4 790.2h8.8M871.8 787.2v6M867.6 782.7h8.8M872 779.7v6M867.9 774.1h8.8M872.2 771.1v6M868.1 784.6h8.8M872.5 781.6v6M868.4 808.1h8.8M872.8 805.1v6M868.6 722.5h8.8M873 719.5v6M868.9 757.3h8.8M873.2 754.3v6M869.1 792.5h8.8M873.5 789.5v6M869.4 868.2h8.8M873.8 865.2v6M869.6 772.3h8.8M874 769.3v6M869.9 785.3h8.8M874.2 782.3v6M870.1 785.4h8.8M874.5 782.4v6M870.4 706.9h8.8M874.8 703.9v6M870.6 739.6h8.8M875 736.6v6M870.9 801.7h8.8M875.2 798.7v6M871.1 726.2h8.8M875.5 723.2v6M871.4 762.4h8.8M875.8 759.4v6M871.6 769h8.8M876 766v6M871.9 733.3h8.8M876.2 730.3v6M872.1 742.7h8.8M876.5 739.7v6M872.4 763.6h8.8M876.8 760.6v6M872.6 746.6h8.8M877 743.6v6M872.9 757.8h8.8M877.2 754.8v6M873.1 764.5h8.8M877.5 761.5v6M873.4 752h8.8M877.8 749v6M873.6 806.3h8.8M878 803.3v6M873.9 747.9h8.8M878.2 744.9v6M874.1 746.3h8.8M878.5 743.3v6M874.4 737.2h8.8M878.8 734.2v6M874.6 789.1h8.8M879 786.1v6M874.9 796h8.8M879.2 793v6M875.1 761.4h8.8M879.5 758.4v6M875.4 769.5h8.8M879.8 766.5v6M875.6 776.4h8.8M880 773.4v6M875.9 802.9h8.8M880.2 799.9v6M876.1 769.6h8.8M880.5 766.6v6M876.4 845.8h8.8M880.8 842.8v6M876.6 744.5h8.8M881 741.5v6M876.9 718.1h8.8M881.2 715.1v6M877.1 754.4h8.8M881.5 751.4v6M877.4 772.4h8.8M881.8 769.4v6M877.9 794.7h8.8M882.2 791.7v6M878.1 721.3h8.8M882.5 718.3v6M878.4 781.7h8.8M882.8 778.7v6M878.6 735.6h8.8M883 732.6v6M879.1 723.5h8.8M883.5 720.5v6M879.6 784.8h8.8M884 781.8v6M879.9 770h8.8M884.2 767v6M880.1 760.8h8.8M884.5 757.8v6M880.4 742.3h8.8M884.8 739.3v6M880.6 741.4h8.8M885 738.4v6M880.9 733.2h8.8M885.2 730.2v6M881.1 773.3h8.8M885.5 770.3v6M881.4 799h8.8M885.8 796v6M881.6 756.2h8.8M886 753.2v6M881.9 771.6h8.8M886.2 768.6v6M882.1 739.2h8.8M886.5 736.2v6M882.4 741.6h8.8M886.8 738.6v6M882.6 759.3h8.8M887 756.3v6M882.9 752.8h8.8M887.2 749.8v6M883.1 750h8.8M887.5 747v6M883.4 792h8.8M887.8 789v6M883.6 738.7h8.8M888 735.7v6M883.9 775h8.8M888.2 772v6M884.1 752.4h8.8M888.5 749.4v6M884.4 757.5h8.8M888.8 754.5v6M884.6 745.6h8.8M889 742.6v6M884.9 751h8.8M889.2 748v6M885.1 759.3h8.8M889.5 756.3v6M885.6 778.5h8.8M890 775.5v6M885.9 758.6h8.8M890.2 755.6v6M886.1 710.9h8.8M890.5 707.9v6M886.4 744.4h8.8M890.8 741.4v6M886.6 779.7h8.8M891 776.7v6M886.9 748.7h8.8M891.2 745.7v6M887.1 787.1h8.8M891.5 784.1v6M887.4 703.9h8.8M891.8 700.9v6M887.6 745.4h8.8M892 742.4v6M887.9 738h8.8M892.2 735v6M888.1 753h8.8M892.5 750v6M888.4 709.6h8.8M892.8 706.6v6M888.6 754.9h8.8M893 751.9v6M888.9 757.1h8.8M893.2 754.1v6M889.1 784.8h8.8M893.5 781.8v6M889.4 742.8h8.8M893.8 739.8v6M889.6 762.5h8.8M894 759.5v6M890.1 737.6h8.8M894.5 734.6v6M890.4 768.4h8.8M894.8 765.4v6M890.6 767.1h8.8M895 764.1v6M890.9 786h8.8M895.2 783v6M891.1 762.3h8.8M895.5 759.3v6M891.4 754.3h8.8M895.8 751.3v6M891.6 786.4h8.8M896 783.4v6M891.9 747.9h8.8M896.2 744.9v6M892.1 758.5h8.8M896.5 755.5v6M892.4 766.5h8.8M896.8 763.5v6M892.6 759h8.8M897 756v6M892.9 772.1h8.8M897.2 769.1v6M893.1 709.1h8.8M897.5 706.1v6M893.4 757.7h8.8M897.8 754.7v6M893.6 777.7h8.8M898 774.7v6M893.9 761.8h8.8M898.2 758.8v6M894.1 726.2h8.8M898.5 723.2v6M894.6 763.2h8.8M899 760.2v6M894.9 773.7h8.8M899.2 770.7v6M895.1 780.1h8.8M899.5 777.1v6M895.4 756.6h8.8M899.8 753.6v6M895.6 778.2h8.8M900 775.2v6M895.9 784.5h8.8M900.2 781.5v6M896.1 788.5h8.8M900.5 785.5v6M896.4 748.9h8.8M900.8 745.9v6M896.6 756.3h8.8M901 753.3v6M897.1 790.3h8.8M901.5 787.3v6M897.4 773.1h8.8M901.8 770.1v6M897.6 781.9h8.8M902 778.9v6M897.9 777.2h8.8M902.2 774.2v6M898.1 798.3h8.8M902.5 795.3v6M898.4 772h8.8M902.8 769v6M898.6 787.4h8.8M903 784.4v6M898.9 786.4h8.8M903.2 783.4v6M899.1 782.2h8.8M903.5 779.2v6M899.4 754.5h8.8M903.8 751.5v6M899.6 769.5h8.8M904 766.5v6M899.9 786.5h8.8M904.2 783.5v6M900.1 787.8h8.8M904.5 784.8v6M900.4 775.5h8.8M904.8 772.5v6M900.6 797.5h8.8M905 794.5v6M900.9 798.8h8.8M905.2 795.8v6M901.1 756.7h8.8M905.5 753.7v6M901.4 795.5h8.8M905.8 792.5v6M901.6 801.5h8.8M906 798.5v6M901.9 790.8h8.8M906.2 787.8v6M902.1 762.9h8.8M906.5 759.9v6M902.4 793.2h8.8M906.8 790.2v6M902.6 781.4h8.8M907 778.4v6M902.9 769.2h8.8M907.2 766.2v6M903.1 763h8.8M907.5 760v6M903.4 763h8.8M907.8 760v6M903.6 792.9h8.8M908 789.9v6M903.9 747.7h8.8M908.2 744.7v6M904.1 859.9h8.8M908.5 856.9v6M904.4 765.1h8.8M908.8 762.1v6M904.6 740.8h8.8M909 737.8v6M904.9 824.8h8.8M909.2 821.8v6M905.1 764.2h8.8M909.5 761.2v6M905.4 774.4h8.8M909.8 771.4v6M905.6 779.9h8.8M910 776.9v6M905.9 787.1h8.8M910.2 784.1v6M906.1 803.1h8.8M910.5 800.1v6M906.4 819.9h8.8M910.8 816.9v6M906.6 807.8h8.8M911 804.8v6M906.9 822.5h8.8M911.2 819.5v6M907.1 819.7h8.8M911.5 816.7v6M907.4 818.5h8.8M911.8 815.5v6M907.6 810.6h8.8M912 807.6v6M907.9 819.1h8.8M912.2 816.1v6M908.1 795.3h8.8M912.5 792.3v6M908.4 799.3h8.8M912.8 796.3v6M908.6 771.4h8.8M913 768.4v6M908.9 799.5h8.8M913.2 796.5v6M909.1 758.8h8.8M913.5 755.8v6M909.4 768.1h8.8M913.8 765.1v6M909.6 803.8h8.8M914 800.8v6M909.9 806.8h8.8M914.2 803.8v6M910.1 798.5h8.8M914.5 795.5v6M910.4 813.8h8.8M914.8 810.8v6M910.6 790.8h8.8M915 787.8v6M910.9 797.7h8.8M915.2 794.7v6M911.1 808.4h8.8M915.5 805.4v6M911.4 804.2h8.8M915.8 801.2v6M911.6 807.2h8.8M916 804.2v6M911.9 805.9h8.8M916.2 802.9v6M912.1 765.1h8.8M916.5 762.1v6M912.4 795.7h8.8M916.8 792.7v6M912.6 790.2h8.8M917 787.2v6M912.9 778.5h8.8M917.2 775.5v6M913.1 814.6h8.8M917.5 811.6v6M913.4 835.4h8.8M917.8 832.4v6M913.6 786.4h8.8M918 783.4v6M913.9 865.2h8.8M918.2 862.2v6M914.1 824.7h8.8M918.5 821.7v6M914.4 808h8.8M918.8 805v6M914.6 899h8.8M919 896v6M914.9 812.8h8.8M919.2 809.8v6M915.1 823h8.8M919.5 820v6M915.4 797.8h8.8M919.8 794.8v6M915.6 806.9h8.8M920 803.9v6M915.9 790.3h8.8M920.2 787.3v6M916.1 832h8.8M920.5 829v6M916.4 815.4h8.8M920.8 812.4v6M916.6 756.8h8.8M921 753.8v6M916.9 789.7h8.8M921.2 786.7v6M917.1 808h8.8M921.5 805v6M917.4 824.6h8.8M921.8 821.6v6M917.6 770.3h8.8M922 767.3v6M917.9 812.8h8.8M922.2 809.8v6M918.1 826.5h8.8M922.5 823.5v6M918.4 828h8.8M922.8 825v6M918.6 794.8h8.8M923 791.8v6M918.9 816.6h8.8M923.2 813.6v6M919.1 782.7h8.8M923.5 779.7v6M919.4 809.9h8.8M923.8 806.9v6M919.6 902.5h8.8M924 899.5v6M919.9 832.7h8.8M924.2 829.7v6M920.1 818.2h8.8M924.5 815.2v6M920.4 804.5h8.8M924.8 801.5v6M920.6 836.1h8.8M925 833.1v6M920.9 821.7h8.8M925.2 818.7v6M921.1 828.6h8.8M925.5 825.6v6M921.4 808.2h8.8M925.8 805.2v6M921.6 814.5h8.8M926 811.5v6M922.1 803.4h8.8M926.5 800.4v6M922.4 827.8h8.8M926.8 824.8v6M922.6 841.6h8.8M927 838.6v6M922.9 826.2h8.8M927.2 823.2v6M923.1 805.8h8.8M927.5 802.8v6M923.4 830.2h8.8M927.8 827.2v6M923.6 859.9h8.8M928 856.9v6M924.1 835.4h8.8M928.5 832.4v6M924.4 847h8.8M928.8 844v6M924.6 826h8.8M929 823v6M925.1 804.8h8.8M929.5 801.8v6M925.4 852.5h8.8M929.8 849.5v6M925.6 765.1h8.8M930 762.1v6M925.9 805.1h8.8M930.2 802.1v6M926.4 840h8.8M930.8 837v6M926.6 817.2h8.8M931 814.2v6M926.9 818.6h8.8M931.2 815.6v6M927.4 765.1h8.8M931.8 762.1v6M927.6 775.1h8.8M932 772.1v6M927.9 746.3h8.8M932.2 743.3v6M928.1 780.7h8.8M932.5 777.7v6M928.4 771.2h8.8M932.8 768.2v6M928.6 781h8.8M933 778v6M928.9 753.9h8.8M933.2 750.9v6M929.1 806.3h8.8M933.5 803.3v6M929.4 761h8.8M933.8 758v6M929.6 772.4h8.8M934 769.4v6M930.1 794.9h8.8M934.5 791.9v6M930.4 771.6h8.8M934.8 768.6v6M930.6 777.1h8.8M935 774.1v6M930.9 749.3h8.8M935.2 746.3v6M931.1 811.4h8.8M935.5 808.4v6M931.4 799.9h8.8M935.8 796.9v6M931.6 780.2h8.8M936 777.2v6M931.9 780.9h8.8M936.2 777.9v6M932.1 807.3h8.8M936.5 804.3v6M932.4 752.5h8.8M936.8 749.5v6M932.6 781.4h8.8M937 778.4v6M932.9 749.6h8.8M937.2 746.6v6M933.1 762.5h8.8M937.5 759.5v6M933.4 785.5h8.8M937.8 782.5v6M933.6 782h8.8M938 779v6M933.9 745h8.8M938.2 742v6M934.1 766.2h8.8M938.5 763.2v6M934.4 773h8.8M938.8 770v6M934.6 776.8h8.8M939 773.8v6M934.9 762.5h8.8M939.2 759.5v6M935.1 775.9h8.8M939.5 772.9v6M935.4 781.1h8.8M939.8 778.1v6M935.6 776.1h8.8M940 773.1v6M935.9 762.6h8.8M940.2 759.6v6M936.1 756.6h8.8M940.5 753.6v6M936.4 775.1h8.8M940.8 772.1v6M936.6 771.7h8.8M941 768.7v6M936.9 774.4h8.8M941.2 771.4v6M937.1 747.5h8.8M941.5 744.5v6M937.4 770.4h8.8M941.8 767.4v6M937.6 786.7h8.8M942 783.7v6M937.9 790.4h8.8M942.2 787.4v6M938.1 765.4h8.8M942.5 762.4v6M938.4 796.7h8.8M942.8 793.7v6M938.6 765.9h8.8M943 762.9v6M938.9 769.3h8.8M943.2 766.3v6M939.1 819.4h8.8M943.5 816.4v6M939.4 784.7h8.8M943.8 781.7v6M939.6 772h8.8M944 769v6M939.9 806.9h8.8M944.2 803.9v6M940.1 766.6h8.8M944.5 763.6v6M940.4 761.9h8.8M944.8 758.9v6M940.6 769.1h8.8M945 766.1v6M940.9 749h8.8M945.2 746v6M941.1 719h8.8M945.5 716v6M941.4 772.9h8.8M945.8 769.9v6M941.6 762.8h8.8M946 759.8v6M941.9 759.3h8.8M946.2 756.3v6M942.4 742.4h8.8M946.8 739.4v6M942.6 744.9h8.8M947 741.9v6M942.9 760.5h8.8M947.2 757.5v6M943.1 730.9h8.8M947.5 727.9v6M943.4 742.7h8.8M947.8 739.7v6M943.6 781.3h8.8M948 778.3v6M943.9 723h8.8M948.2 720v6M944.1 780.3h8.8M948.5 777.3v6M944.4 768.4h8.8M948.8 765.4v6M944.6 761.2h8.8M949 758.2v6M944.9 730.9h8.8M949.2 727.9v6M945.1 730.4h8.8M949.5 727.4v6M945.4 722.4h8.8M949.8 719.4v6M945.6 857.4h8.8M950 854.4v6M945.9 753.5h8.8M950.2 750.5v6M946.1 736.5h8.8M950.5 733.5v6M946.4 755.4h8.8M950.8 752.4v6M946.6 770.3h8.8M951 767.3v6M946.9 762.6h8.8M951.2 759.6v6M947.1 789.3h8.8M951.5 786.3v6M947.4 793.6h8.8M951.8 790.6v6M947.6 778.3h8.8M952 775.3v6M947.9 799h8.8M952.2 796v6M948.1 737h8.8M952.5 734v6M948.4 785.3h8.8M952.8 782.3v6M948.6 768.3h8.8M953 765.3v6M948.9 776.7h8.8M953.2 773.7v6M949.1 778.3h8.8M953.5 775.3v6M949.4 776.2h8.8M953.8 773.2v6M949.6 800.2h8.8M954 797.2v6M949.9 809.9h8.8M954.2 806.9v6M950.1 734.5h8.8M954.5 731.5v6M950.4 845.8h8.8M954.8 842.8v6M950.6 767.3h8.8M955 764.3v6M950.9 761.7h8.8M955.2 758.7v6M951.1 801.1h8.8M955.5 798.1v6M951.4 785.5h8.8M955.8 782.5v6M951.6 757.9h8.8M956 754.9v6M951.9 779.6h8.8M956.2 776.6v6M952.1 776.8h8.8M956.5 773.8v6M952.4 774.7h8.8M956.8 771.7v6M952.6 780.5h8.8M957 777.5v6M952.9 772.1h8.8M957.2 769.1v6M953.1 773.9h8.8M957.5 770.9v6M953.6 757.7h8.8M958 754.7v6M953.9 770.4h8.8M958.2 767.4v6M954.1 845.8h8.8M958.5 842.8v6M954.4 730.5h8.8M958.8 727.5v6M954.6 788.2h8.8M959 785.2v6M954.9 771.1h8.8M959.2 768.1v6M955.1 772.2h8.8M959.5 769.2v6M955.4 785.1h8.8M959.8 782.1v6M955.6 768.2h8.8M960 765.2v6M955.9 775.9h8.8M960.2 772.9v6M956.1 776.9h8.8M960.5 773.9v6M956.4 809.7h8.8M960.8 806.7v6M956.6 810.5h8.8M961 807.5v6M956.9 841.6h8.8M961.2 838.6v6M957.1 808.4h8.8M961.5 805.4v6M957.4 828h8.8M961.8 825v6M957.6 824.1h8.8M962 821.1v6M957.9 848.4h8.8M962.2 845.4v6M958.1 727h8.8M962.5 724v6M958.4 805.1h8.8M962.8 802.1v6M958.6 834.3h8.8M963 831.3v6M958.9 772.6h8.8M963.2 769.6v6M959.1 787.4h8.8M963.5 784.4v6M959.4 835.6h8.8M963.8 832.6v6M959.6 841.9h8.8M964 838.9v6M959.9 815.9h8.8M964.2 812.9v6M960.4 849.7h8.8M964.8 846.7v6M960.6 851.1h8.8M965 848.1v6M960.9 807h8.8M965.2 804v6M961.1 871.7h8.8M965.5 868.7v6M961.4 816.6h8.8M965.8 813.6v6M961.6 818.1h8.8M966 815.1v6M961.9 789.4h8.8M966.2 786.4v6M962.1 780.6h8.8M966.5 777.6v6M962.4 767h8.8M966.8 764v6M962.6 821.7h8.8M967 818.7v6M962.9 815.6h8.8M967.2 812.6v6M963.1 772.1h8.8M967.5 769.1v6M963.4 745.1h8.8M967.8 742.1v6M963.6 780.4h8.8M968 777.4v6M963.9 796.6h8.8M968.2 793.6v6M964.1 808.8h8.8M968.5 805.8v6M964.4 786.5h8.8M968.8 783.5v6M964.6 752.3h8.8M969 749.3v6M964.9 772.9h8.8M969.2 769.9v6M965.1 800.6h8.8M969.5 797.6v6M965.6 753.9h8.8M970 750.9v6M965.9 764.2h8.8M970.2 761.2v6M966.1 802.8h8.8M970.5 799.8v6M966.6 785h8.8M971 782v6M966.9 789.7h8.8M971.2 786.7v6M967.1 757h8.8M971.5 754v6M967.4 754.3h8.8M971.8 751.3v6M967.6 801.5h8.8M972 798.5v6M968.1 778.7h8.8M972.5 775.7v6M968.4 789.2h8.8M972.8 786.2v6M968.6 787.5h8.8M973 784.5v6M968.9 792.6h8.8M973.2 789.6v6M969.1 777.7h8.8M973.5 774.7v6M969.4 794.6h8.8M973.8 791.6v6M969.6 760.1h8.8M974 757.1v6M969.9 814.3h8.8M974.2 811.3v6M970.1 790.6h8.8M974.5 787.6v6M970.6 774.3h8.8M975 771.3v6M970.9 831.8h8.8M975.2 828.8v6M971.1 779.4h8.8M975.5 776.4v6M971.4 704h8.8M975.8 701v6M971.6 795.5h8.8M976 792.5v6M971.9 744.2h8.8M976.2 741.2v6M972.1 729.6h8.8M976.5 726.6v6M972.4 757.3h8.8M976.8 754.3v6M972.6 755.5h8.8M977 752.5v6M972.9 775.2h8.8M977.2 772.2v6M973.1 782.6h8.8M977.5 779.6v6M973.4 764.9h8.8M977.8 761.9v6M973.6 766.9h8.8M978 763.9v6M973.9 738.7h8.8M978.2 735.7v6M974.1 778h8.8M978.5 775v6M974.4 803.4h8.8M978.8 800.4v6M974.6 759.6h8.8M979 756.6v6M974.9 797h8.8M979.2 794v6M975.1 741.4h8.8M979.5 738.4v6M975.4 780.2h8.8M979.8 777.2v6M975.6 715.8h8.8M980 712.8v6M975.9 777.7h8.8M980.2 774.7v6M976.1 774.7h8.8M980.5 771.7v6M976.4 778.2h8.8M980.8 775.2v6M976.6 801.4h8.8M981 798.4v6M976.9 762.4h8.8M981.2 759.4v6M977.1 833.2h8.8M981.5 830.2v6M977.4 758.2h8.8M981.8 755.2v6M977.6 769.1h8.8M982 766.1v6M977.9 769h8.8M982.2 766v6M978.1 809.5h8.8M982.5 806.5v6M978.4 794.9h8.8M982.8 791.9v6M978.6 815.5h8.8M983 812.5v6M978.9 876.8h8.8M983.2 873.8v6M979.1 781.2h8.8M983.5 778.2v6M979.9 790.1h8.8M984.2 787.1v6M980.1 791.3h8.8M984.5 788.3v6M980.4 823.7h8.8M984.8 820.7v6M980.6 815h8.8M985 812v6M980.9 821.1h8.8M985.2 818.1v6M981.1 769h8.8M985.5 766v6M981.4 832.1h8.8M985.8 829.1v6M981.6 803.3h8.8M986 800.3v6M981.9 816h8.8M986.2 813v6M982.1 775.2h8.8M986.5 772.2v6M982.4 782h8.8M986.8 779v6M982.6 823.7h8.8M987 820.7v6M982.9 804.7h8.8M987.2 801.7v6M983.1 861.4h8.8M987.5 858.4v6M983.4 770.6h8.8M987.8 767.6v6M983.6 815.5h8.8M988 812.5v6M983.9 794.4h8.8M988.2 791.4v6M984.1 825.3h8.8M988.5 822.3v6M984.4 814.9h8.8M988.8 811.9v6M984.6 844.6h8.8M989 841.6v6M984.9 842.4h8.8M989.2 839.4v6M985.1 791h8.8M989.5 788v6M985.4 839.1h8.8M989.8 836.1v6M985.6 818.1h8.8M990 815.1v6M985.9 851.8h8.8M990.2 848.8v6M986.1 824.7h8.8M990.5 821.7v6M986.4 804.7h8.8M990.8 801.7v6M986.6 792h8.8M991 789v6M986.9 812.7h8.8M991.2 809.7v6M987.1 781.1h8.8M991.5 778.1v6M987.4 791.9h8.8M991.8 788.9v6M987.6 840.1h8.8M992 837.1v6M987.9 739.5h8.8M992.2 736.5v6M988.1 843.1h8.8M992.5 840.1v6M988.4 791.6h8.8M992.8 788.6v6M988.6 737h8.8M993 734v6M989.4 741.8h8.8M993.8 738.8v6M989.6 766.8h8.8M994 763.8v6M990.1 823.5h8.8M994.5 820.5v6M990.4 812.5h8.8M994.8 809.5v6M990.6 806.8h8.8M995 803.8v6M990.9 826.2h8.8M995.2 823.2v6M991.1 793h8.8M995.5 790v6M991.4 731.1h8.8M995.8 728.1v6M991.6 810.7h8.8M996 807.7v6M991.9 801.4h8.8M996.2 798.4v6M992.1 771.2h8.8M996.5 768.2v6M992.4 766.3h8.8M996.8 763.3v6M992.6 830h8.8M997 827v6M992.9 803h8.8M997.2 800v6M993.1 805.6h8.8M997.5 802.6v6M993.4 763.4h8.8M997.8 760.4v6M993.6 825.4h8.8M998 822.4v6M993.9 862.5h8.8M998.2 859.5v6M994.1 735.6h8.8M998.5 732.6v6M994.4 806.2h8.8M998.8 803.2v6M994.6 770h8.8M999 767v6M994.9 828.6h8.8M999.2 825.6v6M995.1 785.4h8.8M999.5 782.4v6M995.4 843.3h8.8M999.8 840.3v6M995.6 810.9h8.8M1000 807.9v6M995.9 782.2h8.8M1000.2 779.2v6M996.1 809.2h8.8M1000.5 806.2v6M996.4 795.7h8.8M1000.8 792.7v6M996.6 743h8.8M1001 740v6M996.9 795.9h8.8M1001.2 792.9v6M997.1 742.7h8.8M1001.5 739.7v6M997.4 815.8h8.8M1001.8 812.8v6M997.9 765.7h8.8M1002.2 762.7v6M998.1 732.4h8.8M1002.5 729.4v6M998.4 802.4h8.8M1002.8 799.4v6M998.6 754.9h8.8M1003 751.9v6M998.9 846.2h8.8M1003.2 843.2v6M999.1 749.6h8.8M1003.5 746.6v6M999.4 724.4h8.8M1003.8 721.4v6M999.6 812h8.8M1004 809v6M999.9 800.7h8.8M1004.2 797.7v6M1000.1 795.2h8.8M1004.5 792.2v6M1000.6 754.4h8.8M1005 751.4v6M1000.9 799.5h8.8M1005.2 796.5v6M1001.1 865.6h8.8M1005.5 862.6v6M1001.4 854.9h8.8M1005.8 851.9v6M1001.9 808.7h8.8M1006.2 805.7v6M1002.1 800.6h8.8M1006.5 797.6v6M1002.4 846h8.8M1006.8 843v6M1002.6 825.9h8.8M1007 822.9v6M1002.9 795.4h8.8M1007.2 792.4v6M1003.1 853.5h8.8M1007.5 850.5v6M1003.4 843.8h8.8M1007.8 840.8v6M1003.6 869.9h8.8M1008 866.9v6M1003.9 815.6h8.8M1008.2 812.6v6M1004.1 838h8.8M1008.5 835v6M1004.4 839.4h8.8M1008.8 836.4v6M1004.6 860.7h8.8M1009 857.7v6M1004.9 864.8h8.8M1009.2 861.8v6M1005.1 792.9h8.8M1009.5 789.9v6M1005.4 843.6h8.8M1009.8 840.6v6M1005.6 798.1h8.8M1010 795.1v6M1005.9 800.1h8.8M1010.2 797.1v6M1006.1 824.9h8.8M1010.5 821.9v6M1006.4 826.9h8.8M1010.8 823.9v6M1006.6 800.5h8.8M1011 797.5v6M1006.9 814.5h8.8M1011.2 811.5v6M1007.1 899h8.8M1011.5 896v6M1007.4 794.8h8.8M1011.8 791.8v6M1007.6 795h8.8M1012 792v6M1007.9 826.8h8.8M1012.2 823.8v6M1008.1 818.6h8.8M1012.5 815.6v6M1008.4 833.4h8.8M1012.8 830.4v6M1008.6 808.7h8.8M1013 805.7v6M1008.9 846.1h8.8M1013.2 843.1v6M1009.1 836.2h8.8M1013.5 833.2v6M1009.4 851.8h8.8M1013.8 848.8v6M1009.9 776.6h8.8M1014.2 773.6v6M1010.1 835.5h8.8M1014.5 832.5v6M1010.4 827.2h8.8M1014.8 824.2v6M1010.6 775.5h8.8M1015 772.5v6M1011.1 792.6h8.8M1015.5 789.6v6M1011.4 833.9h8.8M1015.8 830.9v6M1011.6 752.4h8.8M1016 749.4v6M1011.9 819h8.8M1016.2 816v6M1012.1 875.9h8.8M1016.5 872.9v6M1012.4 788.8h8.8M1016.8 785.8v6M1012.6 840.5h8.8M1017 837.5v6M1013.1 787.9h8.8M1017.5 784.9v6M1013.4 809.2h8.8M1017.8 806.2v6M1013.6 764.1h8.8M1018 761.1v6M1013.9 779.4h8.8M1018.2 776.4v6M1014.1 891.8h8.8M1018.5 888.8v6M1014.4 871.2h8.8M1018.8 868.2v6M1014.9 826.2h8.8M1019.2 823.2v6M1015.1 807.1h8.8M1019.5 804.1v6M1015.4 819.2h8.8M1019.8 816.2v6M1015.6 863.9h8.8M1020 860.9v6M1015.9 819.7h8.8M1020.2 816.7v6M1016.1 837.5h8.8M1020.5 834.5v6M1016.4 844.1h8.8M1020.8 841.1v6M1016.6 839.5h8.8M1021 836.5v6M1017.1 807.5h8.8M1021.5 804.5v6M1017.4 758.6h8.8M1021.8 755.6v6M1017.6 835.9h8.8M1022 832.9v6M1017.9 809.3h8.8M1022.2 806.3v6M1018.1 856.1h8.8M1022.5 853.1v6M1018.4 805.9h8.8M1022.8 802.9v6M1018.6 818.3h8.8M1023 815.3v6M1018.9 809.3h8.8M1023.2 806.3v6M1019.1 820.8h8.8M1023.5 817.8v6M1019.4 851.4h8.8M1023.8 848.4v6M1019.9 798.5h8.8M1024.2 795.5v6M1020.1 854.8h8.8M1024.5 851.8v6M1020.4 809.5h8.8M1024.8 806.5v6M1020.6 832h8.8M1025 829v6M1020.9 814.3h8.8M1025.2 811.3v6M1021.1 822.7h8.8M1025.5 819.7v6M1021.4 786.9h8.8M1025.8 783.9v6M1021.6 840.6h8.8M1026 837.6v6M1021.9 810h8.8M1026.2 807v6M1022.1 852.9h8.8M1026.5 849.9v6M1022.6 828h8.8M1027 825v6M1022.9 836.9h8.8M1027.2 833.9v6M1023.1 863.5h8.8M1027.5 860.5v6M1023.4 838.2h8.8M1027.8 835.2v6M1023.9 828.1h8.8M1028.2 825.1v6M1024.1 894h8.8M1028.5 891v6M1024.6 846.6h8.8M1029 843.6v6M1024.8 877.8h8.8M1029.2 874.8v6M1025.1 844.6h8.8M1029.5 841.6v6M1025.3 803.5h8.8M1029.8 800.5v6M1025.6 830.6h8.8M1030 827.6v6M1025.8 872.3h8.8M1030.2 869.3v6M1026.1 874.8h8.8M1030.5 871.8v6M1026.3 812.7h8.8M1030.8 809.7v6M1026.6 812.4h8.8M1031 809.4v6M1026.8 824.3h8.8M1031.2 821.3v6M1027.1 832.4h8.8M1031.5 829.4v6M1027.3 803.4h8.8M1031.8 800.4v6M1027.6 824.6h8.8M1032 821.6v6M1027.8 835.5h8.8M1032.2 832.5v6M1028.1 823.7h8.8M1032.5 820.7v6M1028.3 826h8.8M1032.8 823v6M1028.6 826h8.8M1033 823v6M1028.8 835.6h8.8M1033.2 832.6v6M1029.1 820.6h8.8M1033.5 817.6v6M1029.3 811h8.8M1033.8 808v6M1029.6 811.4h8.8M1034 808.4v6M1029.8 845.7h8.8M1034.2 842.7v6M1030.1 835.8h8.8M1034.5 832.8v6M1030.3 854.4h8.8M1034.8 851.4v6M1030.6 818.9h8.8M1035 815.9v6M1030.8 769.2h8.8M1035.2 766.2v6M1031.1 850.6h8.8M1035.5 847.6v6M1031.3 797.4h8.8M1035.8 794.4v6M1031.6 793.9h8.8M1036 790.9v6M1031.8 828.7h8.8M1036.2 825.7v6M1032.1 781.2h8.8M1036.5 778.2v6M1032.3 808.1h8.8M1036.8 805.1v6M1032.6 820.7h8.8M1037 817.7v6M1032.8 757.7h8.8M1037.2 754.7v6M1033.1 849h8.8M1037.5 846v6M1033.3 797.4h8.8M1037.8 794.4v6M1033.6 817.1h8.8M1038 814.1v6M1034.3 803.6h8.8M1038.8 800.6v6M1034.6 810h8.8M1039 807v6M1034.8 818.2h8.8M1039.2 815.2v6M1035.1 797.3h8.8M1039.5 794.3v6M1035.3 781.9h8.8M1039.8 778.9v6M1035.6 755.4h8.8M1040 752.4v6M1035.8 810.1h8.8M1040.2 807.1v6M1036.1 782.2h8.8M1040.5 779.2v6M1036.3 849.1h8.8M1040.8 846.1v6M1036.6 794.1h8.8M1041 791.1v6M1036.8 797.8h8.8M1041.2 794.8v6M1037.1 868h8.8M1041.5 865v6M1037.3 793h8.8M1041.8 790v6M1037.6 937h8.8M1042 934v6M1037.8 781.8h8.8M1042.2 778.8v6M1038.3 780.3h8.8M1042.8 777.3v6M1038.6 730.2h8.8M1043 727.2v6M1038.8 842.1h8.8M1043.2 839.1v6M1039.1 836.3h8.8M1043.5 833.3v6M1039.3 768.9h8.8M1043.8 765.9v6M1039.6 810.8h8.8M1044 807.8v6M1039.8 928.5h8.8M1044.2 925.5v6M1040.1 797.7h8.8M1044.5 794.7v6M1040.3 815.2h8.8M1044.8 812.2v6M1040.6 768.3h8.8M1045 765.3v6M1040.8 824.4h8.8M1045.2 821.4v6M1041.1 832h8.8M1045.5 829v6M1041.3 840.5h8.8M1045.8 837.5v6M1041.6 836.7h8.8M1046 833.7v6M1041.8 831.2h8.8M1046.2 828.2v6M1042.1 806h8.8M1046.5 803v6M1042.3 813.8h8.8M1046.8 810.8v6M1042.6 884.4h8.8M1047 881.4v6M1042.8 913.9h8.8M1047.2 910.9v6M1043.1 809.9h8.8M1047.5 806.9v6M1043.3 847.4h8.8M1047.8 844.4v6M1043.6 824.7h8.8M1048 821.7v6M1043.8 784h8.8M1048.2 781v6M1044.3 827.9h8.8M1048.8 824.9v6M1044.6 937h8.8M1049 934v6M1044.8 874.5h8.8M1049.2 871.5v6M1045.1 912.1h8.8M1049.5 909.1v6M1045.3 835.1h8.8M1049.8 832.1v6M1046.1 888h8.8M1050.5 885v6M1046.3 906.2h8.8M1050.8 903.2v6M1046.6 807.7h8.8M1051 804.7v6M1046.8 881.9h8.8M1051.2 878.9v6M1047.1 873.6h8.8M1051.5 870.6v6M1047.3 937h8.8M1051.8 934v6M1047.6 853.5h8.8M1052 850.5v6M1047.8 877.8h8.8M1052.2 874.8v6M1048.1 857h8.8M1052.5 854v6M1048.3 870h8.8M1052.8 867v6M1048.8 839.5h8.8M1053.2 836.5v6M1049.1 845.3h8.8M1053.5 842.3v6M1049.3 908.3h8.8M1053.8 905.3v6M1049.6 904.9h8.8M1054 901.9v6M1049.8 839.3h8.8M1054.2 836.3v6M1050.1 910.4h8.8M1054.5 907.4v6M1050.3 890.3h8.8M1054.8 887.3v6M1050.6 868.2h8.8M1055 865.2v6M1050.8 898.9h8.8M1055.2 895.9v6M1051.1 825.4h8.8M1055.5 822.4v6M1051.3 802.8h8.8M1055.8 799.8v6M1051.6 937h8.8M1056 934v6M1051.8 875.2h8.8M1056.2 872.2v6M1052.1 840.4h8.8M1056.5 837.4v6M1052.3 838.2h8.8M1056.8 835.2v6M1052.6 876.9h8.8M1057 873.9v6M1052.8 893.6h8.8M1057.2 890.6v6M1053.1 832.9h8.8M1057.5 829.9v6M1053.3 869.4h8.8M1057.8 866.4v6M1053.6 866h8.8M1058 863v6M1053.8 825.5h8.8M1058.2 822.5v6M1054.1 821h8.8M1058.5 818v6M1054.3 866.4h8.8M1058.8 863.4v6M1054.6 820.3h8.8M1059 817.3v6M1054.8 877h8.8M1059.2 874v6M1055.1 805.7h8.8M1059.5 802.7v6M1055.3 845.5h8.8M1059.8 842.5v6M1055.6 790.7h8.8M1060 787.7v6M1055.8 809h8.8M1060.2 806v6M1056.1 824.6h8.8M1060.5 821.6v6M1056.3 759.3h8.8M1060.8 756.3v6M1056.6 808.7h8.8M1061 805.7v6M1056.8 828.5h8.8M1061.2 825.5v6M1057.1 796.2h8.8M1061.5 793.2v6M1057.3 851.6h8.8M1061.8 848.6v6M1057.6 827.7h8.8M1062 824.7v6M1057.8 905.3h8.8M1062.2 902.3v6M1058.1 820.2h8.8M1062.5 817.2v6M1058.6 857.2h8.8M1063 854.2v6M1058.8 858.9h8.8M1063.2 855.9v6M1059.1 867.8h8.8M1063.5 864.8v6M1059.3 866.9h8.8M1063.8 863.9v6M1059.6 838.6h8.8M1064 835.6v6M1059.8 832.7h8.8M1064.2 829.7v6M1060.1 817.7h8.8M1064.5 814.7v6M1060.6 803.2h8.8M1065 800.2v6M1060.8 887.6h8.8M1065.2 884.6v6M1061.1 893.1h8.8M1065.5 890.1v6M1061.3 884.2h8.8M1065.8 881.2v6M1061.6 858.8h8.8M1066 855.8v6M1061.8 828.6h8.8M1066.2 825.6v6M1062.1 864.3h8.8M1066.5 861.3v6M1062.3 792.6h8.8M1066.8 789.6v6M1062.6 752.2h8.8M1067 749.2v6M1062.8 845h8.8M1067.2 842v6M1063.1 857.8h8.8M1067.5 854.8v6M1063.3 816.2h8.8M1067.8 813.2v6M1063.6 729.7h8.8M1068 726.7v6M1063.8 787.6h8.8M1068.2 784.6v6M1064.1 820.6h8.8M1068.5 817.6v6M1064.3 848.6h8.8M1068.8 845.6v6M1064.6 793.5h8.8M1069 790.5v6M1064.8 800.9h8.8M1069.2 797.9v6M1065.1 865.2h8.8M1069.5 862.2v6M1065.3 715.9h8.8M1069.8 712.9v6M1065.6 755.3h8.8M1070 752.3v6M1065.8 865.9h8.8M1070.2 862.9v6M1066.1 799.2h8.8M1070.5 796.2v6M1066.3 869.1h8.8M1070.8 866.1v6M1066.6 902.1h8.8M1071 899.1v6M1066.8 862.9h8.8M1071.2 859.9v6M1067.1 857.4h8.8M1071.5 854.4v6M1067.3 817h8.8M1071.8 814v6M1067.6 866.3h8.8M1072 863.3v6M1067.8 880.5h8.8M1072.2 877.5v6M1068.1 900h8.8M1072.5 897v6M1068.3 775h8.8M1072.8 772v6M1068.6 858.3h8.8M1073 855.3v6M1068.8 877.3h8.8M1073.2 874.3v6M1069.1 900.8h8.8M1073.5 897.8v6M1069.3 868.3h8.8M1073.8 865.3v6M1069.6 854.6h8.8M1074 851.6v6M1069.8 825.1h8.8M1074.2 822.1v6M1070.1 911h8.8M1074.5 908v6M1070.3 849.1h8.8M1074.8 846.1v6M1070.6 913.7h8.8M1075 910.7v6M1070.8 857.3h8.8M1075.2 854.3v6M1071.1 864.9h8.8M1075.5 861.9v6M1071.3 820.3h8.8M1075.8 817.3v6M1071.6 799.4h8.8M1076 796.4v6M1071.8 864.2h8.8M1076.2 861.2v6M1072.1 845.4h8.8M1076.5 842.4v6M1072.6 906.1h8.8M1077 903.1v6M1072.8 797.4h8.8M1077.2 794.4v6M1073.1 799.4h8.8M1077.5 796.4v6M1073.3 894.6h8.8M1077.8 891.6v6M1073.6 815.9h8.8M1078 812.9v6M1073.8 807.4h8.8M1078.2 804.4v6M1074.1 775h8.8M1078.5 772v6M1074.3 813.9h8.8M1078.8 810.9v6M1074.6 874.1h8.8M1079 871.1v6M1074.8 887.4h8.8M1079.2 884.4v6M1075.1 775h8.8M1079.5 772v6M1075.3 863.5h8.8M1079.8 860.5v6M1075.6 811.3h8.8M1080 808.3v6M1075.8 821.1h8.8M1080.2 818.1v6M1076.1 873.4h8.8M1080.5 870.4v6M1076.3 842.1h8.8M1080.8 839.1v6M1076.6 860.5h8.8M1081 857.5v6M1076.8 874.1h8.8M1081.2 871.1v6M1077.1 873.3h8.8M1081.5 870.3v6M1077.3 862.4h8.8M1081.8 859.4v6M1077.6 883.9h8.8M1082 880.9v6M1077.8 828.8h8.8M1082.2 825.8v6M1078.1 812.6h8.8M1082.5 809.6v6M1078.3 815.1h8.8M1082.8 812.1v6M1078.6 850h8.8M1083 847v6M1078.8 817.2h8.8M1083.2 814.2v6M1079.1 857.6h8.8M1083.5 854.6v6M1079.3 842.9h8.8M1083.8 839.9v6M1079.6 909.9h8.8M1084 906.9v6M1079.8 811h8.8M1084.2 808v6M1080.1 898.1h8.8M1084.5 895.1v6M1080.3 878.3h8.8M1084.8 875.3v6M1080.6 937h8.8M1085 934v6M1080.8 825.1h8.8M1085.2 822.1v6M1081.1 872.6h8.8M1085.5 869.6v6M1081.3 828.3h8.8M1085.8 825.3v6M1081.6 835.3h8.8M1086 832.3v6M1081.8 862.3h8.8M1086.2 859.3v6M1082.1 888h8.8M1086.5 885v6M1082.3 909.3h8.8M1086.8 906.3v6M1082.6 836.8h8.8M1087 833.8v6M1082.8 823h8.8M1087.2 820v6M1083.1 855.8h8.8M1087.5 852.8v6M1083.6 895.6h8.8M1088 892.6v6M1083.8 875.6h8.8M1088.2 872.6v6M1084.1 878.4h8.8M1088.5 875.4v6M1084.3 889.3h8.8M1088.8 886.3v6M1084.6 853.2h8.8M1089 850.2v6M1084.8 876.2h8.8M1089.2 873.2v6M1085.1 933.8h8.8M1089.5 930.8v6M1085.3 874.6h8.8M1089.8 871.6v6M1085.6 826.9h8.8M1090 823.9v6M1085.8 837.1h8.8M1090.2 834.1v6M1086.1 843h8.8M1090.5 840v6M1086.3 864.3h8.8M1090.8 861.3v6M1086.6 877.1h8.8M1091 874.1v6M1086.8 791.1h8.8M1091.2 788.1v6M1087.1 822.2h8.8M1091.5 819.2v6M1087.3 836.1h8.8M1091.8 833.1v6M1087.6 810.9h8.8M1092 807.9v6M1087.8 775h8.8M1092.2 772v6M1088.1 801.7h8.8M1092.5 798.7v6M1088.3 893.1h8.8M1092.8 890.1v6M1088.6 798.4h8.8M1093 795.4v6M1088.8 914.7h8.8M1093.2 911.7v6M1089.1 852.8h8.8M1093.5 849.8v6M1089.3 856.7h8.8M1093.8 853.7v6M1089.6 925.7h8.8M1094 922.7v6M1089.8 929.1h8.8M1094.2 926.1v6M1090.1 803.7h8.8M1094.5 800.7v6M1090.3 891.9h8.8M1094.8 888.9v6M1090.6 875.5h8.8M1095 872.5v6M1090.8 822.6h8.8M1095.2 819.6v6M1091.1 837.6h8.8M1095.5 834.6v6M1091.3 813.9h8.8M1095.8 810.9v6M1091.6 917.6h8.8M1096 914.6v6M1091.8 937h8.8M1096.2 934v6M1092.1 792.9h8.8M1096.5 789.9v6M1092.3 819h8.8M1096.8 816v6M1092.6 844.2h8.8M1097 841.2v6M1092.8 812.9h8.8M1097.2 809.9v6M1093.1 893.9h8.8M1097.5 890.9v6M1093.3 860.6h8.8M1097.8 857.6v6M1093.6 840.8h8.8M1098 837.8v6M1094.1 783.9h8.8M1098.5 780.9v6M1094.3 786.5h8.8M1098.8 783.5v6M1094.6 851.3h8.8M1099 848.3v6M1094.8 775h8.8M1099.2 772v6M1095.1 883.6h8.8M1099.5 880.6v6M1095.3 831.9h8.8M1099.8 828.9v6M1095.6 891.9h8.8M1100 888.9v6M1095.8 863.5h8.8M1100.2 860.5v6M1096.1 874.8h8.8M1100.5 871.8v6M1096.3 867.2h8.8M1100.8 864.2v6" stroke="#7f7f7f" stroke-width="1.25" fill="none"/>
<path d="M163.2 718.4L164.4 716.5L165.5 716.4L166.6 716.8L167.8 717.9L168.9 717.2L170.2 721L171.4 720L172.7 722.1L173.8 725.9L175 721.6L176.1 719.9L177.2 721.2L178.4 723.3L179.5 722.6L180.6 728.9L181.8 728.3L182.9 728.1L184 727.8L185.3 728.3L186.6 729.9L187.8 729.7L189.1 728.5L190.3 740L191.6 735.4L193.1 734.1L194.6 729.7L195.8 732.3L196.9 732.5L198 729.1L199.2 729L200.4 728.4L201.7 726L203 727.9L204.2 727.3L205.5 722.6L206.7 727.1L207.9 727.6L209 723.7L210.1 726.2L211.3 732.5L212.4 726.3L213.7 731.4L214.9 723.5L216.2 727.8L217.3 729.9L218.5 731.8L219.6 736.5L220.7 739.2L221.9 735.4L223 737.7L224.1 738.3L225.3 742.8L226.4 745.2L227.5 746L228.8 743.4L230 751L231.2 751.2L232.5 754.3L233.7 757.2L235 753L236.2 749.8L237.4 748.3L238.5 747.7L239.6 742.9L240.8 741.1L241.9 740.6L243 740.1L244.2 733.5L245.3 739.5L246.4 736.1L247.7 739.4L248.9 739.3L250.1 740.8L251.4 738.4L252.6 733.3L253.9 734.8L255.2 731.7L256.5 729.4L257.8 727.8L259.1 727.9L260.3 731.8L261.6 737.3L262.7 736.6L263.8 733.7L265 735.2L266.1 732.7L267.2 735.4L268.5 737.9L269.8 743.2L271 739.2L272.3 744.7L273.6 747.8L274.8 752.4L276.1 745.6L277.3 744.2L278.6 743L279.7 743.5L280.9 741.1L282 738.9L283.1 733.5L284.3 737.3L285.4 733.8L286.5 737.2L287.7 733L288.8 737.2L289.9 734.6L291.2 733.8L292.5 730L293.7 731.6L294.9 737.1L296 726.4L297.1 732.7L298.3 730.6L299.4 735.4L300.5 734.8L301.7 737.5L302.8 739.9L303.9 737.9L305.1 737.3L306.2 738.4L307.3 741.3L308.5 739.2L309.6 743.8L310.7 746L311.9 745.9L313 742.5L314.1 741.4L315.3 736.3L316.4 735.4L317.7 734.4L318.9 729.9L320.2 727.8L321.3 725.4L322.5 723.7L323.6 721.6L324.7 727.8L326.2 727.3L327.8 731.6L329 734L330.3 739.5L331.5 743L332.7 744.6L333.8 747.3L334.9 755.2L336.1 759.3L337.2 761.9L338.5 764.4L339.7 765.4L341 765.6L342.1 762.6L343.3 763.7L344.4 762.4L345.5 762.1L346.7 758.1L347.8 755.9L348.9 752.3L350.1 756.3L351.2 754.5L352.3 750.5L353.9 744.4L355.4 739.2L356.7 744.7L358 761.9L359.3 762.1L360.5 769.5L361.8 769.4L362.9 765.2L364.1 763.2L365.2 765.1L366.3 760L367.5 761.5L368.6 762.5L369.7 761.8L370.9 765.8L372 766.7L373.1 767.5L374.4 772.3L375.7 769.1L376.9 777L378.1 778.6L379.2 778.8L380.3 773.8L381.5 770L382.6 769.4L383.8 776.4L385.1 780.3L386.3 778.9L387.5 784.6L388.7 781.1L389.8 778.5L390.9 772.3L392.1 771.3L393.2 770.6L394.3 773L395.5 775.6L396.6 765.1L397.7 769.4L399 770.7L400.3 764.9L401.6 766.7L402.9 769.6L404.2 767.5L405.3 763.6L406.4 766L407.6 762.6L408.7 764.4L409.8 757.7L411 760L412.2 765.8L413.5 758.8L414.8 761.9L416.3 773.4L417.8 788.3L419.1 792.7L420.4 803.5L421.7 795.6L423.1 780.8L424.3 782.4L425.5 782L426.8 786.1L428 782.7L429.1 777L430.3 775.1L431.4 775.5L432.5 770L433.7 769.4L434.8 767.5L435.9 766.7L437.1 765.3L438.2 765.6L439.3 763.8L440.6 766.6L441.9 777.9L443.1 780.8L444.3 776.3L445.4 769.9L446.5 765.8L447.7 763.4L448.8 758.1L450.7 743L451.9 754L453.2 767L454.5 777L455.6 779.6L456.7 774.7L457.9 769.5L459 773.3L460.1 771.3L461.3 769.1L462.4 766.4L463.5 762.9L464.7 756.5L465.8 758.1L466.9 755.1L468.1 754L469.2 750.9L470.3 753.1L471.5 746.7L472.7 747.4L474 734.2L475.3 735.4L477.2 725.9L478.4 735.5L479.7 731.7L480.9 739.2L482.2 743.1L483.5 756.5L484.7 754.3L486 756L487.2 751.8L488.5 746.7L489.6 742.2L490.8 743.3L491.9 742.5L493 736.8L494.2 737.3L495.4 741.5L496.7 740.2L498 746.7L499.1 750.1L500.2 745.9L501.4 743.5L502.5 748.9L503.6 744.8L504.9 742.7L506.2 739.9L507.4 731.6L508.5 731.1L509.7 736.1L510.8 740.5L512 739.5L513.1 746.7L514.2 745.2L515.4 743.2L516.5 740.5L517.6 738.9L518.8 737.3L519.9 735.6L521 743.4L522.2 747.7L523.3 742.9L524.4 748.6L525.6 743.3L526.7 744.1L527.8 738.8L529 737.3L530.1 737.3L531.2 735.9L532.4 733L533.5 731.8L534.6 738.2L535.8 735.4L536.9 735.7L538 743.7L539.2 742.3L540.3 749.2L541.5 750.5L542.6 747L543.7 742L544.9 744.9L546 741L547.1 739.2L548.4 744.2L549.6 758.7L550.9 760L552.2 763.6L553.4 755L554.7 756.8L556 755.1L557.2 753L558.5 754.3L559.7 755.2L561 755.7L562.3 756.1L563.5 749.9L564.8 754.1L566 752.4L567.3 755.6L568.6 747L569.8 751.4L571.1 750.2L572.3 754.2L573.6 752.4L574.7 747.4L575.9 749.9L577 748.4L578.1 745.8L579.3 746.7L581.2 739.2L582.4 744.1L583.7 745L584.9 754.3L586.2 757.5L587.5 764.3L588.7 773.2L589.9 777.4L591 781.3L592.1 779.3L593.3 781.1L594.4 784.6L595.7 774L596.9 768.1L598.2 765.6L599.4 781.1L600.7 798.6L602 811L603.9 795.9L605.1 784.6L606.4 773.8L607.6 765.6L608.9 776.6L610.2 792.4L611.4 803.5L612.7 792.8L613.9 775.6L615.2 761.9L616.5 767.1L617.7 775L619 780.8L620.1 776.6L621.3 775.3L622.4 775.7L623.5 771.4L624.7 763.5L625.8 764.9L627.1 773.9L628.4 780.1L629.7 776.5L631.6 761.1L632.9 770.7L634.2 786.9L635.4 801.6L636.7 794.9L638 788.1L639.3 776.5L640.6 774.3L641.9 786L643.2 784.2L644.5 783.6L645.7 778.3L647 772.7L648.3 775L649.6 772.8L650.9 780.4L652.2 777.6L653.5 771.9L654.7 770.7L656 773.6L657.3 773.5L658.6 776.5L659.9 775.9L661.2 787.1L662.5 784.2L663.8 787.2L665 772.6L666.3 772.7L667.6 775.9L668.9 775L670.2 780.4L671.5 776.6L672.8 766.4L674.1 763L675.3 766.2L676.6 765.4L677.9 768.8L679.2 765.4L680.5 753.8L681.8 753.4L682.9 753.8L684.1 752.4L685.3 752.2L686.4 750.7L687.6 749.5L688.9 755.7L690.1 758L691.4 757.2L692.7 753.7L694 753.4L695.3 751.4L696.6 752.5L697.9 756.5L699.2 761.1L700.4 769.6L701.7 766.2L703 772.7L704.3 769.2L705.6 765.3L706.9 755.3L708.2 759.8L709.4 763.4L710.7 763L712 754.5L713.3 750.4L714.6 745.6L715.9 747.3L717.2 757.1L718.5 757.2L719.7 759.5L721 760.4L722.3 764.9L723.6 762.2L724.9 762.8L726.2 757.2L727.5 759.6L728.8 770.9L730 774.6L731.3 771.8L732.6 767.7L733.9 764.9L735.2 765.3L736.5 761.9L737.8 763L739 758.4L740.3 755.4L741.6 757.2L742.9 760.1L744.2 757.2L745.5 763L746.8 764.7L748.1 767.3L749.3 772.7L750.6 772.5L751.9 760.6L753.2 764.9L754.5 760.7L755.8 758.5L757.1 755.3L758.4 761.6L759.6 766.7L760.9 772.7L762.2 777.5L763.5 777.4L764.8 780.4L766.1 777.9L767.4 778.4L768.6 776.5L769.9 778.6L771.2 779.7L772.5 780.4L773.8 778.8L775.1 778.2L776.4 772.7L777.7 786L779.1 792L780.6 791.1L782.2 795.8L783.7 800.5L785.3 809.3L786.6 810L788 799.7L789.2 791L790.5 778.8L791.8 776.5L793.1 770.3L794.4 766L795.7 759.2L797 766.7L798.2 769.2L799.5 772.7L800.8 771L802.1 766.8L803.4 763L804.7 769.7L806 766.6L807.3 774.6L808.5 767L809.8 760L811.1 751.4L812.4 759.1L813.7 768.7L815 772.7L816.3 770.8L817.6 778.5L818.8 776.5L820.1 777.4L821.4 771L822.7 772.7L824 770.3L825.3 768.6L826.6 766.9L827.9 763.2L829.1 770.8L830.4 772.7L831.7 772.4L833 773.7L834.3 776.5L835.6 765.1L836.9 764.4L838.1 757.2L839.4 765.9L840.7 771L842 772.7L843.3 774.5L844.6 771.2L845.9 768.8L847.2 780.8L848.6 788.1L849.7 794.2L850.9 807.4L852.2 800.3L853.6 795.8L854.9 785.7L856.3 776.5L857.5 790.1L858.6 803.6L860.2 817.1L861.7 801.2L863.2 788.1L864.5 782.7L865.8 780L867.1 772.7L868.4 772.5L869.7 780.6L871 782.3L872.3 780.2L873.5 779.5L874.8 776.5L876 773.6L877.1 770.6L878.3 765.5L879.5 763L881 763.6L882.5 759.2L883.8 764.5L885.1 766.1L886.4 766.9L887.7 762.2L889 761.1L890.3 759.2L891.6 761L892.8 766.8L894.1 763L895.4 763.7L896.7 761.8L898 759.2L899.5 772.8L901.1 780.4L902.2 777.6L903.4 782.9L904.6 774.3L905.7 782.3L907 784.9L908.3 790.4L909.6 793.9L910.9 792L912.1 791.7L913.4 799.7L914.7 798.5L916 805.9L917.3 807.4L919.2 828.6L921.2 811.3L922.4 810.2L923.7 808.2L925 805.5L926.9 832.5L928.9 834.4L930.4 814.6L932 795.8L933.3 788.7L934.7 776.5L936 775.3L937.2 769.8L938.5 768.8L939.8 771.3L941.1 778.9L942.4 776.5L943.7 770L945 763.1L946.3 761.1L948.2 749.5L949.7 752.7L951.3 763L952.6 768.4L954 784.2L955.3 778.2L956.6 782.4L957.8 776.5L959.1 788.4L960.4 798.4L961.7 807.4L963.6 828.6L965.2 818.1L966.7 803.6L968.1 792.1L969.4 784.2L970.7 780.5L972 779.3L973.3 776.5L974.6 776.9L975.9 768.8L977.1 766.9L978.5 770L979.8 780.4L981.4 791.5L982.9 807.4L984.5 805.3L986 795.8L987.4 809L988.7 822.9L990.1 813.7L991.4 811.3L992.6 804.2L993.7 795.8L995.1 801.5L996.4 803.6L997.7 796.9L999 792.8L1000.3 790L1001.7 779.7L1003 774.6L1004.6 789.5L1006.1 813.2L1008 840.2L1009.3 834.6L1010.6 833L1011.9 826.7L1013.2 820.4L1014.5 810.9L1015.8 803.6L1017.1 797.9L1018.5 799.7L1020 811.5L1021.5 822.9L1022.8 822.8L1024.1 820.4L1025.4 815.1L1026.9 836.8L1028.5 861.5L1029.8 841.6L1031.2 826.7L1032.5 824L1033.8 816.7L1035.1 811.3L1036.3 816.2L1037.6 816.1L1038.9 815.1L1040.2 807.7L1041.5 794.6L1042.8 784.2L1044.7 815.1L1046.3 829.4L1047.8 849.9L1049.2 862.6L1050.5 873.1L1051.8 871.1L1053.1 872.1L1054.4 869.2L1055.7 866.8L1057.1 865.3L1058.6 838L1060.2 807.4L1061.7 832.9L1063.2 861.5L1064.6 863.6L1065.9 865.3L1067.9 807.4L1069.8 803.6L1071.7 873.1" stroke="#e2181e" stroke-width="3.3" fill="none" stroke-linejoin="round"/>
<path d="M742.8 697.4L776 732.6" stroke="#e50615" stroke-width="3.4"/>
<path d="M781.7 738.6L770.4 735.1L778.8 727.2Z" fill="#e50615"/>
<path d="M875.6 707.8L1073.1 771.6" stroke="#e50615" stroke-width="3.4"/>
<path d="M1081 774.2L1069.4 776.5L1073 765.6Z" fill="#e50615"/>
<path d="M242.7 1033.2L243.4 1031.8L244.1 1027.6L244.9 1021L245.6 1012.3L246.3 1002.3L247.1 991.5L247.8 980.6L248.5 970.6L249.2 961.9L249.9 955.3L250.7 951.1L251.4 949.7L252.1 950.3L252.8 952.1L253.5 955.1L254.2 959L254.9 963.8L255.6 969.2L256.3 974.9L257.1 980.8L257.8 986.5L258.5 991.9L259.2 996.7L259.9 1000.6L260.6 1003.6L261.3 1005.4L262 1006L262.7 1005.6L263.5 1004.5L264.2 1002.6L265 1000.2L265.7 997.4L266.4 994.2L267.2 991L267.9 987.8L268.6 985L269.4 982.6L270.1 980.7L270.9 979.6L271.6 979.2L272.3 979.3L273 979.6L273.7 980L274.4 980.6L275.1 981.4L275.8 982.3L276.5 983.2L277.2 984.3L277.9 985.4L278.7 986.5L279.4 987.6L280.1 988.7L280.8 989.6L281.5 990.5L282.2 991.3L282.9 991.9L283.6 992.3L284.3 992.6L285 992.7L285.7 992.4L286.5 991.6L287.2 990.3L287.9 988.5L288.7 986.4L289.4 984L290.1 981.5L290.9 978.8L291.6 976.3L292.3 973.9L293.1 971.8L293.8 970L294.5 968.7L295.3 967.9L296 967.6L296.7 968.5L297.5 971.1L298.2 975.4L299 980.9L299.7 987.5L300.4 994.7L301.2 1002.2L301.9 1009.4L302.6 1016L303.4 1021.5L304.1 1025.8L304.9 1028.4L305.6 1029.3L306.3 1027.9L307.1 1023.8L307.8 1017.2L308.6 1008.5L309.3 998.2L310.1 986.9L310.8 975.2L311.6 963.9L312.3 953.6L313.1 944.9L313.8 938.3L314.6 934.2L315.3 932.8L316 934.3L316.8 938.8L317.5 945.9L318.3 955.3L319 966.4L319.7 978.6L320.5 991.2L321.2 1003.4L321.9 1014.5L322.7 1023.9L323.4 1031L324.2 1035.5L324.9 1037L325.6 1035.7L326.4 1031.7L327.1 1025.4L327.9 1017L328.6 1007.1L329.4 996.3L330.1 985.1L330.9 974.3L331.6 964.4L332.4 956L333.1 949.7L333.9 945.7L334.6 944.4L335.3 945.2L336 947.4L336.8 951.1L337.5 956.1L338.2 962.2L338.9 969.1L339.6 976.6L340.4 984.3L341.1 992.1L341.8 999.6L342.5 1006.5L343.2 1012.6L343.9 1017.6L344.7 1021.3L345.4 1023.5L346.1 1024.3L346.8 1023.7L347.6 1021.9L348.3 1018.9L349 1015L349.8 1010L350.5 1004.3L351.2 998L352 991.3L352.7 984.4L353.4 977.4L354.2 970.7L354.9 964.4L355.6 958.7L356.4 953.7L357.1 949.8L357.8 946.8L358.6 945L359.3 944.4L360 945.2L360.7 947.7L361.5 951.7L362.2 957L362.9 963.4L363.6 970.7L364.3 978.5L365.1 986.4L365.8 994.2L366.5 1001.5L367.2 1007.9L367.9 1013.2L368.7 1017.2L369.4 1019.7L370.1 1020.5L370.8 1020.1L371.6 1018.8L372.3 1016.7L373 1013.9L373.8 1010.4L374.5 1006.3L375.2 1001.8L376 996.9L376.7 991.8L377.4 986.6L378.1 981.5L378.9 976.6L379.6 972.1L380.3 968L381.1 964.5L381.8 961.7L382.5 959.6L383.3 958.3L384 957.9L384.7 958.6L385.4 960.6L386.1 963.8L386.8 968.2L387.5 973.6L388.2 979.8L388.9 986.6L389.6 993.8L390.4 1001.1L391.1 1008.3L391.8 1015.1L392.5 1021.3L393.2 1026.7L393.9 1031.1L394.6 1034.3L395.3 1036.3L396 1037L396.7 1036L397.4 1032.9L398.2 1027.9L398.9 1021.2L399.6 1013L400.3 1003.7L401 993.5L401.8 983L402.5 972.5L403.2 962.3L403.9 953L404.6 944.8L405.3 938.1L406.1 933.1L406.8 930L407.5 929L408.2 929.7L409 931.6L409.7 934.8L410.4 939.2L411.2 944.7L411.9 951L412.6 958.2L413.4 965.9L414.1 974.1L414.9 982.5L415.6 990.8L416.3 999L417.1 1006.7L417.8 1013.9L418.5 1020.2L419.3 1025.7L420 1030.1L420.7 1033.3L421.5 1035.2L422.2 1035.9L422.9 1035.1L423.7 1032.6L424.4 1028.6L425.1 1023.2L425.9 1016.5L426.6 1008.6L427.3 999.9L428.1 990.4L428.8 980.6L429.5 970.7L430.2 960.9L431 951.4L431.7 942.7L432.4 934.8L433.2 928.1L433.9 922.7L434.6 918.7L435.4 916.2L436.1 915.4L436.8 917L437.6 921.5L438.3 929L439.1 938.9L439.8 950.9L440.6 964.5L441.3 979L442.1 993.9L442.8 1008.4L443.6 1022L444.3 1034L445.1 1043.9L445.8 1051.4L446.6 1055.9L447.3 1057.5L448 1056.8L448.8 1054.7L449.5 1051.2L450.2 1046.4L451 1040.5L451.7 1033.6L452.4 1025.9L453.2 1017.5L453.9 1008.7L454.6 999.6L455.4 990.5L456.1 981.7L456.9 973.3L457.6 965.6L458.3 958.7L459.1 952.8L459.8 948L460.5 944.5L461.3 942.4L462 941.7L462.7 942.2L463.4 943.6L464.1 945.9L464.8 949.1L465.6 953L466.3 957.6L467 962.7L467.7 968.2L468.4 973.9L469.1 979.8L469.8 985.5L470.5 991L471.2 996.1L471.9 1000.7L472.7 1004.6L473.4 1007.8L474.1 1010.1L474.8 1011.5L475.5 1012L476.2 1011.8L476.9 1011L477.6 1009.9L478.3 1008.4L479 1006.5L479.7 1004.4L480.4 1002.1L481.1 999.9L481.8 997.6L482.5 995.5L483.2 993.6L483.9 992.1L484.6 991L485.3 990.2L486 990L486.7 989.8L487.5 989.2L488.2 988.2L489 986.8L489.7 985.3L490.4 983.5L491.2 981.8L491.9 980L492.6 978.5L493.4 977.1L494.1 976.1L494.9 975.5L495.6 975.3L496.3 975.7L497.1 976.9L497.8 978.7L498.5 981.1L499.3 983.9L500 986.9L500.7 989.9L501.5 992.7L502.2 995.1L502.9 996.9L503.7 998.1L504.4 998.5L505.1 998.1L505.8 997.1L506.5 995.4L507.2 993.1L507.9 990.3L508.6 987.1L509.3 983.8L510 980.3L510.7 977L511.4 973.8L512.1 971L512.8 968.7L513.5 967L514.2 966L514.9 965.6L515.6 965.9L516.4 966.8L517.1 968.4L517.8 970.5L518.6 973.1L519.3 976.1L520 979.6L520.8 983.4L521.5 987.4L522.2 991.5L523 995.7L523.7 999.8L524.4 1003.8L525.2 1007.6L525.9 1011.1L526.6 1014.1L527.4 1016.7L528.1 1018.8L528.8 1020.4L529.6 1021.3L530.3 1021.6L531 1020.9L531.8 1019L532.5 1015.7L533.2 1011.4L533.9 1006.2L534.6 1000.1L535.4 993.6L536.1 986.9L536.8 980.1L537.5 973.6L538.3 967.5L539 962.3L539.7 958L540.4 954.7L541.2 952.8L541.9 952.1L542.6 952.8L543.3 954.9L544.1 958.4L544.8 963L545.5 968.5L546.2 974.8L546.9 981.5L547.7 988.4L548.4 995.1L549.1 1001.4L549.8 1006.9L550.5 1011.5L551.3 1015L552 1017.1L552.7 1017.8L553.4 1017L554.2 1014.7L554.9 1011L555.7 1006L556.4 999.9L557.2 993.1L557.9 985.8L558.7 978.3L559.4 971L560.2 964.2L560.9 958.1L561.7 953.1L562.4 949.4L563.2 947.1L563.9 946.3L564.6 947.4L565.3 950.5L566.1 955.6L566.8 962.4L567.5 970.6L568.2 979.9L568.9 989.9L569.7 1000L570.4 1010L571.1 1019.3L571.8 1027.5L572.5 1034.3L573.3 1039.4L574 1042.5L574.7 1043.6L575.4 1042.4L576.1 1039L576.9 1033.5L577.6 1026.1L578.3 1017.1L579 1007L579.7 996.2L580.5 985.2L581.2 974.4L581.9 964.2L582.6 955.3L583.3 947.9L584.1 942.4L584.8 939L585.5 937.8L586.2 939L587 942.6L587.7 948.3L588.5 955.9L589.2 964.8L590 974.6L590.7 984.8L591.5 994.6L592.2 1003.5L593 1011.1L593.7 1016.8L594.5 1020.4L595.2 1021.6L595.9 1020.7L596.7 1018.1L597.4 1013.8L598.2 1008.2L598.9 1001.4L599.7 993.8L600.4 985.9L601.1 978L601.9 970.4L602.6 963.6L603.4 958L604.1 953.7L604.9 951.1L605.6 950.2L606.3 951L607.1 953.3L607.8 957L608.5 962.1L609.2 968.2L610 975.2L610.7 982.8L611.4 990.8L612.1 998.7L612.9 1006.3L613.6 1013.3L614.3 1019.4L615 1024.5L615.8 1028.2L616.5 1030.5L617.2 1031.3L617.9 1030.4L618.6 1027.9L619.3 1023.7L620 1018.2L620.7 1011.5L621.4 1003.9L622.1 995.8L622.8 987.6L623.5 979.5L624.2 971.9L624.9 965.2L625.6 959.7L626.3 955.5L627 953L627.7 952.1L628.4 952.9L629.1 955.1L629.8 958.6L630.5 963.2L631.2 968.6L632 974.3L632.7 980L633.4 985.4L634.1 990L634.8 993.5L635.5 995.7L636.2 996.5L636.9 996.2L637.6 995.3L638.3 993.8L639 992L639.7 989.9L640.5 987.6L641.2 985.5L641.9 983.7L642.6 982.2L643.3 981.3L644 981L644.7 981.4L645.4 982.6L646.1 984.5L646.9 987L647.6 990L648.3 993.3L649 996.9L649.7 1000.4L650.4 1003.7L651.1 1006.7L651.9 1009.2L652.6 1011.1L653.3 1012.3L654 1012.7L654.7 1012.1L655.4 1010.2L656.1 1007.3L656.8 1003.3L657.5 998.4L658.2 992.8L658.9 986.8L659.6 980.5L660.3 974.2L661 968.2L661.7 962.6L662.4 957.7L663.1 953.7L663.8 950.8L664.5 948.9L665.2 948.3L665.9 949.1L666.7 951.3L667.4 955L668.1 959.9L668.8 965.9L669.5 972.7L670.3 980.1L671 987.9L671.7 995.6L672.5 1003L673.2 1009.8L673.9 1015.8L674.6 1020.7L675.3 1024.4L676.1 1026.6L676.8 1027.4L677.5 1026.7L678.2 1024.8L679 1021.7L679.7 1017.5L680.4 1012.5L681.1 1006.7L681.8 1000.6L682.6 994.4L683.3 988.3L684 982.6L684.7 977.5L685.4 973.3L686.2 970.2L686.9 968.3L687.6 967.6L688.3 967.9L689 968.7L689.8 970L690.5 971.4L691.2 972.9L692 974.2L692.7 975L693.4 975.3L694.1 975L694.8 974.2L695.5 973L696.3 971.8L697 970.6L697.7 969.8L698.4 969.5L699.1 970.2L699.9 972.5L700.6 976L701.4 980.8L702.1 986.4L702.9 992.7L703.6 999.4L704.3 1006.1L705.1 1012.4L705.8 1018L706.6 1022.8L707.3 1026.3L708.1 1028.6L708.8 1029.3L709.5 1028.4L710.2 1025.9L711 1021.7L711.7 1016.2L712.4 1009.5L713.1 1002L713.8 993.9L714.6 985.6L715.3 977.5L716 970L716.7 963.3L717.4 957.8L718.2 953.6L718.9 951.1L719.6 950.2L720.3 950.9L721.1 953.2L721.8 956.7L722.6 961.5L723.3 967.1L724.1 973.4L724.8 980.1L725.5 986.8L726.3 993.1L727 998.7L727.8 1003.5L728.5 1007L729.3 1009.3L730 1010L730.7 1009.6L731.4 1008.4L732.1 1006.6L732.8 1004.1L733.5 1001L734.2 997.6L734.9 993.9L735.6 990.2L736.3 986.5L737 983.1L737.7 980L738.4 977.5L739.1 975.7L739.8 974.5L740.5 974.1L741.2 974.3L741.9 975.1L742.7 976.2L743.4 977.8L744.1 979.7L744.8 981.8L745.5 984.1L746.3 986.5L747 988.8L747.7 990.9L748.4 992.8L749.1 994.4L749.9 995.5L750.6 996.3L751.3 996.5L752 996.3L752.8 995.7L753.5 994.7L754.2 993.4L754.9 991.8L755.6 990L756.4 988L757.1 985.9L757.8 983.8L758.5 981.8L759.3 980L760 978.4L760.7 977.1L761.4 976.1L762.2 975.5L762.9 975.3L763.6 975.6L764.3 976.5L765.1 977.9L765.8 979.8L766.5 982L767.2 984.6L767.9 987.4L768.7 990.2L769.4 993L770.1 995.5L770.8 997.8L771.5 999.7L772.3 1001.1L773 1002L773.7 1002.3L774.4 1001.8L775.1 1000.3L775.8 998L776.5 994.9L777.2 991.3L778 987.5L778.7 983.6L779.4 980L780.1 976.9L780.8 974.6L781.5 973.1L782.2 972.6L782.9 973.1L783.7 974.5L784.4 976.7L785.1 979.5L785.9 982.9L786.6 986.5L787.3 990.1L788.1 993.4L788.8 996.3L789.5 998.5L790.3 999.9L791 1000.4L791.7 1000L792.4 998.7L793.1 996.8L793.9 994.1L794.6 991L795.3 987.6L796 984.2L796.7 980.8L797.4 977.7L798.2 975L798.9 973.1L799.6 971.8L800.3 971.4L801 972L801.8 973.6L802.5 976.3L803.3 979.7L804 983.9L804.8 988.4L805.5 993L806.3 997.5L807 1001.7L807.8 1005.1L808.5 1007.8L809.3 1009.4L810 1010L810.7 1009.3L811.5 1007.2L812.2 1003.8L813 999.4L813.7 994.2L814.4 988.5L815.2 982.5L815.9 976.8L816.6 971.6L817.4 967.2L818.1 963.8L818.9 961.7L819.6 961L820.3 961.8L821.1 964L821.8 967.5L822.6 972.2L823.3 977.7L824.1 983.7L824.8 990L825.6 996L826.3 1001.5L827.1 1006.2L827.8 1009.7L828.6 1011.9L829.3 1012.7L830 1011.7L830.8 1008.7L831.5 1003.9L832.2 997.8L833 990.9L833.7 983.6L834.5 976.7L835.2 970.6L835.9 965.8L836.7 962.8L837.4 961.8L838.1 962.8L838.8 965.8L839.5 970.6L840.2 976.8L840.9 984L841.6 991.7L842.4 999.4L843.1 1006.6L843.8 1012.8L844.5 1017.6L845.2 1020.6L845.9 1021.6L846.6 1020.4L847.4 1017L848.1 1011.4L848.9 1004.1L849.6 995.4L850.3 985.9L851.1 976.2L851.8 966.7L852.5 958L853.3 950.7L854 945.1L854.8 941.7L855.5 940.5L856.2 941.6L856.9 944.8L857.6 949.9L858.3 956.8L859 965.1L859.7 974.5L860.4 984.6L861.1 994.9L861.8 1005L862.5 1014.4L863.2 1022.7L863.9 1029.6L864.6 1034.7L865.3 1037.9L866 1039L866.7 1038L867.5 1035.2L868.2 1030.5L869 1024.3L869.7 1016.7L870.5 1008L871.2 998.6L872 988.8L872.7 979L873.4 969.6L874.2 960.9L874.9 953.3L875.7 947.1L876.4 942.4L877.2 939.6L877.9 938.6L878.6 939.5L879.4 942.2L880.1 946.5L880.8 952.3L881.5 959.4L882.2 967.6L883 976.4L883.7 985.5L884.4 994.6L885.1 1003.4L885.9 1011.6L886.6 1018.7L887.3 1024.5L888 1028.8L888.8 1031.5L889.5 1032.4L890.2 1031.6L890.9 1029.3L891.6 1025.5L892.3 1020.5L893 1014.3L893.7 1007.3L894.4 999.6L895.1 991.7L895.8 983.8L896.5 976.1L897.2 969.1L897.9 962.9L898.6 957.9L899.3 954.1L900 951.8L900.7 951L901.4 951.9L902.2 954.6L902.9 959L903.7 964.8L904.4 971.6L905.2 979L905.9 986.7L906.7 994.1L907.4 1000.9L908.2 1006.7L908.9 1011.1L909.7 1013.8L910.4 1014.7L911.1 1014.1L911.8 1012.4L912.5 1009.6L913.3 1005.8L914 1001.4L914.7 996.4L915.4 991.2L916.1 985.9L916.8 980.9L917.5 976.5L918.3 972.7L919 969.9L919.7 968.2L920.4 967.6L921.1 968L921.9 969.1L922.6 971L923.4 973.4L924.1 976.3L924.9 979.6L925.6 983L926.3 986.5L927.1 989.8L927.8 992.7L928.6 995.1L929.3 997L930.1 998.1L930.8 998.5L931.5 998.3L932.3 997.8L933 996.9L933.8 995.7L934.5 994.4L935.3 992.9L936 991.3L936.8 989.8L937.5 988.5L938.3 987.3L939 986.4L939.8 985.9L940.5 985.7L941.2 985.8L941.9 986.2L942.6 986.8L943.3 987.5L944 988.4L944.7 989.2L945.4 990.1L946.1 990.8L946.8 991.4L947.5 991.8L948.2 991.9L948.9 991.7L949.7 991.1L950.4 990.1L951.1 988.7L951.8 987.1L952.5 985.2L953.3 983.2L954 981.1L954.7 979L955.5 977L956.2 975.1L956.9 973.5L957.6 972.1L958.3 971.1L959.1 970.5L959.8 970.3L960.5 970.8L961.2 972.2L962 974.6L962.7 977.7L963.4 981.5L964.1 985.9L964.9 990.6L965.6 995.5L966.3 1000.5L967 1005.2L967.8 1009.6L968.5 1013.4L969.2 1016.5L969.9 1018.9L970.7 1020.3L971.4 1020.8L972.1 1020.1L972.9 1018L973.6 1014.6L974.3 1010L975 1004.4L975.8 998.1L976.5 991.1L977.2 984L977.9 976.8L978.6 969.8L979.4 963.5L980.1 957.9L980.8 953.3L981.5 949.9L982.3 947.8L983 947.1L983.7 947.8L984.4 949.8L985.2 953.1L985.9 957.6L986.6 963.1L987.3 969.4L988.1 976.3L988.8 983.5L989.5 991L990.2 998.2L991 1005.1L991.7 1011.4L992.4 1016.9L993.1 1021.4L993.9 1024.7L994.6 1026.7L995.3 1027.4L996 1026.7L996.7 1024.8L997.4 1021.7L998.1 1017.4L998.8 1012.2L999.5 1006.2L1000.2 999.7L1000.9 992.7L1001.7 985.7L1002.4 978.7L1003.1 972.2L1003.8 966.2L1004.5 961L1005.2 956.7L1005.9 953.6L1006.6 951.7L1007.3 951L1008 951.6L1008.7 953.2L1009.4 955.9L1010.1 959.5L1010.8 963.9L1011.5 968.9L1012.2 974.3L1012.9 979.9L1013.6 985.6L1014.3 991L1015 996L1015.7 1000.4L1016.4 1004L1017.1 1006.7L1017.8 1008.3L1018.5 1008.9L1019.2 1008.5L1020 1007.4L1020.7 1005.7L1021.4 1003.4L1022.2 1000.7L1022.9 997.9L1023.6 995.1L1024.4 992.4L1025.1 990.1L1025.8 988.4L1026.6 987.3L1027.3 986.9L1028 986.7L1028.8 986.1L1029.5 985.1L1030.3 983.8L1031 982.3L1031.8 980.6L1032.5 978.9L1033.3 977.2L1034 975.7L1034.8 974.4L1035.5 973.4L1036.3 972.8L1037 972.6L1037.7 973.2L1038.5 975L1039.2 977.9L1040 981.8L1040.7 986.3L1041.4 991.2L1042.2 996.4L1042.9 1001.3L1043.6 1005.8L1044.4 1009.7L1045.1 1012.6L1045.9 1014.4L1046.6 1015L1047.4 1013L1048.2 1007.7L1048.9 1000.4L1049.7 993L1050.5 987.7L1051.3 985.7" stroke="#0f9bd7" stroke-width="2.1" fill="none"/>
<path d="M157.3 1165.8L158 1164.7L158.7 1161.5L159.4 1156.3L160.1 1149.5L160.8 1141.2L161.5 1132.1L162.2 1122.4L163 1112.7L163.7 1103.6L164.4 1095.3L165.1 1088.5L165.8 1083.3L166.5 1080.1L167.2 1079L167.9 1080L168.6 1082.9L169.3 1087.7L170 1094L170.7 1101.5L171.4 1109.9L172.1 1118.8L172.9 1127.6L173.6 1136L174.3 1143.5L175 1149.8L175.7 1154.6L176.4 1157.5L177.1 1158.5L177.8 1157.4L178.6 1154.1L179.3 1148.8L180.1 1141.9L180.8 1133.9L181.6 1125.4L182.3 1116.8L183.1 1108.8L183.8 1101.9L184.6 1096.6L185.3 1093.3L186.1 1092.2L186.8 1093.3L187.5 1096.4L188.2 1101.3L189 1107.7L189.7 1115.2L190.4 1123.2L191.1 1131.2L191.8 1138.7L192.5 1145.1L193.3 1150L194 1153.1L194.7 1154.2L195.4 1153.3L196.1 1150.6L196.8 1146.2L197.5 1140.4L198.2 1133.4L198.9 1125.6L199.6 1117.5L200.4 1109.3L201.1 1101.5L201.8 1094.5L202.5 1088.7L203.2 1084.3L203.9 1081.6L204.6 1080.7L205.3 1081.8L206 1085.2L206.7 1090.5L207.5 1097.6L208.2 1106.2L208.9 1115.7L209.6 1125.7L210.3 1135.7L211 1145.2L211.7 1153.8L212.5 1160.9L213.2 1166.2L213.9 1169.6L214.6 1170.7L215.3 1169.6L216 1166.4L216.7 1161.1L217.4 1154.1L218.1 1145.6L218.8 1136L219.5 1125.8L220.2 1115.3L220.9 1105.1L221.6 1095.5L222.3 1087L223 1080L223.7 1074.7L224.4 1071.5L225.1 1070.4L225.8 1071.5L226.5 1074.8L227.2 1080.2L227.9 1087.4L228.6 1096L229.3 1105.8L230 1116.3L230.8 1127.1L231.5 1137.6L232.2 1147.3L232.9 1156L233.6 1163.2L234.3 1168.6L235 1171.9L235.7 1173L236.4 1171.8L237.1 1168.4L237.8 1162.9L238.5 1155.6L239.2 1146.9L239.9 1137.1L240.6 1126.9L241.4 1116.6L242.1 1106.8L242.8 1098.1L243.5 1090.8L244.2 1085.3L244.9 1081.9L245.6 1080.7L246.3 1081.5L247.1 1084L247.8 1088L248.5 1093.3L249.3 1099.6L250 1106.7L250.8 1114.1L251.5 1121.5L252.2 1128.6L253 1134.9L253.7 1140.2L254.4 1144.2L255.2 1146.7L255.9 1147.5L256.7 1146.7L257.4 1144.3L258.2 1140.5L258.9 1135.6L259.7 1130L260.4 1124.3L261.2 1118.7L261.9 1113.8L262.7 1110L263.4 1107.6L264.2 1106.8L265 1107.6L265.7 1110L266.5 1113.7L267.2 1118.4L268 1123.8L268.7 1129.5L269.5 1134.9L270.2 1139.6L271 1143.3L271.7 1145.7L272.5 1146.5L273.2 1145.5L274 1142.5L274.7 1137.8L275.5 1131.5L276.2 1124.1L276.9 1115.9L277.7 1107.6L278.4 1099.4L279.1 1092L279.9 1085.7L280.6 1081L281.4 1078L282.1 1077L282.8 1078.3L283.5 1082.2L284.2 1088.6L284.9 1097L285.6 1107L286.3 1118.2L287.1 1130L287.8 1141.8L288.5 1153L289.2 1163L289.9 1171.4L290.6 1177.8L291.3 1181.7L292 1183L292.7 1181.6L293.5 1177.5L294.2 1170.8L294.9 1161.8L295.6 1151L296.4 1138.7L297.1 1125.6L297.8 1112.2L298.5 1099.1L299.3 1086.8L300 1076L300.7 1067L301.4 1060.3L302.2 1056.2L302.9 1054.8L303.6 1056.3L304.4 1060.7L305.1 1067.8L305.8 1077.3L306.5 1088.8L307.3 1101.7L308 1115.6L308.7 1129.8L309.4 1143.7L310.2 1156.6L310.9 1168.1L311.6 1177.6L312.3 1184.7L313.1 1189.1L313.8 1190.6L314.5 1189.3L315.2 1185.6L316 1179.4L316.7 1171.2L317.4 1161.2L318.1 1149.7L318.9 1137.3L319.6 1124.3L320.3 1111.4L321.1 1099L321.8 1087.5L322.5 1077.5L323.2 1069.3L323.9 1063.1L324.7 1059.4L325.4 1058.1L326.1 1059.6L326.8 1063.9L327.5 1070.9L328.2 1080.2L328.9 1091.4L329.6 1103.8L330.4 1116.8L331.1 1129.9L331.8 1142.3L332.5 1153.5L333.2 1162.8L333.9 1169.8L334.6 1174.1L335.3 1175.6L336 1174.4L336.7 1170.8L337.4 1165L338.2 1157.2L338.9 1148L339.6 1137.7L340.3 1126.8L341 1115.9L341.7 1105.6L342.4 1096.4L343.2 1088.6L343.9 1082.8L344.6 1079.2L345.3 1078L346 1079.3L346.8 1083L347.5 1089L348.3 1097L349 1106.3L349.7 1116.6L350.5 1127.2L351.2 1137.5L351.9 1146.8L352.7 1154.8L353.4 1160.8L354.2 1164.5L354.9 1165.8L355.6 1164.3L356.3 1160.1L357 1153.2L357.8 1144.2L358.5 1133.5L359.2 1121.8L359.9 1109.8L360.6 1098.1L361.3 1087.4L362.1 1078.4L362.8 1071.5L363.5 1067.3L364.2 1065.8L364.9 1067.1L365.6 1071.1L366.3 1077.6L367 1086.2L367.7 1096.6L368.4 1108.3L369.1 1120.9L369.9 1133.8L370.6 1146.4L371.3 1158.1L372 1168.5L372.7 1177.1L373.4 1183.6L374.1 1187.6L374.8 1188.9L375.5 1187.4L376.3 1183L377 1175.8L377.7 1166.2L378.4 1154.6L379.2 1141.4L379.9 1127.4L380.6 1113L381.3 1099L382.1 1085.9L382.8 1074.2L383.5 1064.6L384.2 1057.4L385 1053L385.7 1051.5L386.4 1053L387.1 1057.6L387.8 1064.9L388.5 1074.7L389.2 1086.5L389.9 1099.9L390.6 1114.2L391.4 1128.9L392.1 1143.2L392.8 1156.6L393.5 1168.4L394.2 1178.2L394.9 1185.5L395.6 1190.1L396.3 1191.6L397 1190.3L397.7 1186.5L398.5 1180.4L399.2 1172.1L399.9 1162L400.6 1150.4L401.3 1137.9L402.1 1124.9L402.8 1111.9L403.5 1099.4L404.2 1087.8L404.9 1077.7L405.6 1069.4L406.4 1063.3L407.1 1059.5L407.8 1058.2L408.5 1059.5L409.2 1063.2L409.9 1069.2L410.6 1077.2L411.3 1087L412 1098L412.7 1109.7L413.5 1121.8L414.2 1133.5L414.9 1144.5L415.6 1154.3L416.3 1162.3L417 1168.3L417.7 1172L418.4 1173.3L419.1 1172.4L419.8 1169.9L420.5 1165.8L421.2 1160.3L421.9 1153.7L422.6 1146.2L423.3 1138.2L424 1129.9L424.7 1121.9L425.4 1114.4L426.1 1107.8L426.8 1102.3L427.5 1098.2L428.2 1095.7L428.9 1094.8L429.6 1095.4L430.4 1097.3L431.1 1100.3L431.8 1104.1L432.5 1108.4L433.3 1112.9L434 1117.2L434.7 1121L435.4 1124L436.2 1125.9L436.9 1126.5L437.6 1126L438.3 1124.6L439 1122.3L439.7 1119.5L440.4 1116.3L441.2 1113.1L441.9 1110.3L442.6 1108L443.3 1106.6L444 1106.1L444.7 1106.9L445.4 1109.3L446.1 1113.1L446.9 1118.2L447.6 1124.1L448.3 1130.7L449 1137.4L449.7 1144L450.4 1149.9L451.2 1155L451.9 1158.8L452.6 1161.2L453.3 1162L454 1161.1L454.7 1158.5L455.4 1154.2L456.1 1148.4L456.9 1141.4L457.6 1133.4L458.3 1124.7L459 1115.6L459.7 1106.5L460.4 1097.8L461.1 1089.8L461.9 1082.8L462.6 1077L463.3 1072.7L464 1070.1L464.7 1069.2L465.4 1070.4L466.1 1073.9L466.8 1079.6L467.5 1087.3L468.2 1096.5L468.9 1106.9L469.6 1118.1L470.3 1129.5L471 1140.7L471.7 1151.1L472.4 1160.3L473.1 1168L473.8 1173.7L474.5 1177.2L475.2 1178.4L475.9 1177.2L476.6 1173.7L477.4 1168L478.1 1160.3L478.8 1151.1L479.5 1140.7L480.2 1129.5L481 1118.1L481.7 1106.9L482.4 1096.5L483.1 1087.3L483.8 1079.6L484.6 1073.9L485.3 1070.4L486 1069.2L486.7 1070.3L487.5 1073.4L488.2 1078.5L488.9 1085.2L489.7 1093.5L490.4 1102.7L491.1 1112.6L491.9 1122.8L492.6 1132.7L493.3 1142L494.1 1150.2L494.8 1156.9L495.5 1162L496.3 1165.1L497 1166.2L497.7 1165.1L498.4 1162L499.2 1157L499.9 1150.5L500.6 1142.7L501.3 1134.1L502.1 1125.4L502.8 1116.8L503.5 1109L504.2 1102.5L505 1097.5L505.7 1094.4L506.4 1093.3L507.1 1094L507.8 1096.2L508.5 1099.6L509.2 1104.1L509.9 1109.3L510.6 1114.9L511.4 1120.5L512.1 1125.7L512.8 1130.2L513.5 1133.6L514.2 1135.8L514.9 1136.5L515.6 1135.9L516.3 1134.1L517 1131.3L517.7 1127.6L518.4 1123.3L519.1 1118.8L519.9 1114.2L520.6 1109.9L521.3 1106.2L522 1103.4L522.7 1101.6L523.4 1101L524.1 1101.8L524.8 1104.2L525.5 1108.1L526.2 1113.2L526.9 1119.3L527.6 1125.9L528.3 1132.8L529 1139.4L529.7 1145.5L530.4 1150.6L531.1 1154.5L531.8 1156.9L532.5 1157.7L533.2 1156.8L533.9 1154.2L534.7 1150L535.4 1144.3L536.1 1137.5L536.8 1129.8L537.5 1121.5L538.3 1113.1L539 1104.8L539.7 1097.1L540.4 1090.3L541.1 1084.6L541.9 1080.4L542.6 1077.8L543.3 1076.9L544 1077.9L544.7 1080.8L545.4 1085.6L546.2 1091.9L546.9 1099.6L547.6 1108.3L548.3 1117.6L549 1127L549.7 1136.3L550.4 1145L551.1 1152.7L551.9 1159L552.6 1163.8L553.3 1166.7L554 1167.7L554.7 1166.8L555.5 1164L556.2 1159.4L557 1153.4L557.7 1146L558.4 1137.8L559.2 1128.9L559.9 1119.9L560.7 1111L561.4 1102.8L562.1 1095.4L562.9 1089.4L563.6 1084.8L564.4 1082L565.1 1081.1L565.8 1081.9L566.5 1084.1L567.2 1087.7L568 1092.6L568.7 1098.6L569.4 1105.4L570.1 1112.7L570.8 1120.4L571.5 1128.1L572.2 1135.4L572.9 1142.2L573.6 1148.2L574.4 1153.1L575.1 1156.7L575.8 1158.9L576.5 1159.7L577.2 1158.9L577.9 1156.7L578.6 1153.1L579.4 1148.3L580.1 1142.4L580.8 1135.8L581.5 1128.7L582.2 1121.5L582.9 1114.4L583.6 1107.8L584.3 1101.9L585.1 1097.1L585.8 1093.5L586.5 1091.3L587.2 1090.5L587.9 1091.2L588.6 1093.1L589.3 1096.2L590.1 1100.3L590.8 1105.3L591.5 1110.8L592.2 1116.6L592.9 1122.4L593.6 1127.9L594.3 1132.9L595.1 1137L595.8 1140.1L596.5 1142L597.2 1142.7L598 1142.1L598.7 1140.4L599.5 1137.8L600.2 1134.2L601 1130.2L601.7 1125.8L602.5 1121.4L603.2 1117.4L604 1113.8L604.7 1111.2L605.5 1109.5L606.2 1108.9L606.9 1109.3L607.6 1110.6L608.4 1112.7L609.1 1115.4L609.8 1118.6L610.5 1122L611.2 1125.3L611.9 1128.5L612.6 1131.2L613.4 1133.3L614.1 1134.6L614.8 1135L615.5 1134.6L616.2 1133.4L616.9 1131.5L617.7 1129L618.4 1126L619.1 1122.8L619.8 1119.4L620.5 1116.2L621.2 1113.2L622 1110.7L622.7 1108.8L623.4 1107.6L624.1 1107.2L624.8 1107.6L625.5 1108.8L626.2 1110.6L626.9 1113.1L627.6 1116L628.3 1119.2L629 1122.5L629.7 1125.7L630.4 1128.6L631.1 1131.1L631.8 1132.9L632.5 1134.1L633.2 1134.5L633.9 1134.2L634.6 1133.4L635.3 1132.1L636 1130.3L636.7 1128.2L637.4 1125.9L638.2 1123.4L638.9 1120.9L639.6 1118.6L640.3 1116.5L641 1114.7L641.7 1113.4L642.4 1112.6L643.1 1112.3L643.8 1112.7L644.6 1113.7L645.3 1115.4L646 1117.6L646.8 1120.2L647.5 1122.9L648.2 1125.7L649 1128.3L649.7 1130.5L650.4 1132.2L651.2 1133.2L651.9 1133.6L652.6 1133.3L653.4 1132.5L654.1 1131.2L654.9 1129.5L655.6 1127.4L656.3 1125.1L657.1 1122.5L657.8 1120L658.6 1117.4L659.3 1115.1L660 1113L660.8 1111.3L661.5 1110L662.3 1109.2L663 1108.9L663.7 1109.3L664.4 1110.3L665.1 1112.1L665.8 1114.4L666.5 1117.1L667.2 1120.2L668 1123.4L668.7 1126.6L669.4 1129.7L670.1 1132.4L670.8 1134.7L671.5 1136.5L672.2 1137.5L672.9 1137.9L673.6 1137.5L674.3 1136.5L675 1134.8L675.7 1132.6L676.4 1129.9L677.1 1126.9L677.8 1123.7L678.6 1120.5L679.3 1117.5L680 1114.8L680.7 1112.6L681.4 1110.9L682.1 1109.9L682.8 1109.5L683.5 1109.8L684.3 1110.6L685 1112L685.7 1113.7L686.4 1115.6L687.2 1117.6L687.9 1119.5L688.6 1121.2L689.3 1122.6L690.1 1123.4L690.8 1123.7L691.5 1123.5L692.2 1122.8L693 1121.8L693.7 1120.5L694.4 1119.2L695.1 1117.9L695.9 1116.9L696.6 1116.2L697.3 1116L698 1116.4L698.7 1117.6L699.4 1119.5L700.1 1122.1L700.8 1125.1L701.5 1128.4L702.2 1131.7L702.9 1135L703.6 1138L704.3 1140.6L705 1142.5L705.7 1143.7L706.4 1144.1L707.1 1143.5L707.8 1141.6L708.6 1138.6L709.3 1134.5L710 1129.6L710.7 1124L711.4 1118.1L712.2 1112L712.9 1106.1L713.6 1100.5L714.3 1095.6L715 1091.5L715.8 1088.5L716.5 1086.6L717.2 1086L717.9 1086.9L718.7 1089.5L719.4 1093.7L720.1 1099.3L720.9 1106L721.6 1113.7L722.3 1121.9L723.1 1130.3L723.8 1138.5L724.5 1146.2L725.3 1152.9L726 1158.5L726.7 1162.7L727.5 1165.3L728.2 1166.2L728.9 1165.3L729.6 1162.7L730.3 1158.5L731.1 1152.8L731.8 1145.9L732.5 1138L733.2 1129.4L733.9 1120.5L734.6 1111.6L735.3 1103L736 1095.1L736.8 1088.2L737.5 1082.5L738.2 1078.3L738.9 1075.7L739.6 1074.8L740.3 1075.9L741 1079L741.7 1084.1L742.4 1090.8L743.1 1099L743.8 1108.3L744.5 1118.2L745.3 1128.4L746 1138.3L746.7 1147.5L747.4 1155.8L748.1 1162.5L748.8 1167.6L749.5 1170.7L750.2 1171.8L750.9 1170.6L751.7 1167.1L752.4 1161.3L753.1 1153.7L753.8 1144.7L754.6 1134.5L755.3 1123.9L756 1113.2L756.8 1103L757.5 1094L758.2 1086.4L758.9 1080.6L759.7 1077.1L760.4 1075.9L761.1 1077.1L761.8 1080.8L762.5 1086.7L763.3 1094.5L764 1103.7L764.7 1113.7L765.4 1124.1L766.1 1134.1L766.8 1143.3L767.6 1151.1L768.3 1157L769 1160.7L769.7 1161.9L770.4 1160.8L771.2 1157.4L771.9 1152L772.7 1144.8L773.4 1136.4L774.2 1127.2L774.9 1117.6L775.7 1108.4L776.4 1100L777.2 1092.8L777.9 1087.4L778.7 1084L779.4 1082.9L780.1 1084.1L780.9 1087.8L781.6 1093.7L782.4 1101.5L783.1 1110.7L783.8 1120.7L784.6 1131.1L785.3 1141.1L786 1150.3L786.8 1158.1L787.5 1164L788.3 1167.7L789 1168.9L789.7 1167.8L790.4 1164.5L791.2 1159.1L791.9 1151.9L792.6 1143.2L793.3 1133.4L794 1122.9L794.8 1112.2L795.5 1101.7L796.2 1091.9L796.9 1083.2L797.6 1076L798.4 1070.6L799.1 1067.3L799.8 1066.2L800.5 1067.7L801.3 1072L802 1078.9L802.7 1088.2L803.4 1099.2L804.2 1111.6L804.9 1124.5L805.6 1137.5L806.4 1149.9L807.1 1160.9L807.8 1170.2L808.5 1177.1L809.3 1181.4L810 1182.9L810.7 1181.7L811.5 1178.3L812.2 1172.7L812.9 1165.1L813.6 1155.9L814.4 1145.4L815.1 1134L815.8 1122.1L816.5 1110.2L817.2 1098.8L818 1088.3L818.7 1079.1L819.4 1071.5L820.1 1065.9L820.9 1062.5L821.6 1061.3L822.3 1062.6L823.1 1066.5L823.8 1072.7L824.6 1081.1L825.3 1091.2L826 1102.6L826.8 1114.8L827.5 1127.3L828.3 1139.5L829 1150.9L829.7 1161L830.5 1169.4L831.2 1175.6L832 1179.5L832.7 1180.8L833.4 1179.6L834.1 1176.2L834.9 1170.6L835.6 1163L836.3 1154L837 1143.7L837.7 1132.8L838.5 1121.5L839.2 1110.6L839.9 1100.3L840.6 1091.3L841.3 1083.7L842.1 1078.1L842.8 1074.7L843.5 1073.5L844.2 1074.5L845 1077.6L845.7 1082.5L846.4 1089L847.1 1096.9L847.9 1105.6L848.6 1114.8L849.3 1123.9L850.1 1132.6L850.8 1140.5L851.5 1147L852.2 1151.9L853 1155L853.7 1156L854.4 1155.2L855.2 1152.7L855.9 1148.9L856.7 1143.7L857.4 1137.7L858.1 1131L858.9 1124.2L859.6 1117.5L860.3 1111.5L861.1 1106.3L861.8 1102.5L862.6 1100L863.3 1099.2L864 1100.1L864.8 1102.7L865.5 1106.8L866.2 1112.2L867 1118.5L867.7 1125.3L868.4 1132.1L869.2 1138.4L869.9 1143.8L870.6 1147.9L871.4 1150.5L872.1 1151.4L872.8 1150.5L873.5 1147.7L874.2 1143.3L874.9 1137.5L875.6 1130.4L876.3 1122.6L877 1114.4L877.8 1106.1L878.5 1098.3L879.2 1091.2L879.9 1085.4L880.6 1081L881.3 1078.2L882 1077.3L882.7 1078.6L883.5 1082.3L884.2 1088.2L884.9 1096.2L885.6 1105.7L886.4 1116.3L887.1 1127.4L887.8 1138.6L888.6 1149.2L889.3 1158.7L890 1166.7L890.7 1172.6L891.5 1176.3L892.2 1177.6L892.9 1176.5L893.7 1173.3L894.4 1168.1L895.1 1161.1L895.8 1152.5L896.5 1142.8L897.3 1132.2L898 1121.2L898.7 1110.2L899.5 1099.6L900.2 1089.9L900.9 1081.3L901.6 1074.3L902.3 1069.1L903.1 1065.9L903.8 1064.8L904.5 1066L905.2 1069.6L905.9 1075.3L906.6 1083L907.3 1092.3L908 1102.8L908.7 1114L909.4 1125.5L910.1 1136.7L910.8 1147.2L911.5 1156.5L912.2 1164.2L912.9 1169.9L913.6 1173.5L914.3 1174.7L915 1173.6L915.7 1170.2L916.4 1164.8L917.2 1157.6L917.9 1148.9L918.6 1139.3L919.3 1129.2L920 1119.1L920.7 1109.5L921.4 1100.8L922.2 1093.6L922.9 1088.2L923.6 1084.8L924.3 1083.7L925 1084.6L925.8 1087.2L926.5 1091.5L927.3 1097L928 1103.6L928.7 1110.9L929.5 1118.3L930.2 1125.6L930.9 1132.2L931.7 1137.7L932.4 1142L933.2 1144.6L933.9 1145.5L934.6 1144.7L935.4 1142.3L936.1 1138.5L936.8 1133.5L937.5 1127.7L938.2 1121.5L939 1115.2L939.7 1109.4L940.4 1104.4L941.1 1100.6L941.9 1098.2L942.6 1097.4L943.3 1098.3L944 1101L944.8 1105.2L945.5 1110.8L946.2 1117.4L946.9 1124.7L947.7 1132.2L948.4 1139.5L949.1 1146.1L949.8 1151.7L950.6 1155.9L951.3 1158.6L952 1159.5L952.7 1158.4L953.5 1155.3L954.2 1150.3L954.9 1143.6L955.6 1135.6L956.4 1126.7L957.1 1117.2L957.8 1107.8L958.6 1098.9L959.3 1090.9L960 1084.2L960.7 1079.2L961.5 1076.1L962.2 1075L962.9 1076L963.6 1079.1L964.3 1084L965 1090.7L965.7 1098.7L966.4 1107.7L967.1 1117.4L967.8 1127.3L968.5 1137L969.2 1146L969.9 1154L970.6 1160.7L971.3 1165.6L972 1168.7L972.7 1169.7L973.4 1168.7L974.1 1165.8L974.8 1161.1L975.6 1154.8L976.3 1147.2L977 1138.7L977.7 1129.5L978.4 1120.1L979.1 1110.9L979.8 1102.4L980.5 1094.8L981.3 1088.5L982 1083.8L982.7 1080.9L983.4 1079.9L984.1 1080.7L984.9 1083L985.6 1086.7L986.3 1091.8L987.1 1097.9L987.8 1104.9L988.5 1112.5L989.2 1120.5L990 1128.4L990.7 1136L991.4 1143L992.2 1149.1L992.9 1154.2L993.6 1157.9L994.4 1160.2L995.1 1161L995.8 1160.2L996.5 1158L997.3 1154.3L998 1149.4L998.7 1143.5L999.4 1136.8L1000.1 1129.7L1000.9 1122.3L1001.6 1115.2L1002.3 1108.5L1003 1102.6L1003.7 1097.7L1004.5 1094L1005.2 1091.8L1005.9 1091L1006.6 1091.7L1007.4 1094L1008.1 1097.5L1008.9 1102.1L1009.6 1107.7L1010.3 1113.7L1011.1 1119.9L1011.8 1125.9L1012.5 1131.5L1013.3 1136.1L1014 1139.6L1014.8 1141.9L1015.5 1142.6L1016.2 1142.1L1017 1140.7L1017.7 1138.4L1018.5 1135.4L1019.2 1131.8L1019.9 1127.9L1020.7 1123.8L1021.4 1119.9L1022.1 1116.3L1022.9 1113.3L1023.6 1111L1024.4 1109.6L1025.1 1109.1L1025.8 1109.6L1026.5 1111.1L1027.3 1113.4L1028 1116.3L1028.7 1119.7L1029.4 1123.3L1030.1 1126.7L1030.8 1129.6L1031.6 1131.9L1032.3 1133.4L1033 1133.9L1033.7 1133.5L1034.4 1132.4L1035.1 1130.7L1035.9 1128.4L1036.6 1125.7L1037.3 1122.7L1038 1119.7L1038.7 1116.7L1039.4 1114L1040.2 1111.7L1040.9 1110L1041.6 1108.9L1042.3 1108.5L1043 1108.9L1043.8 1110L1044.5 1111.7L1045.3 1114L1046 1116.7L1046.8 1119.7L1047.5 1122.7L1048.3 1125.7L1049 1128.4L1049.8 1130.7L1050.5 1132.4L1051.3 1133.5L1052 1133.9L1052.7 1133.6L1053.4 1132.7L1054.1 1131.2L1054.9 1129.2L1055.6 1126.9L1056.3 1124.4L1057 1121.8L1057.7 1119.3L1058.4 1117L1059.2 1115L1059.9 1113.5L1060.6 1112.6L1061.3 1112.3L1062 1112.6L1062.8 1113.5L1063.5 1115L1064.3 1117L1065 1119.3L1065.7 1121.8L1066.5 1124.4L1067.2 1126.9L1067.9 1129.2L1068.7 1131.2L1069.4 1132.7L1070.2 1133.6L1070.9 1133.9L1071.6 1133.6L1072.4 1132.7L1073.1 1131.2L1073.8 1129.2L1074.5 1126.9L1075.3 1124.3L1076 1121.5L1076.7 1118.7L1077.5 1116.1L1078.2 1113.8L1078.9 1111.8L1079.6 1110.3L1080.4 1109.4L1081.1 1109.1L1081.8 1109.5L1082.6 1110.5L1083.3 1112.2L1084 1114.4L1084.7 1117L1085.5 1120L1086.2 1123.1L1086.9 1126.2L1087.7 1129.2L1088.4 1131.8L1089.1 1134L1089.8 1135.7L1090.6 1136.7L1091.3 1137.1L1092 1136.6L1092.7 1135L1093.5 1132.6L1094.2 1129.4L1094.9 1125.8L1095.6 1122.1L1096.3 1118.5L1097 1115.3L1097.8 1112.9L1098.5 1111.3L1099.2 1110.8" stroke="#d0141e" stroke-width="1.7" fill="none"/>
<text transform="translate(159.3 118.9) scale(1.0 1)" font-size="28.5" font-weight="bold">A</text>
<text transform="translate(160.4 296.8) scale(0.905 1)" font-size="28.5" font-weight="bold">B</text>
<text transform="translate(159.9 469.1) scale(0.907 1)" font-size="28.5" font-weight="bold">C</text>
<text transform="translate(160.3 709.8) scale(0.907 1)" font-size="28.5" font-weight="bold">D</text>
<text transform="translate(160.4 980.9) scale(0.924 1)" font-size="28.5" font-weight="bold">E</text>
<text transform="translate(160.3 1078.1) scale(0.92 1)" font-size="28.5" font-weight="bold">F</text></svg>
</body></html>
